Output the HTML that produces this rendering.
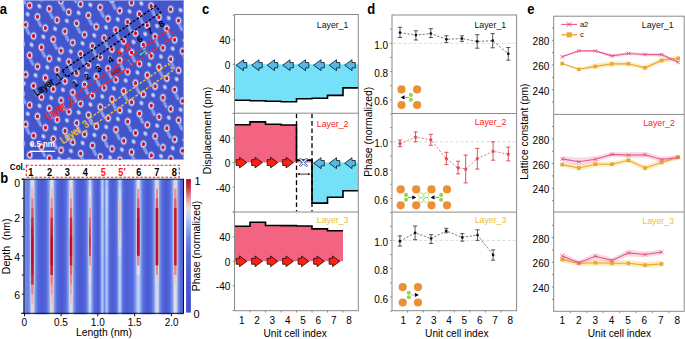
<!DOCTYPE html>
<html><head><meta charset="utf-8"><style>
html,body{margin:0;padding:0;background:#fff;width:685px;height:339px;overflow:hidden;}
svg{display:block;font-family:"Liberation Sans",sans-serif;}
</style></head><body>
<svg width="685" height="339" viewBox="0 0 685 339" font-family="Liberation Sans, sans-serif"><text x="0" y="0" font-size="13" text-anchor="start" fill="#000" font-weight="bold" transform="translate(-0.20,14.00) scale(1,1.16)" >a</text>
<text x="0" y="0" font-size="13" text-anchor="start" fill="#000" font-weight="bold" transform="translate(0.20,182.50) scale(1,1.16)" >b</text>
<text x="0" y="0" font-size="13" text-anchor="start" fill="#000" font-weight="bold" transform="translate(202.00,14.10) scale(1,1.16)" >c</text>
<text x="0" y="0" font-size="13" text-anchor="start" fill="#000" font-weight="bold" transform="translate(367.30,14.20) scale(1,1.16)" >d</text>
<text x="0" y="0" font-size="13" text-anchor="start" fill="#000" font-weight="bold" transform="translate(527.30,14.20) scale(1,1.16)" >e</text>
<defs>
<clipPath id="clipA"><rect x="23.6" y="0" width="160.2" height="159.7"/></clipPath>
<radialGradient id="gRed"><stop offset="0" stop-color="#c21628"/><stop offset="0.30" stop-color="#c81a32"/><stop offset="0.37" stop-color="#dc7890"/><stop offset="0.44" stop-color="#d6dcf4"/><stop offset="0.56" stop-color="#b6c4f0"/><stop offset="0.78" stop-color="#8295e2" stop-opacity="0.6"/><stop offset="1" stop-color="#4455cc" stop-opacity="0"/></radialGradient>
<radialGradient id="gWht"><stop offset="0" stop-color="#d8e1f9"/><stop offset="0.3" stop-color="#c0cef5"/><stop offset="0.65" stop-color="#8fa2ea" stop-opacity="0.75"/><stop offset="1" stop-color="#4455cc" stop-opacity="0"/></radialGradient>
<radialGradient id="gFnt"><stop offset="0" stop-color="#aabcf2" stop-opacity="0.8"/><stop offset="0.5" stop-color="#94a8ea" stop-opacity="0.55"/><stop offset="1" stop-color="#4455cc" stop-opacity="0"/></radialGradient>
<radialGradient id="gTrl"><stop offset="0" stop-color="#a8baf2" stop-opacity="0.9"/><stop offset="0.6" stop-color="#8ea2e8" stop-opacity="0.6"/><stop offset="1" stop-color="#4455cc" stop-opacity="0"/></radialGradient>
</defs>
<g clip-path="url(#clipA)">
<rect x="23.60" y="0.00" width="160.20" height="159.70" fill="#4455cc" stroke="none" stroke-width="1" />
<ellipse cx="19.95" cy="152.35" rx="2.9" ry="3.6" fill="url(#gWht)" transform="rotate(-30 19.95 152.35)"/>
<ellipse cx="16.00" cy="121.81" rx="2.9" ry="3.6" fill="url(#gWht)" transform="rotate(-30 16.00 121.81)"/>
<ellipse cx="31.70" cy="144.37" rx="2.9" ry="3.6" fill="url(#gWht)" transform="rotate(-30 31.70 144.37)"/>
<ellipse cx="47.40" cy="166.93" rx="2.9" ry="3.6" fill="url(#gWht)" transform="rotate(-30 47.40 166.93)"/>
<ellipse cx="27.75" cy="113.83" rx="2.9" ry="3.6" fill="url(#gWht)" transform="rotate(-30 27.75 113.83)"/>
<ellipse cx="43.45" cy="136.39" rx="2.9" ry="3.6" fill="url(#gWht)" transform="rotate(-30 43.45 136.39)"/>
<ellipse cx="59.15" cy="158.95" rx="2.9" ry="3.6" fill="url(#gWht)" transform="rotate(-30 59.15 158.95)"/>
<ellipse cx="23.80" cy="83.29" rx="2.9" ry="3.6" fill="url(#gWht)" transform="rotate(-30 23.80 83.29)"/>
<ellipse cx="39.50" cy="105.85" rx="2.9" ry="3.6" fill="url(#gWht)" transform="rotate(-30 39.50 105.85)"/>
<ellipse cx="55.20" cy="128.41" rx="2.9" ry="3.6" fill="url(#gWht)" transform="rotate(-30 55.20 128.41)"/>
<ellipse cx="70.90" cy="150.97" rx="2.9" ry="3.6" fill="url(#gWht)" transform="rotate(-30 70.90 150.97)"/>
<ellipse cx="19.85" cy="52.75" rx="2.9" ry="3.6" fill="url(#gWht)" transform="rotate(-30 19.85 52.75)"/>
<ellipse cx="35.55" cy="75.31" rx="2.9" ry="3.6" fill="url(#gWht)" transform="rotate(-30 35.55 75.31)"/>
<ellipse cx="51.25" cy="97.87" rx="2.9" ry="3.6" fill="url(#gWht)" transform="rotate(-30 51.25 97.87)"/>
<ellipse cx="66.95" cy="120.43" rx="2.9" ry="3.6" fill="url(#gWht)" transform="rotate(-30 66.95 120.43)"/>
<ellipse cx="82.65" cy="142.99" rx="2.9" ry="3.6" fill="url(#gWht)" transform="rotate(-30 82.65 142.99)"/>
<ellipse cx="98.35" cy="165.55" rx="2.9" ry="3.6" fill="url(#gWht)" transform="rotate(-30 98.35 165.55)"/>
<ellipse cx="15.90" cy="22.21" rx="2.9" ry="3.6" fill="url(#gWht)" transform="rotate(-30 15.90 22.21)"/>
<ellipse cx="31.60" cy="44.77" rx="2.9" ry="3.6" fill="url(#gWht)" transform="rotate(-30 31.60 44.77)"/>
<ellipse cx="47.30" cy="67.33" rx="2.9" ry="3.6" fill="url(#gWht)" transform="rotate(-30 47.30 67.33)"/>
<ellipse cx="63.00" cy="89.89" rx="2.9" ry="3.6" fill="url(#gWht)" transform="rotate(-30 63.00 89.89)"/>
<ellipse cx="78.70" cy="112.45" rx="2.9" ry="3.6" fill="url(#gWht)" transform="rotate(-30 78.70 112.45)"/>
<ellipse cx="94.40" cy="135.01" rx="2.9" ry="3.6" fill="url(#gWht)" transform="rotate(-30 94.40 135.01)"/>
<ellipse cx="110.10" cy="157.57" rx="2.9" ry="3.6" fill="url(#gWht)" transform="rotate(-30 110.10 157.57)"/>
<ellipse cx="27.65" cy="14.23" rx="2.9" ry="3.6" fill="url(#gWht)" transform="rotate(-30 27.65 14.23)"/>
<ellipse cx="43.35" cy="36.79" rx="2.9" ry="3.6" fill="url(#gWht)" transform="rotate(-30 43.35 36.79)"/>
<ellipse cx="59.05" cy="59.35" rx="2.9" ry="3.6" fill="url(#gWht)" transform="rotate(-30 59.05 59.35)"/>
<ellipse cx="74.75" cy="81.91" rx="2.9" ry="3.6" fill="url(#gWht)" transform="rotate(-30 74.75 81.91)"/>
<ellipse cx="90.45" cy="104.47" rx="2.9" ry="3.6" fill="url(#gWht)" transform="rotate(-30 90.45 104.47)"/>
<ellipse cx="106.15" cy="127.03" rx="2.9" ry="3.6" fill="url(#gWht)" transform="rotate(-30 106.15 127.03)"/>
<ellipse cx="121.85" cy="149.59" rx="2.9" ry="3.6" fill="url(#gWht)" transform="rotate(-30 121.85 149.59)"/>
<ellipse cx="39.40" cy="6.25" rx="2.9" ry="3.6" fill="url(#gWht)" transform="rotate(-30 39.40 6.25)"/>
<ellipse cx="55.10" cy="28.81" rx="2.9" ry="3.6" fill="url(#gWht)" transform="rotate(-30 55.10 28.81)"/>
<ellipse cx="70.80" cy="51.37" rx="2.9" ry="3.6" fill="url(#gWht)" transform="rotate(-30 70.80 51.37)"/>
<ellipse cx="86.50" cy="73.93" rx="2.9" ry="3.6" fill="url(#gWht)" transform="rotate(-30 86.50 73.93)"/>
<ellipse cx="102.20" cy="96.49" rx="2.9" ry="3.6" fill="url(#gWht)" transform="rotate(-30 102.20 96.49)"/>
<ellipse cx="117.90" cy="119.05" rx="2.9" ry="3.6" fill="url(#gWht)" transform="rotate(-30 117.90 119.05)"/>
<ellipse cx="133.60" cy="141.61" rx="2.9" ry="3.6" fill="url(#gWht)" transform="rotate(-30 133.60 141.61)"/>
<ellipse cx="149.30" cy="164.17" rx="2.9" ry="3.6" fill="url(#gWht)" transform="rotate(-30 149.30 164.17)"/>
<ellipse cx="51.15" cy="-1.73" rx="2.9" ry="3.6" fill="url(#gWht)" transform="rotate(-30 51.15 -1.73)"/>
<ellipse cx="66.85" cy="20.83" rx="2.9" ry="3.6" fill="url(#gWht)" transform="rotate(-30 66.85 20.83)"/>
<ellipse cx="82.55" cy="43.39" rx="2.9" ry="3.6" fill="url(#gWht)" transform="rotate(-30 82.55 43.39)"/>
<ellipse cx="98.25" cy="65.95" rx="2.9" ry="3.6" fill="url(#gWht)" transform="rotate(-30 98.25 65.95)"/>
<ellipse cx="113.95" cy="88.51" rx="2.9" ry="3.6" fill="url(#gWht)" transform="rotate(-30 113.95 88.51)"/>
<ellipse cx="129.65" cy="111.07" rx="2.9" ry="3.6" fill="url(#gWht)" transform="rotate(-30 129.65 111.07)"/>
<ellipse cx="145.35" cy="133.63" rx="2.9" ry="3.6" fill="url(#gWht)" transform="rotate(-30 145.35 133.63)"/>
<ellipse cx="161.05" cy="156.19" rx="2.9" ry="3.6" fill="url(#gWht)" transform="rotate(-30 161.05 156.19)"/>
<ellipse cx="78.60" cy="12.85" rx="2.9" ry="3.6" fill="url(#gWht)" transform="rotate(-30 78.60 12.85)"/>
<ellipse cx="94.30" cy="35.41" rx="2.9" ry="3.6" fill="url(#gWht)" transform="rotate(-30 94.30 35.41)"/>
<ellipse cx="110.00" cy="57.97" rx="2.9" ry="3.6" fill="url(#gWht)" transform="rotate(-30 110.00 57.97)"/>
<ellipse cx="125.70" cy="80.53" rx="2.9" ry="3.6" fill="url(#gWht)" transform="rotate(-30 125.70 80.53)"/>
<ellipse cx="141.40" cy="103.09" rx="2.9" ry="3.6" fill="url(#gWht)" transform="rotate(-30 141.40 103.09)"/>
<ellipse cx="157.10" cy="125.65" rx="2.9" ry="3.6" fill="url(#gWht)" transform="rotate(-30 157.10 125.65)"/>
<ellipse cx="172.80" cy="148.21" rx="2.9" ry="3.6" fill="url(#gWht)" transform="rotate(-30 172.80 148.21)"/>
<ellipse cx="90.35" cy="4.87" rx="2.9" ry="3.6" fill="url(#gWht)" transform="rotate(-30 90.35 4.87)"/>
<ellipse cx="106.05" cy="27.43" rx="2.9" ry="3.6" fill="url(#gWht)" transform="rotate(-30 106.05 27.43)"/>
<ellipse cx="121.75" cy="49.99" rx="2.9" ry="3.6" fill="url(#gWht)" transform="rotate(-30 121.75 49.99)"/>
<ellipse cx="137.45" cy="72.55" rx="2.9" ry="3.6" fill="url(#gWht)" transform="rotate(-30 137.45 72.55)"/>
<ellipse cx="153.15" cy="95.11" rx="2.9" ry="3.6" fill="url(#gWht)" transform="rotate(-30 153.15 95.11)"/>
<ellipse cx="168.85" cy="117.67" rx="2.9" ry="3.6" fill="url(#gWht)" transform="rotate(-30 168.85 117.67)"/>
<ellipse cx="184.55" cy="140.23" rx="2.9" ry="3.6" fill="url(#gWht)" transform="rotate(-30 184.55 140.23)"/>
<ellipse cx="102.10" cy="-3.11" rx="2.9" ry="3.6" fill="url(#gWht)" transform="rotate(-30 102.10 -3.11)"/>
<ellipse cx="117.80" cy="19.45" rx="2.9" ry="3.6" fill="url(#gWht)" transform="rotate(-30 117.80 19.45)"/>
<ellipse cx="133.50" cy="42.01" rx="2.9" ry="3.6" fill="url(#gWht)" transform="rotate(-30 133.50 42.01)"/>
<ellipse cx="149.20" cy="64.57" rx="2.9" ry="3.6" fill="url(#gWht)" transform="rotate(-30 149.20 64.57)"/>
<ellipse cx="164.90" cy="87.13" rx="2.9" ry="3.6" fill="url(#gWht)" transform="rotate(-30 164.90 87.13)"/>
<ellipse cx="180.60" cy="109.69" rx="2.9" ry="3.6" fill="url(#gWht)" transform="rotate(-30 180.60 109.69)"/>
<ellipse cx="129.55" cy="11.47" rx="2.9" ry="3.6" fill="url(#gWht)" transform="rotate(-30 129.55 11.47)"/>
<ellipse cx="145.25" cy="34.03" rx="2.9" ry="3.6" fill="url(#gWht)" transform="rotate(-30 145.25 34.03)"/>
<ellipse cx="160.95" cy="56.59" rx="2.9" ry="3.6" fill="url(#gWht)" transform="rotate(-30 160.95 56.59)"/>
<ellipse cx="176.65" cy="79.15" rx="2.9" ry="3.6" fill="url(#gWht)" transform="rotate(-30 176.65 79.15)"/>
<ellipse cx="141.30" cy="3.49" rx="2.9" ry="3.6" fill="url(#gWht)" transform="rotate(-30 141.30 3.49)"/>
<ellipse cx="157.00" cy="26.05" rx="2.9" ry="3.6" fill="url(#gWht)" transform="rotate(-30 157.00 26.05)"/>
<ellipse cx="172.70" cy="48.61" rx="2.9" ry="3.6" fill="url(#gWht)" transform="rotate(-30 172.70 48.61)"/>
<ellipse cx="188.40" cy="71.17" rx="2.9" ry="3.6" fill="url(#gWht)" transform="rotate(-30 188.40 71.17)"/>
<ellipse cx="168.75" cy="18.07" rx="2.9" ry="3.6" fill="url(#gWht)" transform="rotate(-30 168.75 18.07)"/>
<ellipse cx="184.45" cy="40.63" rx="2.9" ry="3.6" fill="url(#gWht)" transform="rotate(-30 184.45 40.63)"/>
<ellipse cx="180.50" cy="10.09" rx="2.9" ry="3.6" fill="url(#gWht)" transform="rotate(-30 180.50 10.09)"/>
<ellipse cx="19.90" cy="169.08" rx="2.6" ry="5.6" fill="url(#gTrl)" transform="rotate(-22 19.90 169.08)"/>
<ellipse cx="18.70" cy="166.48" rx="2.5" ry="2.8" fill="url(#gFnt)"/>
<ellipse cx="21.20" cy="171.68" rx="2.5" ry="2.8" fill="url(#gFnt)"/>
<ellipse cx="31.65" cy="161.10" rx="2.6" ry="5.6" fill="url(#gTrl)" transform="rotate(-22 31.65 161.10)"/>
<ellipse cx="30.45" cy="158.50" rx="2.5" ry="2.8" fill="url(#gFnt)"/>
<ellipse cx="32.95" cy="163.70" rx="2.5" ry="2.8" fill="url(#gFnt)"/>
<ellipse cx="27.70" cy="130.56" rx="2.6" ry="5.6" fill="url(#gTrl)" transform="rotate(-22 27.70 130.56)"/>
<ellipse cx="26.50" cy="127.96" rx="2.5" ry="2.8" fill="url(#gFnt)"/>
<ellipse cx="29.00" cy="133.16" rx="2.5" ry="2.8" fill="url(#gFnt)"/>
<ellipse cx="43.40" cy="153.12" rx="2.6" ry="5.6" fill="url(#gTrl)" transform="rotate(-22 43.40 153.12)"/>
<ellipse cx="42.20" cy="150.52" rx="2.5" ry="2.8" fill="url(#gFnt)"/>
<ellipse cx="44.70" cy="155.72" rx="2.5" ry="2.8" fill="url(#gFnt)"/>
<ellipse cx="23.75" cy="100.02" rx="2.6" ry="5.6" fill="url(#gTrl)" transform="rotate(-22 23.75 100.02)"/>
<ellipse cx="22.55" cy="97.42" rx="2.5" ry="2.8" fill="url(#gFnt)"/>
<ellipse cx="25.05" cy="102.62" rx="2.5" ry="2.8" fill="url(#gFnt)"/>
<ellipse cx="39.45" cy="122.58" rx="2.6" ry="5.6" fill="url(#gTrl)" transform="rotate(-22 39.45 122.58)"/>
<ellipse cx="38.25" cy="119.98" rx="2.5" ry="2.8" fill="url(#gFnt)"/>
<ellipse cx="40.75" cy="125.18" rx="2.5" ry="2.8" fill="url(#gFnt)"/>
<ellipse cx="55.15" cy="145.14" rx="2.6" ry="5.6" fill="url(#gTrl)" transform="rotate(-22 55.15 145.14)"/>
<ellipse cx="53.95" cy="142.54" rx="2.5" ry="2.8" fill="url(#gFnt)"/>
<ellipse cx="56.45" cy="147.74" rx="2.5" ry="2.8" fill="url(#gFnt)"/>
<ellipse cx="70.85" cy="167.70" rx="2.6" ry="5.6" fill="url(#gTrl)" transform="rotate(-22 70.85 167.70)"/>
<ellipse cx="69.65" cy="165.10" rx="2.5" ry="2.8" fill="url(#gFnt)"/>
<ellipse cx="72.15" cy="170.30" rx="2.5" ry="2.8" fill="url(#gFnt)"/>
<ellipse cx="19.80" cy="69.48" rx="2.6" ry="5.6" fill="url(#gTrl)" transform="rotate(-22 19.80 69.48)"/>
<ellipse cx="18.60" cy="66.88" rx="2.5" ry="2.8" fill="url(#gFnt)"/>
<ellipse cx="21.10" cy="72.08" rx="2.5" ry="2.8" fill="url(#gFnt)"/>
<ellipse cx="35.50" cy="92.04" rx="2.6" ry="5.6" fill="url(#gTrl)" transform="rotate(-22 35.50 92.04)"/>
<ellipse cx="34.30" cy="89.44" rx="2.5" ry="2.8" fill="url(#gFnt)"/>
<ellipse cx="36.80" cy="94.64" rx="2.5" ry="2.8" fill="url(#gFnt)"/>
<ellipse cx="51.20" cy="114.60" rx="2.6" ry="5.6" fill="url(#gTrl)" transform="rotate(-22 51.20 114.60)"/>
<ellipse cx="50.00" cy="112.00" rx="2.5" ry="2.8" fill="url(#gFnt)"/>
<ellipse cx="52.50" cy="117.20" rx="2.5" ry="2.8" fill="url(#gFnt)"/>
<ellipse cx="66.90" cy="137.16" rx="2.6" ry="5.6" fill="url(#gTrl)" transform="rotate(-22 66.90 137.16)"/>
<ellipse cx="65.70" cy="134.56" rx="2.5" ry="2.8" fill="url(#gFnt)"/>
<ellipse cx="68.20" cy="139.76" rx="2.5" ry="2.8" fill="url(#gFnt)"/>
<ellipse cx="82.60" cy="159.72" rx="2.6" ry="5.6" fill="url(#gTrl)" transform="rotate(-22 82.60 159.72)"/>
<ellipse cx="81.40" cy="157.12" rx="2.5" ry="2.8" fill="url(#gFnt)"/>
<ellipse cx="83.90" cy="162.32" rx="2.5" ry="2.8" fill="url(#gFnt)"/>
<ellipse cx="31.55" cy="61.50" rx="2.6" ry="5.6" fill="url(#gTrl)" transform="rotate(-22 31.55 61.50)"/>
<ellipse cx="30.35" cy="58.90" rx="2.5" ry="2.8" fill="url(#gFnt)"/>
<ellipse cx="32.85" cy="64.10" rx="2.5" ry="2.8" fill="url(#gFnt)"/>
<ellipse cx="47.25" cy="84.06" rx="2.6" ry="5.6" fill="url(#gTrl)" transform="rotate(-22 47.25 84.06)"/>
<ellipse cx="46.05" cy="81.46" rx="2.5" ry="2.8" fill="url(#gFnt)"/>
<ellipse cx="48.55" cy="86.66" rx="2.5" ry="2.8" fill="url(#gFnt)"/>
<ellipse cx="62.95" cy="106.62" rx="2.6" ry="5.6" fill="url(#gTrl)" transform="rotate(-22 62.95 106.62)"/>
<ellipse cx="61.75" cy="104.02" rx="2.5" ry="2.8" fill="url(#gFnt)"/>
<ellipse cx="64.25" cy="109.22" rx="2.5" ry="2.8" fill="url(#gFnt)"/>
<ellipse cx="78.65" cy="129.18" rx="2.6" ry="5.6" fill="url(#gTrl)" transform="rotate(-22 78.65 129.18)"/>
<ellipse cx="77.45" cy="126.58" rx="2.5" ry="2.8" fill="url(#gFnt)"/>
<ellipse cx="79.95" cy="131.78" rx="2.5" ry="2.8" fill="url(#gFnt)"/>
<ellipse cx="94.35" cy="151.74" rx="2.6" ry="5.6" fill="url(#gTrl)" transform="rotate(-22 94.35 151.74)"/>
<ellipse cx="93.15" cy="149.14" rx="2.5" ry="2.8" fill="url(#gFnt)"/>
<ellipse cx="95.65" cy="154.34" rx="2.5" ry="2.8" fill="url(#gFnt)"/>
<ellipse cx="27.60" cy="30.96" rx="2.6" ry="5.6" fill="url(#gTrl)" transform="rotate(-22 27.60 30.96)"/>
<ellipse cx="26.40" cy="28.36" rx="2.5" ry="2.8" fill="url(#gFnt)"/>
<ellipse cx="28.90" cy="33.56" rx="2.5" ry="2.8" fill="url(#gFnt)"/>
<ellipse cx="43.30" cy="53.52" rx="2.6" ry="5.6" fill="url(#gTrl)" transform="rotate(-22 43.30 53.52)"/>
<ellipse cx="42.10" cy="50.92" rx="2.5" ry="2.8" fill="url(#gFnt)"/>
<ellipse cx="44.60" cy="56.12" rx="2.5" ry="2.8" fill="url(#gFnt)"/>
<ellipse cx="59.00" cy="76.08" rx="2.6" ry="5.6" fill="url(#gTrl)" transform="rotate(-22 59.00 76.08)"/>
<ellipse cx="57.80" cy="73.48" rx="2.5" ry="2.8" fill="url(#gFnt)"/>
<ellipse cx="60.30" cy="78.68" rx="2.5" ry="2.8" fill="url(#gFnt)"/>
<ellipse cx="74.70" cy="98.64" rx="2.6" ry="5.6" fill="url(#gTrl)" transform="rotate(-22 74.70 98.64)"/>
<ellipse cx="73.50" cy="96.04" rx="2.5" ry="2.8" fill="url(#gFnt)"/>
<ellipse cx="76.00" cy="101.24" rx="2.5" ry="2.8" fill="url(#gFnt)"/>
<ellipse cx="90.40" cy="121.20" rx="2.6" ry="5.6" fill="url(#gTrl)" transform="rotate(-22 90.40 121.20)"/>
<ellipse cx="89.20" cy="118.60" rx="2.5" ry="2.8" fill="url(#gFnt)"/>
<ellipse cx="91.70" cy="123.80" rx="2.5" ry="2.8" fill="url(#gFnt)"/>
<ellipse cx="106.10" cy="143.76" rx="2.6" ry="5.6" fill="url(#gTrl)" transform="rotate(-22 106.10 143.76)"/>
<ellipse cx="104.90" cy="141.16" rx="2.5" ry="2.8" fill="url(#gFnt)"/>
<ellipse cx="107.40" cy="146.36" rx="2.5" ry="2.8" fill="url(#gFnt)"/>
<ellipse cx="121.80" cy="166.32" rx="2.6" ry="5.6" fill="url(#gTrl)" transform="rotate(-22 121.80 166.32)"/>
<ellipse cx="120.60" cy="163.72" rx="2.5" ry="2.8" fill="url(#gFnt)"/>
<ellipse cx="123.10" cy="168.92" rx="2.5" ry="2.8" fill="url(#gFnt)"/>
<ellipse cx="23.65" cy="0.42" rx="2.6" ry="5.6" fill="url(#gTrl)" transform="rotate(-22 23.65 0.42)"/>
<ellipse cx="22.45" cy="-2.18" rx="2.5" ry="2.8" fill="url(#gFnt)"/>
<ellipse cx="24.95" cy="3.02" rx="2.5" ry="2.8" fill="url(#gFnt)"/>
<ellipse cx="39.35" cy="22.98" rx="2.6" ry="5.6" fill="url(#gTrl)" transform="rotate(-22 39.35 22.98)"/>
<ellipse cx="38.15" cy="20.38" rx="2.5" ry="2.8" fill="url(#gFnt)"/>
<ellipse cx="40.65" cy="25.58" rx="2.5" ry="2.8" fill="url(#gFnt)"/>
<ellipse cx="55.05" cy="45.54" rx="2.6" ry="5.6" fill="url(#gTrl)" transform="rotate(-22 55.05 45.54)"/>
<ellipse cx="53.85" cy="42.94" rx="2.5" ry="2.8" fill="url(#gFnt)"/>
<ellipse cx="56.35" cy="48.14" rx="2.5" ry="2.8" fill="url(#gFnt)"/>
<ellipse cx="70.75" cy="68.10" rx="2.6" ry="5.6" fill="url(#gTrl)" transform="rotate(-22 70.75 68.10)"/>
<ellipse cx="69.55" cy="65.50" rx="2.5" ry="2.8" fill="url(#gFnt)"/>
<ellipse cx="72.05" cy="70.70" rx="2.5" ry="2.8" fill="url(#gFnt)"/>
<ellipse cx="86.45" cy="90.66" rx="2.6" ry="5.6" fill="url(#gTrl)" transform="rotate(-22 86.45 90.66)"/>
<ellipse cx="85.25" cy="88.06" rx="2.5" ry="2.8" fill="url(#gFnt)"/>
<ellipse cx="87.75" cy="93.26" rx="2.5" ry="2.8" fill="url(#gFnt)"/>
<ellipse cx="102.15" cy="113.22" rx="2.6" ry="5.6" fill="url(#gTrl)" transform="rotate(-22 102.15 113.22)"/>
<ellipse cx="100.95" cy="110.62" rx="2.5" ry="2.8" fill="url(#gFnt)"/>
<ellipse cx="103.45" cy="115.82" rx="2.5" ry="2.8" fill="url(#gFnt)"/>
<ellipse cx="117.85" cy="135.78" rx="2.6" ry="5.6" fill="url(#gTrl)" transform="rotate(-22 117.85 135.78)"/>
<ellipse cx="116.65" cy="133.18" rx="2.5" ry="2.8" fill="url(#gFnt)"/>
<ellipse cx="119.15" cy="138.38" rx="2.5" ry="2.8" fill="url(#gFnt)"/>
<ellipse cx="133.55" cy="158.34" rx="2.6" ry="5.6" fill="url(#gTrl)" transform="rotate(-22 133.55 158.34)"/>
<ellipse cx="132.35" cy="155.74" rx="2.5" ry="2.8" fill="url(#gFnt)"/>
<ellipse cx="134.85" cy="160.94" rx="2.5" ry="2.8" fill="url(#gFnt)"/>
<ellipse cx="35.40" cy="-7.56" rx="2.6" ry="5.6" fill="url(#gTrl)" transform="rotate(-22 35.40 -7.56)"/>
<ellipse cx="34.20" cy="-10.16" rx="2.5" ry="2.8" fill="url(#gFnt)"/>
<ellipse cx="36.70" cy="-4.96" rx="2.5" ry="2.8" fill="url(#gFnt)"/>
<ellipse cx="51.10" cy="15.00" rx="2.6" ry="5.6" fill="url(#gTrl)" transform="rotate(-22 51.10 15.00)"/>
<ellipse cx="49.90" cy="12.40" rx="2.5" ry="2.8" fill="url(#gFnt)"/>
<ellipse cx="52.40" cy="17.60" rx="2.5" ry="2.8" fill="url(#gFnt)"/>
<ellipse cx="66.80" cy="37.56" rx="2.6" ry="5.6" fill="url(#gTrl)" transform="rotate(-22 66.80 37.56)"/>
<ellipse cx="65.60" cy="34.96" rx="2.5" ry="2.8" fill="url(#gFnt)"/>
<ellipse cx="68.10" cy="40.16" rx="2.5" ry="2.8" fill="url(#gFnt)"/>
<ellipse cx="82.50" cy="60.12" rx="2.6" ry="5.6" fill="url(#gTrl)" transform="rotate(-22 82.50 60.12)"/>
<ellipse cx="81.30" cy="57.52" rx="2.5" ry="2.8" fill="url(#gFnt)"/>
<ellipse cx="83.80" cy="62.72" rx="2.5" ry="2.8" fill="url(#gFnt)"/>
<ellipse cx="98.20" cy="82.68" rx="2.6" ry="5.6" fill="url(#gTrl)" transform="rotate(-22 98.20 82.68)"/>
<ellipse cx="97.00" cy="80.08" rx="2.5" ry="2.8" fill="url(#gFnt)"/>
<ellipse cx="99.50" cy="85.28" rx="2.5" ry="2.8" fill="url(#gFnt)"/>
<ellipse cx="113.90" cy="105.24" rx="2.6" ry="5.6" fill="url(#gTrl)" transform="rotate(-22 113.90 105.24)"/>
<ellipse cx="112.70" cy="102.64" rx="2.5" ry="2.8" fill="url(#gFnt)"/>
<ellipse cx="115.20" cy="107.84" rx="2.5" ry="2.8" fill="url(#gFnt)"/>
<ellipse cx="129.60" cy="127.80" rx="2.6" ry="5.6" fill="url(#gTrl)" transform="rotate(-22 129.60 127.80)"/>
<ellipse cx="128.40" cy="125.20" rx="2.5" ry="2.8" fill="url(#gFnt)"/>
<ellipse cx="130.90" cy="130.40" rx="2.5" ry="2.8" fill="url(#gFnt)"/>
<ellipse cx="145.30" cy="150.36" rx="2.6" ry="5.6" fill="url(#gTrl)" transform="rotate(-22 145.30 150.36)"/>
<ellipse cx="144.10" cy="147.76" rx="2.5" ry="2.8" fill="url(#gFnt)"/>
<ellipse cx="146.60" cy="152.96" rx="2.5" ry="2.8" fill="url(#gFnt)"/>
<ellipse cx="161.00" cy="172.92" rx="2.6" ry="5.6" fill="url(#gTrl)" transform="rotate(-22 161.00 172.92)"/>
<ellipse cx="159.80" cy="170.32" rx="2.5" ry="2.8" fill="url(#gFnt)"/>
<ellipse cx="162.30" cy="175.52" rx="2.5" ry="2.8" fill="url(#gFnt)"/>
<ellipse cx="62.85" cy="7.02" rx="2.6" ry="5.6" fill="url(#gTrl)" transform="rotate(-22 62.85 7.02)"/>
<ellipse cx="61.65" cy="4.42" rx="2.5" ry="2.8" fill="url(#gFnt)"/>
<ellipse cx="64.15" cy="9.62" rx="2.5" ry="2.8" fill="url(#gFnt)"/>
<ellipse cx="78.55" cy="29.58" rx="2.6" ry="5.6" fill="url(#gTrl)" transform="rotate(-22 78.55 29.58)"/>
<ellipse cx="77.35" cy="26.98" rx="2.5" ry="2.8" fill="url(#gFnt)"/>
<ellipse cx="79.85" cy="32.18" rx="2.5" ry="2.8" fill="url(#gFnt)"/>
<ellipse cx="94.25" cy="52.14" rx="2.6" ry="5.6" fill="url(#gTrl)" transform="rotate(-22 94.25 52.14)"/>
<ellipse cx="93.05" cy="49.54" rx="2.5" ry="2.8" fill="url(#gFnt)"/>
<ellipse cx="95.55" cy="54.74" rx="2.5" ry="2.8" fill="url(#gFnt)"/>
<ellipse cx="109.95" cy="74.70" rx="2.6" ry="5.6" fill="url(#gTrl)" transform="rotate(-22 109.95 74.70)"/>
<ellipse cx="108.75" cy="72.10" rx="2.5" ry="2.8" fill="url(#gFnt)"/>
<ellipse cx="111.25" cy="77.30" rx="2.5" ry="2.8" fill="url(#gFnt)"/>
<ellipse cx="125.65" cy="97.26" rx="2.6" ry="5.6" fill="url(#gTrl)" transform="rotate(-22 125.65 97.26)"/>
<ellipse cx="124.45" cy="94.66" rx="2.5" ry="2.8" fill="url(#gFnt)"/>
<ellipse cx="126.95" cy="99.86" rx="2.5" ry="2.8" fill="url(#gFnt)"/>
<ellipse cx="141.35" cy="119.82" rx="2.6" ry="5.6" fill="url(#gTrl)" transform="rotate(-22 141.35 119.82)"/>
<ellipse cx="140.15" cy="117.22" rx="2.5" ry="2.8" fill="url(#gFnt)"/>
<ellipse cx="142.65" cy="122.42" rx="2.5" ry="2.8" fill="url(#gFnt)"/>
<ellipse cx="157.05" cy="142.38" rx="2.6" ry="5.6" fill="url(#gTrl)" transform="rotate(-22 157.05 142.38)"/>
<ellipse cx="155.85" cy="139.78" rx="2.5" ry="2.8" fill="url(#gFnt)"/>
<ellipse cx="158.35" cy="144.98" rx="2.5" ry="2.8" fill="url(#gFnt)"/>
<ellipse cx="172.75" cy="164.94" rx="2.6" ry="5.6" fill="url(#gTrl)" transform="rotate(-22 172.75 164.94)"/>
<ellipse cx="171.55" cy="162.34" rx="2.5" ry="2.8" fill="url(#gFnt)"/>
<ellipse cx="174.05" cy="167.54" rx="2.5" ry="2.8" fill="url(#gFnt)"/>
<ellipse cx="74.60" cy="-0.96" rx="2.6" ry="5.6" fill="url(#gTrl)" transform="rotate(-22 74.60 -0.96)"/>
<ellipse cx="73.40" cy="-3.56" rx="2.5" ry="2.8" fill="url(#gFnt)"/>
<ellipse cx="75.90" cy="1.64" rx="2.5" ry="2.8" fill="url(#gFnt)"/>
<ellipse cx="90.30" cy="21.60" rx="2.6" ry="5.6" fill="url(#gTrl)" transform="rotate(-22 90.30 21.60)"/>
<ellipse cx="89.10" cy="19.00" rx="2.5" ry="2.8" fill="url(#gFnt)"/>
<ellipse cx="91.60" cy="24.20" rx="2.5" ry="2.8" fill="url(#gFnt)"/>
<ellipse cx="106.00" cy="44.16" rx="2.6" ry="5.6" fill="url(#gTrl)" transform="rotate(-22 106.00 44.16)"/>
<ellipse cx="104.80" cy="41.56" rx="2.5" ry="2.8" fill="url(#gFnt)"/>
<ellipse cx="107.30" cy="46.76" rx="2.5" ry="2.8" fill="url(#gFnt)"/>
<ellipse cx="121.70" cy="66.72" rx="2.6" ry="5.6" fill="url(#gTrl)" transform="rotate(-22 121.70 66.72)"/>
<ellipse cx="120.50" cy="64.12" rx="2.5" ry="2.8" fill="url(#gFnt)"/>
<ellipse cx="123.00" cy="69.32" rx="2.5" ry="2.8" fill="url(#gFnt)"/>
<ellipse cx="137.40" cy="89.28" rx="2.6" ry="5.6" fill="url(#gTrl)" transform="rotate(-22 137.40 89.28)"/>
<ellipse cx="136.20" cy="86.68" rx="2.5" ry="2.8" fill="url(#gFnt)"/>
<ellipse cx="138.70" cy="91.88" rx="2.5" ry="2.8" fill="url(#gFnt)"/>
<ellipse cx="153.10" cy="111.84" rx="2.6" ry="5.6" fill="url(#gTrl)" transform="rotate(-22 153.10 111.84)"/>
<ellipse cx="151.90" cy="109.24" rx="2.5" ry="2.8" fill="url(#gFnt)"/>
<ellipse cx="154.40" cy="114.44" rx="2.5" ry="2.8" fill="url(#gFnt)"/>
<ellipse cx="168.80" cy="134.40" rx="2.6" ry="5.6" fill="url(#gTrl)" transform="rotate(-22 168.80 134.40)"/>
<ellipse cx="167.60" cy="131.80" rx="2.5" ry="2.8" fill="url(#gFnt)"/>
<ellipse cx="170.10" cy="137.00" rx="2.5" ry="2.8" fill="url(#gFnt)"/>
<ellipse cx="184.50" cy="156.96" rx="2.6" ry="5.6" fill="url(#gTrl)" transform="rotate(-22 184.50 156.96)"/>
<ellipse cx="183.30" cy="154.36" rx="2.5" ry="2.8" fill="url(#gFnt)"/>
<ellipse cx="185.80" cy="159.56" rx="2.5" ry="2.8" fill="url(#gFnt)"/>
<ellipse cx="102.05" cy="13.62" rx="2.6" ry="5.6" fill="url(#gTrl)" transform="rotate(-22 102.05 13.62)"/>
<ellipse cx="100.85" cy="11.02" rx="2.5" ry="2.8" fill="url(#gFnt)"/>
<ellipse cx="103.35" cy="16.22" rx="2.5" ry="2.8" fill="url(#gFnt)"/>
<ellipse cx="117.75" cy="36.18" rx="2.6" ry="5.6" fill="url(#gTrl)" transform="rotate(-22 117.75 36.18)"/>
<ellipse cx="116.55" cy="33.58" rx="2.5" ry="2.8" fill="url(#gFnt)"/>
<ellipse cx="119.05" cy="38.78" rx="2.5" ry="2.8" fill="url(#gFnt)"/>
<ellipse cx="133.45" cy="58.74" rx="2.6" ry="5.6" fill="url(#gTrl)" transform="rotate(-22 133.45 58.74)"/>
<ellipse cx="132.25" cy="56.14" rx="2.5" ry="2.8" fill="url(#gFnt)"/>
<ellipse cx="134.75" cy="61.34" rx="2.5" ry="2.8" fill="url(#gFnt)"/>
<ellipse cx="149.15" cy="81.30" rx="2.6" ry="5.6" fill="url(#gTrl)" transform="rotate(-22 149.15 81.30)"/>
<ellipse cx="147.95" cy="78.70" rx="2.5" ry="2.8" fill="url(#gFnt)"/>
<ellipse cx="150.45" cy="83.90" rx="2.5" ry="2.8" fill="url(#gFnt)"/>
<ellipse cx="164.85" cy="103.86" rx="2.6" ry="5.6" fill="url(#gTrl)" transform="rotate(-22 164.85 103.86)"/>
<ellipse cx="163.65" cy="101.26" rx="2.5" ry="2.8" fill="url(#gFnt)"/>
<ellipse cx="166.15" cy="106.46" rx="2.5" ry="2.8" fill="url(#gFnt)"/>
<ellipse cx="180.55" cy="126.42" rx="2.6" ry="5.6" fill="url(#gTrl)" transform="rotate(-22 180.55 126.42)"/>
<ellipse cx="179.35" cy="123.82" rx="2.5" ry="2.8" fill="url(#gFnt)"/>
<ellipse cx="181.85" cy="129.02" rx="2.5" ry="2.8" fill="url(#gFnt)"/>
<ellipse cx="113.80" cy="5.64" rx="2.6" ry="5.6" fill="url(#gTrl)" transform="rotate(-22 113.80 5.64)"/>
<ellipse cx="112.60" cy="3.04" rx="2.5" ry="2.8" fill="url(#gFnt)"/>
<ellipse cx="115.10" cy="8.24" rx="2.5" ry="2.8" fill="url(#gFnt)"/>
<ellipse cx="129.50" cy="28.20" rx="2.6" ry="5.6" fill="url(#gTrl)" transform="rotate(-22 129.50 28.20)"/>
<ellipse cx="128.30" cy="25.60" rx="2.5" ry="2.8" fill="url(#gFnt)"/>
<ellipse cx="130.80" cy="30.80" rx="2.5" ry="2.8" fill="url(#gFnt)"/>
<ellipse cx="145.20" cy="50.76" rx="2.6" ry="5.6" fill="url(#gTrl)" transform="rotate(-22 145.20 50.76)"/>
<ellipse cx="144.00" cy="48.16" rx="2.5" ry="2.8" fill="url(#gFnt)"/>
<ellipse cx="146.50" cy="53.36" rx="2.5" ry="2.8" fill="url(#gFnt)"/>
<ellipse cx="160.90" cy="73.32" rx="2.6" ry="5.6" fill="url(#gTrl)" transform="rotate(-22 160.90 73.32)"/>
<ellipse cx="159.70" cy="70.72" rx="2.5" ry="2.8" fill="url(#gFnt)"/>
<ellipse cx="162.20" cy="75.92" rx="2.5" ry="2.8" fill="url(#gFnt)"/>
<ellipse cx="176.60" cy="95.88" rx="2.6" ry="5.6" fill="url(#gTrl)" transform="rotate(-22 176.60 95.88)"/>
<ellipse cx="175.40" cy="93.28" rx="2.5" ry="2.8" fill="url(#gFnt)"/>
<ellipse cx="177.90" cy="98.48" rx="2.5" ry="2.8" fill="url(#gFnt)"/>
<ellipse cx="192.30" cy="118.44" rx="2.6" ry="5.6" fill="url(#gTrl)" transform="rotate(-22 192.30 118.44)"/>
<ellipse cx="191.10" cy="115.84" rx="2.5" ry="2.8" fill="url(#gFnt)"/>
<ellipse cx="193.60" cy="121.04" rx="2.5" ry="2.8" fill="url(#gFnt)"/>
<ellipse cx="141.25" cy="20.22" rx="2.6" ry="5.6" fill="url(#gTrl)" transform="rotate(-22 141.25 20.22)"/>
<ellipse cx="140.05" cy="17.62" rx="2.5" ry="2.8" fill="url(#gFnt)"/>
<ellipse cx="142.55" cy="22.82" rx="2.5" ry="2.8" fill="url(#gFnt)"/>
<ellipse cx="156.95" cy="42.78" rx="2.6" ry="5.6" fill="url(#gTrl)" transform="rotate(-22 156.95 42.78)"/>
<ellipse cx="155.75" cy="40.18" rx="2.5" ry="2.8" fill="url(#gFnt)"/>
<ellipse cx="158.25" cy="45.38" rx="2.5" ry="2.8" fill="url(#gFnt)"/>
<ellipse cx="172.65" cy="65.34" rx="2.6" ry="5.6" fill="url(#gTrl)" transform="rotate(-22 172.65 65.34)"/>
<ellipse cx="171.45" cy="62.74" rx="2.5" ry="2.8" fill="url(#gFnt)"/>
<ellipse cx="173.95" cy="67.94" rx="2.5" ry="2.8" fill="url(#gFnt)"/>
<ellipse cx="188.35" cy="87.90" rx="2.6" ry="5.6" fill="url(#gTrl)" transform="rotate(-22 188.35 87.90)"/>
<ellipse cx="187.15" cy="85.30" rx="2.5" ry="2.8" fill="url(#gFnt)"/>
<ellipse cx="189.65" cy="90.50" rx="2.5" ry="2.8" fill="url(#gFnt)"/>
<ellipse cx="153.00" cy="12.24" rx="2.6" ry="5.6" fill="url(#gTrl)" transform="rotate(-22 153.00 12.24)"/>
<ellipse cx="151.80" cy="9.64" rx="2.5" ry="2.8" fill="url(#gFnt)"/>
<ellipse cx="154.30" cy="14.84" rx="2.5" ry="2.8" fill="url(#gFnt)"/>
<ellipse cx="168.70" cy="34.80" rx="2.6" ry="5.6" fill="url(#gTrl)" transform="rotate(-22 168.70 34.80)"/>
<ellipse cx="167.50" cy="32.20" rx="2.5" ry="2.8" fill="url(#gFnt)"/>
<ellipse cx="170.00" cy="37.40" rx="2.5" ry="2.8" fill="url(#gFnt)"/>
<ellipse cx="184.40" cy="57.36" rx="2.6" ry="5.6" fill="url(#gTrl)" transform="rotate(-22 184.40 57.36)"/>
<ellipse cx="183.20" cy="54.76" rx="2.5" ry="2.8" fill="url(#gFnt)"/>
<ellipse cx="185.70" cy="59.96" rx="2.5" ry="2.8" fill="url(#gFnt)"/>
<ellipse cx="180.45" cy="26.82" rx="2.6" ry="5.6" fill="url(#gTrl)" transform="rotate(-22 180.45 26.82)"/>
<ellipse cx="179.25" cy="24.22" rx="2.5" ry="2.8" fill="url(#gFnt)"/>
<ellipse cx="181.75" cy="29.42" rx="2.5" ry="2.8" fill="url(#gFnt)"/>
<ellipse cx="192.20" cy="18.84" rx="2.6" ry="5.6" fill="url(#gTrl)" transform="rotate(-22 192.20 18.84)"/>
<ellipse cx="191.00" cy="16.24" rx="2.5" ry="2.8" fill="url(#gFnt)"/>
<ellipse cx="193.50" cy="21.44" rx="2.5" ry="2.8" fill="url(#gFnt)"/>
<ellipse cx="18.00" cy="162.88" rx="4.2" ry="5.3" fill="url(#gRed)"/>
<ellipse cx="21.90" cy="143.62" rx="4.2" ry="5.3" fill="url(#gRed)"/>
<ellipse cx="29.75" cy="154.90" rx="4.2" ry="5.3" fill="url(#gRed)"/>
<ellipse cx="37.60" cy="166.18" rx="4.2" ry="5.3" fill="url(#gRed)"/>
<ellipse cx="17.95" cy="113.08" rx="4.2" ry="5.3" fill="url(#gRed)"/>
<ellipse cx="25.80" cy="124.36" rx="4.2" ry="5.3" fill="url(#gRed)"/>
<ellipse cx="33.65" cy="135.64" rx="4.2" ry="5.3" fill="url(#gRed)"/>
<ellipse cx="41.50" cy="146.92" rx="4.2" ry="5.3" fill="url(#gRed)"/>
<ellipse cx="49.35" cy="158.20" rx="4.2" ry="5.3" fill="url(#gRed)"/>
<ellipse cx="21.85" cy="93.82" rx="4.2" ry="5.3" fill="url(#gRed)"/>
<ellipse cx="29.70" cy="105.10" rx="4.2" ry="5.3" fill="url(#gRed)"/>
<ellipse cx="37.55" cy="116.38" rx="4.2" ry="5.3" fill="url(#gRed)"/>
<ellipse cx="45.40" cy="127.66" rx="4.2" ry="5.3" fill="url(#gRed)"/>
<ellipse cx="53.25" cy="138.94" rx="4.2" ry="5.3" fill="url(#gRed)"/>
<ellipse cx="61.10" cy="150.22" rx="4.2" ry="5.3" fill="url(#gRed)"/>
<ellipse cx="68.95" cy="161.50" rx="4.2" ry="5.3" fill="url(#gRed)"/>
<ellipse cx="17.90" cy="63.28" rx="4.2" ry="5.3" fill="url(#gRed)"/>
<ellipse cx="25.75" cy="74.56" rx="4.2" ry="5.3" fill="url(#gRed)"/>
<ellipse cx="33.60" cy="85.84" rx="4.2" ry="5.3" fill="url(#gRed)"/>
<ellipse cx="41.45" cy="97.12" rx="4.2" ry="5.3" fill="url(#gRed)"/>
<ellipse cx="49.30" cy="108.40" rx="4.2" ry="5.3" fill="url(#gRed)"/>
<ellipse cx="57.15" cy="119.68" rx="4.2" ry="5.3" fill="url(#gRed)"/>
<ellipse cx="65.00" cy="130.96" rx="4.2" ry="5.3" fill="url(#gRed)"/>
<ellipse cx="72.85" cy="142.24" rx="4.2" ry="5.3" fill="url(#gRed)"/>
<ellipse cx="80.70" cy="153.52" rx="4.2" ry="5.3" fill="url(#gRed)"/>
<ellipse cx="88.55" cy="164.80" rx="4.2" ry="5.3" fill="url(#gRed)"/>
<ellipse cx="21.80" cy="44.02" rx="4.2" ry="5.3" fill="url(#gRed)"/>
<ellipse cx="29.65" cy="55.30" rx="4.2" ry="5.3" fill="url(#gRed)"/>
<ellipse cx="37.50" cy="66.58" rx="4.2" ry="5.3" fill="url(#gRed)"/>
<ellipse cx="45.35" cy="77.86" rx="4.2" ry="5.3" fill="url(#gRed)"/>
<ellipse cx="53.20" cy="89.14" rx="4.2" ry="5.3" fill="url(#gRed)"/>
<ellipse cx="61.05" cy="100.42" rx="4.2" ry="5.3" fill="url(#gRed)"/>
<ellipse cx="68.90" cy="111.70" rx="4.2" ry="5.3" fill="url(#gRed)"/>
<ellipse cx="76.75" cy="122.98" rx="4.2" ry="5.3" fill="url(#gRed)"/>
<ellipse cx="84.60" cy="134.26" rx="4.2" ry="5.3" fill="url(#gRed)"/>
<ellipse cx="92.45" cy="145.54" rx="4.2" ry="5.3" fill="url(#gRed)"/>
<ellipse cx="100.30" cy="156.82" rx="4.2" ry="5.3" fill="url(#gRed)"/>
<ellipse cx="17.85" cy="13.48" rx="4.2" ry="5.3" fill="url(#gRed)"/>
<ellipse cx="25.70" cy="24.76" rx="4.2" ry="5.3" fill="url(#gRed)"/>
<ellipse cx="33.55" cy="36.04" rx="4.2" ry="5.3" fill="url(#gRed)"/>
<ellipse cx="41.40" cy="47.32" rx="4.2" ry="5.3" fill="url(#gRed)"/>
<ellipse cx="49.25" cy="58.60" rx="4.2" ry="5.3" fill="url(#gRed)"/>
<ellipse cx="57.10" cy="69.88" rx="4.2" ry="5.3" fill="url(#gRed)"/>
<ellipse cx="64.95" cy="81.16" rx="4.2" ry="5.3" fill="url(#gRed)"/>
<ellipse cx="72.80" cy="92.44" rx="4.2" ry="5.3" fill="url(#gRed)"/>
<ellipse cx="80.65" cy="103.72" rx="4.2" ry="5.3" fill="url(#gRed)"/>
<ellipse cx="88.50" cy="115.00" rx="4.2" ry="5.3" fill="url(#gRed)"/>
<ellipse cx="96.35" cy="126.28" rx="4.2" ry="5.3" fill="url(#gRed)"/>
<ellipse cx="104.20" cy="137.56" rx="4.2" ry="5.3" fill="url(#gRed)"/>
<ellipse cx="112.05" cy="148.84" rx="4.2" ry="5.3" fill="url(#gRed)"/>
<ellipse cx="119.90" cy="160.12" rx="4.2" ry="5.3" fill="url(#gRed)"/>
<ellipse cx="21.75" cy="-5.78" rx="4.2" ry="5.3" fill="url(#gRed)"/>
<ellipse cx="29.60" cy="5.50" rx="4.2" ry="5.3" fill="url(#gRed)"/>
<ellipse cx="37.45" cy="16.78" rx="4.2" ry="5.3" fill="url(#gRed)"/>
<ellipse cx="45.30" cy="28.06" rx="4.2" ry="5.3" fill="url(#gRed)"/>
<ellipse cx="53.15" cy="39.34" rx="4.2" ry="5.3" fill="url(#gRed)"/>
<ellipse cx="61.00" cy="50.62" rx="4.2" ry="5.3" fill="url(#gRed)"/>
<ellipse cx="68.85" cy="61.90" rx="4.2" ry="5.3" fill="url(#gRed)"/>
<ellipse cx="76.70" cy="73.18" rx="4.2" ry="5.3" fill="url(#gRed)"/>
<ellipse cx="84.55" cy="84.46" rx="4.2" ry="5.3" fill="url(#gRed)"/>
<ellipse cx="92.40" cy="95.74" rx="4.2" ry="5.3" fill="url(#gRed)"/>
<ellipse cx="100.25" cy="107.02" rx="4.2" ry="5.3" fill="url(#gRed)"/>
<ellipse cx="108.10" cy="118.30" rx="4.2" ry="5.3" fill="url(#gRed)"/>
<ellipse cx="115.95" cy="129.58" rx="4.2" ry="5.3" fill="url(#gRed)"/>
<ellipse cx="123.80" cy="140.86" rx="4.2" ry="5.3" fill="url(#gRed)"/>
<ellipse cx="131.65" cy="152.14" rx="4.2" ry="5.3" fill="url(#gRed)"/>
<ellipse cx="139.50" cy="163.42" rx="4.2" ry="5.3" fill="url(#gRed)"/>
<ellipse cx="33.50" cy="-13.76" rx="4.2" ry="5.3" fill="url(#gRed)"/>
<ellipse cx="41.35" cy="-2.48" rx="4.2" ry="5.3" fill="url(#gRed)"/>
<ellipse cx="49.20" cy="8.80" rx="4.2" ry="5.3" fill="url(#gRed)"/>
<ellipse cx="57.05" cy="20.08" rx="4.2" ry="5.3" fill="url(#gRed)"/>
<ellipse cx="64.90" cy="31.36" rx="4.2" ry="5.3" fill="url(#gRed)"/>
<ellipse cx="72.75" cy="42.64" rx="4.2" ry="5.3" fill="url(#gRed)"/>
<ellipse cx="80.60" cy="53.92" rx="4.2" ry="5.3" fill="url(#gRed)"/>
<ellipse cx="88.45" cy="65.20" rx="4.2" ry="5.3" fill="url(#gRed)"/>
<ellipse cx="96.30" cy="76.48" rx="4.2" ry="5.3" fill="url(#gRed)"/>
<ellipse cx="104.15" cy="87.76" rx="4.2" ry="5.3" fill="url(#gRed)"/>
<ellipse cx="112.00" cy="99.04" rx="4.2" ry="5.3" fill="url(#gRed)"/>
<ellipse cx="119.85" cy="110.32" rx="4.2" ry="5.3" fill="url(#gRed)"/>
<ellipse cx="127.70" cy="121.60" rx="4.2" ry="5.3" fill="url(#gRed)"/>
<ellipse cx="135.55" cy="132.88" rx="4.2" ry="5.3" fill="url(#gRed)"/>
<ellipse cx="143.40" cy="144.16" rx="4.2" ry="5.3" fill="url(#gRed)"/>
<ellipse cx="151.25" cy="155.44" rx="4.2" ry="5.3" fill="url(#gRed)"/>
<ellipse cx="159.10" cy="166.72" rx="4.2" ry="5.3" fill="url(#gRed)"/>
<ellipse cx="53.10" cy="-10.46" rx="4.2" ry="5.3" fill="url(#gRed)"/>
<ellipse cx="60.95" cy="0.82" rx="4.2" ry="5.3" fill="url(#gRed)"/>
<ellipse cx="68.80" cy="12.10" rx="4.2" ry="5.3" fill="url(#gRed)"/>
<ellipse cx="76.65" cy="23.38" rx="4.2" ry="5.3" fill="url(#gRed)"/>
<ellipse cx="84.50" cy="34.66" rx="4.2" ry="5.3" fill="url(#gRed)"/>
<ellipse cx="92.35" cy="45.94" rx="4.2" ry="5.3" fill="url(#gRed)"/>
<ellipse cx="100.20" cy="57.22" rx="4.2" ry="5.3" fill="url(#gRed)"/>
<ellipse cx="108.05" cy="68.50" rx="4.2" ry="5.3" fill="url(#gRed)"/>
<ellipse cx="115.90" cy="79.78" rx="4.2" ry="5.3" fill="url(#gRed)"/>
<ellipse cx="123.75" cy="91.06" rx="4.2" ry="5.3" fill="url(#gRed)"/>
<ellipse cx="131.60" cy="102.34" rx="4.2" ry="5.3" fill="url(#gRed)"/>
<ellipse cx="139.45" cy="113.62" rx="4.2" ry="5.3" fill="url(#gRed)"/>
<ellipse cx="147.30" cy="124.90" rx="4.2" ry="5.3" fill="url(#gRed)"/>
<ellipse cx="155.15" cy="136.18" rx="4.2" ry="5.3" fill="url(#gRed)"/>
<ellipse cx="163.00" cy="147.46" rx="4.2" ry="5.3" fill="url(#gRed)"/>
<ellipse cx="170.85" cy="158.74" rx="4.2" ry="5.3" fill="url(#gRed)"/>
<ellipse cx="72.70" cy="-7.16" rx="4.2" ry="5.3" fill="url(#gRed)"/>
<ellipse cx="80.55" cy="4.12" rx="4.2" ry="5.3" fill="url(#gRed)"/>
<ellipse cx="88.40" cy="15.40" rx="4.2" ry="5.3" fill="url(#gRed)"/>
<ellipse cx="96.25" cy="26.68" rx="4.2" ry="5.3" fill="url(#gRed)"/>
<ellipse cx="104.10" cy="37.96" rx="4.2" ry="5.3" fill="url(#gRed)"/>
<ellipse cx="111.95" cy="49.24" rx="4.2" ry="5.3" fill="url(#gRed)"/>
<ellipse cx="119.80" cy="60.52" rx="4.2" ry="5.3" fill="url(#gRed)"/>
<ellipse cx="127.65" cy="71.80" rx="4.2" ry="5.3" fill="url(#gRed)"/>
<ellipse cx="135.50" cy="83.08" rx="4.2" ry="5.3" fill="url(#gRed)"/>
<ellipse cx="143.35" cy="94.36" rx="4.2" ry="5.3" fill="url(#gRed)"/>
<ellipse cx="151.20" cy="105.64" rx="4.2" ry="5.3" fill="url(#gRed)"/>
<ellipse cx="159.05" cy="116.92" rx="4.2" ry="5.3" fill="url(#gRed)"/>
<ellipse cx="166.90" cy="128.20" rx="4.2" ry="5.3" fill="url(#gRed)"/>
<ellipse cx="174.75" cy="139.48" rx="4.2" ry="5.3" fill="url(#gRed)"/>
<ellipse cx="182.60" cy="150.76" rx="4.2" ry="5.3" fill="url(#gRed)"/>
<ellipse cx="190.45" cy="162.04" rx="4.2" ry="5.3" fill="url(#gRed)"/>
<ellipse cx="92.30" cy="-3.86" rx="4.2" ry="5.3" fill="url(#gRed)"/>
<ellipse cx="100.15" cy="7.42" rx="4.2" ry="5.3" fill="url(#gRed)"/>
<ellipse cx="108.00" cy="18.70" rx="4.2" ry="5.3" fill="url(#gRed)"/>
<ellipse cx="115.85" cy="29.98" rx="4.2" ry="5.3" fill="url(#gRed)"/>
<ellipse cx="123.70" cy="41.26" rx="4.2" ry="5.3" fill="url(#gRed)"/>
<ellipse cx="131.55" cy="52.54" rx="4.2" ry="5.3" fill="url(#gRed)"/>
<ellipse cx="139.40" cy="63.82" rx="4.2" ry="5.3" fill="url(#gRed)"/>
<ellipse cx="147.25" cy="75.10" rx="4.2" ry="5.3" fill="url(#gRed)"/>
<ellipse cx="155.10" cy="86.38" rx="4.2" ry="5.3" fill="url(#gRed)"/>
<ellipse cx="162.95" cy="97.66" rx="4.2" ry="5.3" fill="url(#gRed)"/>
<ellipse cx="170.80" cy="108.94" rx="4.2" ry="5.3" fill="url(#gRed)"/>
<ellipse cx="178.65" cy="120.22" rx="4.2" ry="5.3" fill="url(#gRed)"/>
<ellipse cx="186.50" cy="131.50" rx="4.2" ry="5.3" fill="url(#gRed)"/>
<ellipse cx="111.90" cy="-0.56" rx="4.2" ry="5.3" fill="url(#gRed)"/>
<ellipse cx="119.75" cy="10.72" rx="4.2" ry="5.3" fill="url(#gRed)"/>
<ellipse cx="127.60" cy="22.00" rx="4.2" ry="5.3" fill="url(#gRed)"/>
<ellipse cx="135.45" cy="33.28" rx="4.2" ry="5.3" fill="url(#gRed)"/>
<ellipse cx="143.30" cy="44.56" rx="4.2" ry="5.3" fill="url(#gRed)"/>
<ellipse cx="151.15" cy="55.84" rx="4.2" ry="5.3" fill="url(#gRed)"/>
<ellipse cx="159.00" cy="67.12" rx="4.2" ry="5.3" fill="url(#gRed)"/>
<ellipse cx="166.85" cy="78.40" rx="4.2" ry="5.3" fill="url(#gRed)"/>
<ellipse cx="174.70" cy="89.68" rx="4.2" ry="5.3" fill="url(#gRed)"/>
<ellipse cx="182.55" cy="100.96" rx="4.2" ry="5.3" fill="url(#gRed)"/>
<ellipse cx="190.40" cy="112.24" rx="4.2" ry="5.3" fill="url(#gRed)"/>
<ellipse cx="131.50" cy="2.74" rx="4.2" ry="5.3" fill="url(#gRed)"/>
<ellipse cx="139.35" cy="14.02" rx="4.2" ry="5.3" fill="url(#gRed)"/>
<ellipse cx="147.20" cy="25.30" rx="4.2" ry="5.3" fill="url(#gRed)"/>
<ellipse cx="155.05" cy="36.58" rx="4.2" ry="5.3" fill="url(#gRed)"/>
<ellipse cx="162.90" cy="47.86" rx="4.2" ry="5.3" fill="url(#gRed)"/>
<ellipse cx="170.75" cy="59.14" rx="4.2" ry="5.3" fill="url(#gRed)"/>
<ellipse cx="178.60" cy="70.42" rx="4.2" ry="5.3" fill="url(#gRed)"/>
<ellipse cx="186.45" cy="81.70" rx="4.2" ry="5.3" fill="url(#gRed)"/>
<ellipse cx="151.10" cy="6.04" rx="4.2" ry="5.3" fill="url(#gRed)"/>
<ellipse cx="158.95" cy="17.32" rx="4.2" ry="5.3" fill="url(#gRed)"/>
<ellipse cx="166.80" cy="28.60" rx="4.2" ry="5.3" fill="url(#gRed)"/>
<ellipse cx="174.65" cy="39.88" rx="4.2" ry="5.3" fill="url(#gRed)"/>
<ellipse cx="182.50" cy="51.16" rx="4.2" ry="5.3" fill="url(#gRed)"/>
<ellipse cx="190.35" cy="62.44" rx="4.2" ry="5.3" fill="url(#gRed)"/>
<ellipse cx="170.70" cy="9.34" rx="4.2" ry="5.3" fill="url(#gRed)"/>
<ellipse cx="178.55" cy="20.62" rx="4.2" ry="5.3" fill="url(#gRed)"/>
<ellipse cx="186.40" cy="31.90" rx="4.2" ry="5.3" fill="url(#gRed)"/>
<ellipse cx="190.30" cy="12.64" rx="4.2" ry="5.3" fill="url(#gRed)"/>
<rect x="23.60" y="0.00" width="160.20" height="0.90" fill="#8d9ee6" stroke="none" stroke-width="1" />
</g>
<rect x="0" y="0" width="113.9" height="8.0" fill="none" stroke="#000" stroke-width="1.4" stroke-dasharray="2.7,1.6" transform="translate(62.3,70.6) rotate(-34.6)"/>
<rect x="0" y="0" width="114.0" height="8.0" fill="none" stroke="#ff2020" stroke-width="1.4" stroke-dasharray="2.7,1.6" transform="translate(75.9,94.3) rotate(-34.6)"/>
<rect x="0" y="0" width="95.2" height="8.0" fill="none" stroke="#f0c030" stroke-width="1.4" stroke-dasharray="2.7,1.6" transform="translate(90.1,117.9) rotate(-34.6)"/>
<text x="0" y="0" font-size="9.0" fill="#000" stroke="#000" stroke-width="0.3" transform="translate(36.4,96.6) rotate(-34.6) scale(1,1.18)">Layer_1</text>
<text x="0" y="0" font-size="9.0" fill="#ff1a1a" stroke="#ff1a1a" stroke-width="0.3" transform="translate(48.0,120.6) rotate(-34.6) scale(1,1.18)">Layer_2</text>
<text x="0" y="0" font-size="9.0" fill="#f2c230" stroke="#f2c230" stroke-width="0.3" transform="translate(63.0,144.2) rotate(-34.6) scale(1,1.18)">Layer_3</text>
<text x="0" y="0" font-size="9" fill="#000" font-weight="bold" text-anchor="middle" transform="translate(75.0,83.7) rotate(-34.6) translate(0,3.2)">1</text>
<text x="0" y="0" font-size="9" fill="#000" font-weight="bold" text-anchor="middle" transform="translate(87.2,76.5) rotate(-34.6) translate(0,3.2)">2</text>
<text x="0" y="0" font-size="9" fill="#000" font-weight="bold" text-anchor="middle" transform="translate(98.6,68.6) rotate(-34.6) translate(0,3.2)">3</text>
<text x="0" y="0" font-size="9" fill="#000" font-weight="bold" text-anchor="middle" transform="translate(110.4,59.8) rotate(-34.6) translate(0,3.2)">4</text>
<text x="0" y="0" font-size="10.2" fill="#ff2020" font-weight="bold" text-anchor="middle" transform="translate(119.7,53.4) rotate(-12) translate(0,3.2)">5</text>
<text x="0" y="0" font-size="10.2" fill="#ff2020" font-weight="bold" text-anchor="middle" transform="translate(129.3,47.8) rotate(-12) translate(0,3.2)">5′</text>
<text x="0" y="0" font-size="9" fill="#000" font-weight="bold" text-anchor="middle" transform="translate(139.7,39.1) rotate(-34.6) translate(0,3.2)">6</text>
<text x="0" y="0" font-size="9" fill="#000" font-weight="bold" text-anchor="middle" transform="translate(150.1,30.9) rotate(-34.6) translate(0,3.2)">7</text>
<text x="0" y="0" font-size="9" fill="#000" font-weight="bold" text-anchor="middle" transform="translate(161.6,23.6) rotate(-34.6) translate(0,3.2)">8</text>
<polygon points="112.35,75.14 117.44,71.81 118.09,72.81 119.90,69.00 115.68,69.13 116.34,70.13 111.25,73.46" fill="#e81818" stroke="#222" stroke-width="0.5"/>
<polygon points="146.04,49.57 140.83,53.06 140.16,52.07 138.40,55.90 142.62,55.72 141.95,54.73 147.16,51.23" fill="#3ed6ee" stroke="#222" stroke-width="0.5"/>
<line x1="128.10" y1="60.30" x2="131.80" y2="65.10" stroke="#fff" stroke-width="0.8" stroke-dasharray="0.8,0.9"/>
<line x1="30.00" y1="151.35" x2="55.20" y2="151.35" stroke="#fff" stroke-width="1.3" />
<text x="29.9" y="147.0" font-size="8.2" fill="#fff" font-weight="bold" textLength="25" lengthAdjust="spacingAndGlyphs">0.5 nm</text>
<defs>
<linearGradient id="hr0" x1="0" x2="1" y1="0" y2="0"><stop offset="0.0000" stop-color="#5467da"/><stop offset="0.0094" stop-color="#708ae9"/><stop offset="0.0125" stop-color="#728ce9"/><stop offset="0.0219" stop-color="#677fe4"/><stop offset="0.0282" stop-color="#6c85e7"/><stop offset="0.0376" stop-color="#88a2ef"/><stop offset="0.0407" stop-color="#a1b8f3"/><stop offset="0.0439" stop-color="#cbd3ee"/><stop offset="0.0470" stop-color="#e5dadc"/><stop offset="0.0501" stop-color="#e6cfd0"/><stop offset="0.0564" stop-color="#e6cfd0"/><stop offset="0.0595" stop-color="#e5dadc"/><stop offset="0.0627" stop-color="#cbd3ee"/><stop offset="0.0658" stop-color="#a1b8f3"/><stop offset="0.0689" stop-color="#88a2ef"/><stop offset="0.0815" stop-color="#6178e2"/><stop offset="0.0877" stop-color="#5569db"/><stop offset="0.1159" stop-color="#4959d3"/><stop offset="0.1410" stop-color="#566adc"/><stop offset="0.1535" stop-color="#7690ea"/><stop offset="0.1598" stop-color="#8ea8f1"/><stop offset="0.1629" stop-color="#adc1f2"/><stop offset="0.1660" stop-color="#cfd5eb"/><stop offset="0.1692" stop-color="#e0dce2"/><stop offset="0.1754" stop-color="#e4dee0"/><stop offset="0.1786" stop-color="#e1dde2"/><stop offset="0.1817" stop-color="#d4d7e9"/><stop offset="0.1848" stop-color="#b5c6f2"/><stop offset="0.1880" stop-color="#92acf2"/><stop offset="0.1974" stop-color="#6d87e8"/><stop offset="0.2068" stop-color="#576bdc"/><stop offset="0.2350" stop-color="#4858d2"/><stop offset="0.2600" stop-color="#5568db"/><stop offset="0.2663" stop-color="#6076e1"/><stop offset="0.2757" stop-color="#7b95ec"/><stop offset="0.2788" stop-color="#86a0ef"/><stop offset="0.2820" stop-color="#97b1f3"/><stop offset="0.2851" stop-color="#bdcbf2"/><stop offset="0.2882" stop-color="#d8d9e6"/><stop offset="0.2914" stop-color="#e2dde1"/><stop offset="0.2976" stop-color="#e3dee1"/><stop offset="0.3008" stop-color="#dfdce3"/><stop offset="0.3039" stop-color="#cad3ee"/><stop offset="0.3070" stop-color="#a6bbf3"/><stop offset="0.3102" stop-color="#8ba5f0"/><stop offset="0.3227" stop-color="#637ae2"/><stop offset="0.3289" stop-color="#5569dc"/><stop offset="0.3571" stop-color="#4858d2"/><stop offset="0.3822" stop-color="#5265d9"/><stop offset="0.3885" stop-color="#5a6fde"/><stop offset="0.4010" stop-color="#7f99ed"/><stop offset="0.4041" stop-color="#92acf2"/><stop offset="0.4073" stop-color="#b5c6f2"/><stop offset="0.4104" stop-color="#cbd3ee"/><stop offset="0.4167" stop-color="#cdd4ed"/><stop offset="0.4198" stop-color="#c1cef2"/><stop offset="0.4229" stop-color="#9fb7f3"/><stop offset="0.4261" stop-color="#86a0ef"/><stop offset="0.4323" stop-color="#6d87e8"/><stop offset="0.4417" stop-color="#566adc"/><stop offset="0.4637" stop-color="#4a5bd4"/><stop offset="0.4731" stop-color="#5366da"/><stop offset="0.4762" stop-color="#5a6fde"/><stop offset="0.4793" stop-color="#6a83e6"/><stop offset="0.4856" stop-color="#9bb4f3"/><stop offset="0.4887" stop-color="#b0c2f2"/><stop offset="0.4919" stop-color="#b6c7f2"/><stop offset="0.4950" stop-color="#b0c3f2"/><stop offset="0.4981" stop-color="#9cb4f3"/><stop offset="0.5044" stop-color="#6d87e7"/><stop offset="0.5075" stop-color="#7c96ec"/><stop offset="0.5107" stop-color="#93adf2"/><stop offset="0.5138" stop-color="#abbff3"/><stop offset="0.5169" stop-color="#b5c6f2"/><stop offset="0.5201" stop-color="#b4c5f2"/><stop offset="0.5232" stop-color="#a8bcf3"/><stop offset="0.5294" stop-color="#7993eb"/><stop offset="0.5326" stop-color="#677fe4"/><stop offset="0.5357" stop-color="#5b70df"/><stop offset="0.5420" stop-color="#5265d9"/><stop offset="0.5576" stop-color="#4c5ed5"/><stop offset="0.5764" stop-color="#5568db"/><stop offset="0.5827" stop-color="#647be3"/><stop offset="0.5858" stop-color="#6e88e8"/><stop offset="0.5921" stop-color="#96b0f3"/><stop offset="0.5952" stop-color="#b2c4f2"/><stop offset="0.5984" stop-color="#c0cef2"/><stop offset="0.6015" stop-color="#c3d0f2"/><stop offset="0.6046" stop-color="#bdccf2"/><stop offset="0.6078" stop-color="#a8bcf3"/><stop offset="0.6140" stop-color="#7690ea"/><stop offset="0.6203" stop-color="#5c72df"/><stop offset="0.6266" stop-color="#5265d9"/><stop offset="0.6454" stop-color="#4c5ed5"/><stop offset="0.6798" stop-color="#5468db"/><stop offset="0.6861" stop-color="#5c72df"/><stop offset="0.6955" stop-color="#748eea"/><stop offset="0.7018" stop-color="#8ba5f0"/><stop offset="0.7049" stop-color="#a6bbf3"/><stop offset="0.7080" stop-color="#cad3ee"/><stop offset="0.7112" stop-color="#dfdce3"/><stop offset="0.7174" stop-color="#e4dee0"/><stop offset="0.7206" stop-color="#e2dde1"/><stop offset="0.7237" stop-color="#d8d9e6"/><stop offset="0.7268" stop-color="#bdcbf2"/><stop offset="0.7299" stop-color="#97b1f3"/><stop offset="0.7331" stop-color="#86a0ef"/><stop offset="0.7425" stop-color="#6780e5"/><stop offset="0.7487" stop-color="#586ddd"/><stop offset="0.7738" stop-color="#495ad3"/><stop offset="0.7989" stop-color="#5569db"/><stop offset="0.8114" stop-color="#728ce9"/><stop offset="0.8177" stop-color="#88a2ef"/><stop offset="0.8208" stop-color="#a1b8f3"/><stop offset="0.8239" stop-color="#cbd3ee"/><stop offset="0.8271" stop-color="#e5dadc"/><stop offset="0.8302" stop-color="#e6cfd0"/><stop offset="0.8365" stop-color="#e6cfd0"/><stop offset="0.8396" stop-color="#e5dadc"/><stop offset="0.8427" stop-color="#cbd3ee"/><stop offset="0.8459" stop-color="#a1b8f3"/><stop offset="0.8490" stop-color="#88a2ef"/><stop offset="0.8615" stop-color="#6178e2"/><stop offset="0.8678" stop-color="#5569db"/><stop offset="0.8929" stop-color="#4a5ad3"/><stop offset="0.9148" stop-color="#5569dc"/><stop offset="0.9273" stop-color="#748eea"/><stop offset="0.9336" stop-color="#8ba5f0"/><stop offset="0.9367" stop-color="#aabef3"/><stop offset="0.9398" stop-color="#d2d6ea"/><stop offset="0.9430" stop-color="#e5d5d7"/><stop offset="0.9461" stop-color="#e6cecf"/><stop offset="0.9524" stop-color="#e6d0d1"/><stop offset="0.9555" stop-color="#e3dde1"/><stop offset="0.9586" stop-color="#c4d0f1"/><stop offset="0.9618" stop-color="#99b2f3"/><stop offset="0.9649" stop-color="#86a0ef"/><stop offset="0.9743" stop-color="#6780e5"/><stop offset="0.9806" stop-color="#586ddd"/><stop offset="0.9994" stop-color="#4c5dd5"/></linearGradient>
<linearGradient id="hr1" x1="0" x2="1" y1="0" y2="0"><stop offset="0.0000" stop-color="#5467da"/><stop offset="0.0094" stop-color="#708ae9"/><stop offset="0.0125" stop-color="#728ce9"/><stop offset="0.0219" stop-color="#677fe4"/><stop offset="0.0282" stop-color="#6c85e7"/><stop offset="0.0376" stop-color="#88a2ef"/><stop offset="0.0407" stop-color="#a6bcf3"/><stop offset="0.0439" stop-color="#d6d8e8"/><stop offset="0.0470" stop-color="#e8c0c1"/><stop offset="0.0501" stop-color="#eab4b5"/><stop offset="0.0564" stop-color="#eab4b5"/><stop offset="0.0595" stop-color="#e8c0c1"/><stop offset="0.0627" stop-color="#d6d8e8"/><stop offset="0.0658" stop-color="#a6bcf3"/><stop offset="0.0689" stop-color="#88a2ef"/><stop offset="0.0783" stop-color="#6982e5"/><stop offset="0.0877" stop-color="#5569db"/><stop offset="0.1159" stop-color="#4959d3"/><stop offset="0.1410" stop-color="#566adc"/><stop offset="0.1535" stop-color="#7690ea"/><stop offset="0.1598" stop-color="#90aaf1"/><stop offset="0.1629" stop-color="#b8c8f2"/><stop offset="0.1660" stop-color="#e1dde2"/><stop offset="0.1692" stop-color="#e8c1c2"/><stop offset="0.1754" stop-color="#e9bbbc"/><stop offset="0.1786" stop-color="#e8c0c0"/><stop offset="0.1817" stop-color="#e5d8da"/><stop offset="0.1848" stop-color="#c2cff2"/><stop offset="0.1880" stop-color="#94aef3"/><stop offset="0.1942" stop-color="#7993eb"/><stop offset="0.2068" stop-color="#576bdc"/><stop offset="0.2350" stop-color="#4858d2"/><stop offset="0.2600" stop-color="#5568db"/><stop offset="0.2663" stop-color="#6076e1"/><stop offset="0.2757" stop-color="#7b95ec"/><stop offset="0.2788" stop-color="#86a0ef"/><stop offset="0.2820" stop-color="#9cb4f3"/><stop offset="0.2851" stop-color="#cad3ee"/><stop offset="0.2882" stop-color="#e6d0d1"/><stop offset="0.2914" stop-color="#e8bebf"/><stop offset="0.2976" stop-color="#e9bcbd"/><stop offset="0.3008" stop-color="#e8c4c5"/><stop offset="0.3039" stop-color="#dadae5"/><stop offset="0.3070" stop-color="#aec1f2"/><stop offset="0.3102" stop-color="#8ba5f0"/><stop offset="0.3195" stop-color="#6a84e6"/><stop offset="0.3289" stop-color="#5569dc"/><stop offset="0.3571" stop-color="#4858d2"/><stop offset="0.3822" stop-color="#5265d9"/><stop offset="0.3885" stop-color="#5a6fde"/><stop offset="0.4010" stop-color="#7f99ed"/><stop offset="0.4041" stop-color="#98b1f3"/><stop offset="0.4073" stop-color="#c6d1f0"/><stop offset="0.4104" stop-color="#e1dde2"/><stop offset="0.4167" stop-color="#e3dde1"/><stop offset="0.4198" stop-color="#d4d7e9"/><stop offset="0.4229" stop-color="#abbff3"/><stop offset="0.4261" stop-color="#87a1ef"/><stop offset="0.4323" stop-color="#6d87e8"/><stop offset="0.4417" stop-color="#566adc"/><stop offset="0.4637" stop-color="#4a5bd4"/><stop offset="0.4731" stop-color="#5366da"/><stop offset="0.4762" stop-color="#5a6fde"/><stop offset="0.4793" stop-color="#6b84e6"/><stop offset="0.4856" stop-color="#a1b8f3"/><stop offset="0.4887" stop-color="#b6c7f2"/><stop offset="0.4919" stop-color="#bdcbf2"/><stop offset="0.4950" stop-color="#b6c7f2"/><stop offset="0.4981" stop-color="#a2b8f3"/><stop offset="0.5044" stop-color="#6d87e8"/><stop offset="0.5075" stop-color="#7f99ed"/><stop offset="0.5107" stop-color="#9bb4f3"/><stop offset="0.5138" stop-color="#b8c8f2"/><stop offset="0.5169" stop-color="#c2cff2"/><stop offset="0.5201" stop-color="#c1cff2"/><stop offset="0.5232" stop-color="#b4c5f2"/><stop offset="0.5263" stop-color="#96b0f3"/><stop offset="0.5326" stop-color="#677fe5"/><stop offset="0.5357" stop-color="#5b70df"/><stop offset="0.5420" stop-color="#5265d9"/><stop offset="0.5576" stop-color="#4c5ed5"/><stop offset="0.5764" stop-color="#5568db"/><stop offset="0.5827" stop-color="#647be3"/><stop offset="0.5858" stop-color="#6e88e8"/><stop offset="0.5890" stop-color="#839dee"/><stop offset="0.5952" stop-color="#c3d0f2"/><stop offset="0.5984" stop-color="#d1d6ea"/><stop offset="0.6015" stop-color="#d3d7e9"/><stop offset="0.6046" stop-color="#ced5ec"/><stop offset="0.6078" stop-color="#b6c7f2"/><stop offset="0.6109" stop-color="#91abf2"/><stop offset="0.6140" stop-color="#7791ea"/><stop offset="0.6203" stop-color="#5c72df"/><stop offset="0.6266" stop-color="#5265d9"/><stop offset="0.6454" stop-color="#4c5ed5"/><stop offset="0.6798" stop-color="#5468db"/><stop offset="0.6861" stop-color="#5c72df"/><stop offset="0.6955" stop-color="#748eea"/><stop offset="0.7018" stop-color="#8ca6f0"/><stop offset="0.7049" stop-color="#b7c7f2"/><stop offset="0.7080" stop-color="#e5d4d5"/><stop offset="0.7112" stop-color="#e59ca0"/><stop offset="0.7143" stop-color="#e39298"/><stop offset="0.7174" stop-color="#e39197"/><stop offset="0.7206" stop-color="#e4959a"/><stop offset="0.7237" stop-color="#e9aeaf"/><stop offset="0.7268" stop-color="#d7d9e7"/><stop offset="0.7299" stop-color="#a1b8f3"/><stop offset="0.7331" stop-color="#86a0ef"/><stop offset="0.7425" stop-color="#6780e5"/><stop offset="0.7487" stop-color="#586ddd"/><stop offset="0.7738" stop-color="#495ad3"/><stop offset="0.7989" stop-color="#5569db"/><stop offset="0.8114" stop-color="#728ce9"/><stop offset="0.8177" stop-color="#88a2ef"/><stop offset="0.8208" stop-color="#adc0f2"/><stop offset="0.8239" stop-color="#e4dddf"/><stop offset="0.8271" stop-color="#e5999e"/><stop offset="0.8302" stop-color="#e18890"/><stop offset="0.8333" stop-color="#e0858d"/><stop offset="0.8365" stop-color="#e18890"/><stop offset="0.8396" stop-color="#e5999e"/><stop offset="0.8427" stop-color="#e4dddf"/><stop offset="0.8459" stop-color="#adc0f2"/><stop offset="0.8490" stop-color="#88a2ef"/><stop offset="0.8584" stop-color="#6982e5"/><stop offset="0.8678" stop-color="#5569db"/><stop offset="0.8929" stop-color="#4a5ad3"/><stop offset="0.9148" stop-color="#5569dc"/><stop offset="0.9273" stop-color="#748eea"/><stop offset="0.9336" stop-color="#8ca6f0"/><stop offset="0.9367" stop-color="#b7c7f2"/><stop offset="0.9398" stop-color="#e5d4d5"/><stop offset="0.9430" stop-color="#e59ca0"/><stop offset="0.9461" stop-color="#e39298"/><stop offset="0.9492" stop-color="#e39197"/><stop offset="0.9524" stop-color="#e4959a"/><stop offset="0.9555" stop-color="#e9aeaf"/><stop offset="0.9586" stop-color="#d7d9e7"/><stop offset="0.9618" stop-color="#a1b8f3"/><stop offset="0.9649" stop-color="#86a0ef"/><stop offset="0.9743" stop-color="#6780e5"/><stop offset="0.9806" stop-color="#586ddd"/><stop offset="0.9994" stop-color="#4c5dd5"/></linearGradient>
<linearGradient id="hr2" x1="0" x2="1" y1="0" y2="0"><stop offset="0.0000" stop-color="#5467da"/><stop offset="0.0094" stop-color="#708ae9"/><stop offset="0.0125" stop-color="#728ce9"/><stop offset="0.0219" stop-color="#677fe4"/><stop offset="0.0282" stop-color="#6c85e7"/><stop offset="0.0376" stop-color="#88a2ef"/><stop offset="0.0407" stop-color="#adc0f2"/><stop offset="0.0439" stop-color="#e4dddf"/><stop offset="0.0470" stop-color="#e5999e"/><stop offset="0.0501" stop-color="#e18890"/><stop offset="0.0533" stop-color="#e0858d"/><stop offset="0.0564" stop-color="#e18890"/><stop offset="0.0595" stop-color="#e5999e"/><stop offset="0.0627" stop-color="#e4dddf"/><stop offset="0.0658" stop-color="#adc0f2"/><stop offset="0.0689" stop-color="#88a2ef"/><stop offset="0.0783" stop-color="#6982e5"/><stop offset="0.0877" stop-color="#5569db"/><stop offset="0.1159" stop-color="#4959d3"/><stop offset="0.1410" stop-color="#566adc"/><stop offset="0.1535" stop-color="#7690ea"/><stop offset="0.1598" stop-color="#91abf2"/><stop offset="0.1629" stop-color="#c3d0f2"/><stop offset="0.1660" stop-color="#e7c6c7"/><stop offset="0.1692" stop-color="#e5989d"/><stop offset="0.1723" stop-color="#e39297"/><stop offset="0.1754" stop-color="#e39197"/><stop offset="0.1786" stop-color="#e4979b"/><stop offset="0.1817" stop-color="#e9baba"/><stop offset="0.1848" stop-color="#cdd4ed"/><stop offset="0.1880" stop-color="#97b0f3"/><stop offset="0.1911" stop-color="#849eee"/><stop offset="0.2005" stop-color="#667ee4"/><stop offset="0.2068" stop-color="#576bdc"/><stop offset="0.2350" stop-color="#4858d2"/><stop offset="0.2600" stop-color="#5568db"/><stop offset="0.2663" stop-color="#6076e1"/><stop offset="0.2757" stop-color="#7b95ec"/><stop offset="0.2788" stop-color="#86a0ef"/><stop offset="0.2820" stop-color="#a1b8f3"/><stop offset="0.2851" stop-color="#d7d9e7"/><stop offset="0.2882" stop-color="#e9aeaf"/><stop offset="0.2914" stop-color="#e4959a"/><stop offset="0.2945" stop-color="#e39197"/><stop offset="0.2976" stop-color="#e39298"/><stop offset="0.3008" stop-color="#e59ca0"/><stop offset="0.3039" stop-color="#e5d4d5"/><stop offset="0.3070" stop-color="#b7c7f2"/><stop offset="0.3102" stop-color="#8ca6f0"/><stop offset="0.3195" stop-color="#6a84e6"/><stop offset="0.3289" stop-color="#5569dc"/><stop offset="0.3571" stop-color="#4858d2"/><stop offset="0.3822" stop-color="#5265d9"/><stop offset="0.3885" stop-color="#5a6fde"/><stop offset="0.4010" stop-color="#809aed"/><stop offset="0.4041" stop-color="#9fb6f3"/><stop offset="0.4073" stop-color="#d6d8e8"/><stop offset="0.4104" stop-color="#e8c1c1"/><stop offset="0.4135" stop-color="#e9bbbb"/><stop offset="0.4167" stop-color="#e9bdbd"/><stop offset="0.4198" stop-color="#e5dadb"/><stop offset="0.4229" stop-color="#b7c7f2"/><stop offset="0.4261" stop-color="#88a2ef"/><stop offset="0.4323" stop-color="#6d87e8"/><stop offset="0.4417" stop-color="#566adc"/><stop offset="0.4637" stop-color="#4a5bd4"/><stop offset="0.4731" stop-color="#5366da"/><stop offset="0.4762" stop-color="#5a6fde"/><stop offset="0.4793" stop-color="#6b84e6"/><stop offset="0.4856" stop-color="#a1b8f3"/><stop offset="0.4887" stop-color="#b6c7f2"/><stop offset="0.4919" stop-color="#bdcbf2"/><stop offset="0.4950" stop-color="#b6c7f2"/><stop offset="0.4981" stop-color="#a2b8f3"/><stop offset="0.5044" stop-color="#6d87e8"/><stop offset="0.5075" stop-color="#7f99ed"/><stop offset="0.5107" stop-color="#9bb4f3"/><stop offset="0.5138" stop-color="#b8c8f2"/><stop offset="0.5169" stop-color="#c2cff2"/><stop offset="0.5201" stop-color="#c1cff2"/><stop offset="0.5232" stop-color="#b4c5f2"/><stop offset="0.5263" stop-color="#96b0f3"/><stop offset="0.5326" stop-color="#677fe5"/><stop offset="0.5357" stop-color="#5b70df"/><stop offset="0.5420" stop-color="#5265d9"/><stop offset="0.5576" stop-color="#4c5ed5"/><stop offset="0.5764" stop-color="#5568db"/><stop offset="0.5827" stop-color="#647be3"/><stop offset="0.5858" stop-color="#6e88e8"/><stop offset="0.5890" stop-color="#88a2ef"/><stop offset="0.5921" stop-color="#b9c9f2"/><stop offset="0.5952" stop-color="#e4dcde"/><stop offset="0.5984" stop-color="#e8bebf"/><stop offset="0.6015" stop-color="#e9bbbb"/><stop offset="0.6046" stop-color="#e8c4c5"/><stop offset="0.6078" stop-color="#d6d8e8"/><stop offset="0.6109" stop-color="#9fb7f3"/><stop offset="0.6140" stop-color="#7993eb"/><stop offset="0.6172" stop-color="#6780e5"/><stop offset="0.6234" stop-color="#5568db"/><stop offset="0.6422" stop-color="#4c5ed5"/><stop offset="0.6798" stop-color="#5468db"/><stop offset="0.6861" stop-color="#5c72df"/><stop offset="0.6955" stop-color="#748eea"/><stop offset="0.7018" stop-color="#8da7f0"/><stop offset="0.7049" stop-color="#c0cef2"/><stop offset="0.7080" stop-color="#e9baba"/><stop offset="0.7112" stop-color="#da6f7a"/><stop offset="0.7143" stop-color="#d6646f"/><stop offset="0.7174" stop-color="#d5616d"/><stop offset="0.7206" stop-color="#d76671"/><stop offset="0.7237" stop-color="#e0858d"/><stop offset="0.7268" stop-color="#e4dee0"/><stop offset="0.7299" stop-color="#a5bbf3"/><stop offset="0.7331" stop-color="#86a0ef"/><stop offset="0.7425" stop-color="#6780e5"/><stop offset="0.7487" stop-color="#586ddd"/><stop offset="0.7738" stop-color="#495ad3"/><stop offset="0.7989" stop-color="#5569db"/><stop offset="0.8114" stop-color="#728ce9"/><stop offset="0.8177" stop-color="#88a2ef"/><stop offset="0.8208" stop-color="#b4c5f2"/><stop offset="0.8239" stop-color="#e7c5c6"/><stop offset="0.8271" stop-color="#d96d77"/><stop offset="0.8302" stop-color="#d25864"/><stop offset="0.8333" stop-color="#d15561"/><stop offset="0.8365" stop-color="#d25864"/><stop offset="0.8396" stop-color="#d96d77"/><stop offset="0.8427" stop-color="#e7c5c6"/><stop offset="0.8459" stop-color="#b4c5f2"/><stop offset="0.8490" stop-color="#88a2ef"/><stop offset="0.8584" stop-color="#6982e5"/><stop offset="0.8678" stop-color="#5569db"/><stop offset="0.8929" stop-color="#4a5ad3"/><stop offset="0.9148" stop-color="#5569dc"/><stop offset="0.9273" stop-color="#748eea"/><stop offset="0.9336" stop-color="#8da7f0"/><stop offset="0.9367" stop-color="#c0cef2"/><stop offset="0.9398" stop-color="#e9baba"/><stop offset="0.9430" stop-color="#da6f7a"/><stop offset="0.9461" stop-color="#d6646f"/><stop offset="0.9492" stop-color="#d5616d"/><stop offset="0.9524" stop-color="#d76671"/><stop offset="0.9555" stop-color="#e0858d"/><stop offset="0.9586" stop-color="#e4dee0"/><stop offset="0.9618" stop-color="#a5bbf3"/><stop offset="0.9649" stop-color="#86a0ef"/><stop offset="0.9743" stop-color="#6780e5"/><stop offset="0.9806" stop-color="#586ddd"/><stop offset="0.9994" stop-color="#4c5dd5"/></linearGradient>
<linearGradient id="hr3" x1="0" x2="1" y1="0" y2="0"><stop offset="0.0000" stop-color="#5467da"/><stop offset="0.0094" stop-color="#708ae9"/><stop offset="0.0125" stop-color="#728ce9"/><stop offset="0.0219" stop-color="#677fe4"/><stop offset="0.0282" stop-color="#6c85e7"/><stop offset="0.0376" stop-color="#89a3ef"/><stop offset="0.0407" stop-color="#b4c5f2"/><stop offset="0.0439" stop-color="#e7c5c6"/><stop offset="0.0470" stop-color="#d96d77"/><stop offset="0.0501" stop-color="#d25864"/><stop offset="0.0533" stop-color="#d15561"/><stop offset="0.0564" stop-color="#d25864"/><stop offset="0.0595" stop-color="#d96d77"/><stop offset="0.0627" stop-color="#e7c5c6"/><stop offset="0.0658" stop-color="#b4c5f2"/><stop offset="0.0689" stop-color="#88a2ef"/><stop offset="0.0783" stop-color="#6982e5"/><stop offset="0.0877" stop-color="#5569db"/><stop offset="0.1159" stop-color="#4959d3"/><stop offset="0.1410" stop-color="#566adc"/><stop offset="0.1535" stop-color="#7690ea"/><stop offset="0.1598" stop-color="#92acf2"/><stop offset="0.1629" stop-color="#ccd4ed"/><stop offset="0.1660" stop-color="#e8a7a9"/><stop offset="0.1692" stop-color="#d86a75"/><stop offset="0.1723" stop-color="#d6636e"/><stop offset="0.1754" stop-color="#d6626d"/><stop offset="0.1786" stop-color="#d86873"/><stop offset="0.1817" stop-color="#e4959a"/><stop offset="0.1848" stop-color="#d8d9e7"/><stop offset="0.1880" stop-color="#9ab3f3"/><stop offset="0.1911" stop-color="#849eee"/><stop offset="0.2005" stop-color="#667ee4"/><stop offset="0.2068" stop-color="#576bdc"/><stop offset="0.2350" stop-color="#4858d2"/><stop offset="0.2600" stop-color="#5568db"/><stop offset="0.2663" stop-color="#6076e1"/><stop offset="0.2757" stop-color="#7b95ec"/><stop offset="0.2788" stop-color="#86a0ef"/><stop offset="0.2820" stop-color="#a5bbf3"/><stop offset="0.2851" stop-color="#e4dee0"/><stop offset="0.2882" stop-color="#e0858d"/><stop offset="0.2914" stop-color="#d76671"/><stop offset="0.2945" stop-color="#d5616d"/><stop offset="0.2976" stop-color="#d6646f"/><stop offset="0.3008" stop-color="#da6f7a"/><stop offset="0.3039" stop-color="#e9baba"/><stop offset="0.3070" stop-color="#c0cef2"/><stop offset="0.3102" stop-color="#8da7f0"/><stop offset="0.3195" stop-color="#6a84e6"/><stop offset="0.3289" stop-color="#5569dc"/><stop offset="0.3571" stop-color="#4858d2"/><stop offset="0.3822" stop-color="#5265d9"/><stop offset="0.3885" stop-color="#5a6fde"/><stop offset="0.4010" stop-color="#809aed"/><stop offset="0.4041" stop-color="#a6bcf3"/><stop offset="0.4073" stop-color="#e4dbdd"/><stop offset="0.4104" stop-color="#e5989d"/><stop offset="0.4135" stop-color="#e39197"/><stop offset="0.4167" stop-color="#e39398"/><stop offset="0.4198" stop-color="#e9bbbc"/><stop offset="0.4229" stop-color="#c2d0f2"/><stop offset="0.4261" stop-color="#8aa4f0"/><stop offset="0.4292" stop-color="#7892eb"/><stop offset="0.4417" stop-color="#566adc"/><stop offset="0.4637" stop-color="#4a5bd4"/><stop offset="0.4731" stop-color="#5366da"/><stop offset="0.4762" stop-color="#5a6fde"/><stop offset="0.4793" stop-color="#6a83e6"/><stop offset="0.4856" stop-color="#9bb4f3"/><stop offset="0.4887" stop-color="#b0c2f2"/><stop offset="0.4919" stop-color="#b6c7f2"/><stop offset="0.4950" stop-color="#b0c3f2"/><stop offset="0.4981" stop-color="#9cb4f3"/><stop offset="0.5044" stop-color="#6d87e7"/><stop offset="0.5075" stop-color="#7d97ec"/><stop offset="0.5107" stop-color="#96b0f3"/><stop offset="0.5138" stop-color="#b1c3f2"/><stop offset="0.5169" stop-color="#bccbf2"/><stop offset="0.5201" stop-color="#bbcaf2"/><stop offset="0.5232" stop-color="#aec1f2"/><stop offset="0.5263" stop-color="#93adf2"/><stop offset="0.5326" stop-color="#677fe4"/><stop offset="0.5357" stop-color="#5b70df"/><stop offset="0.5420" stop-color="#5265d9"/><stop offset="0.5576" stop-color="#4c5ed5"/><stop offset="0.5764" stop-color="#5568db"/><stop offset="0.5827" stop-color="#647be3"/><stop offset="0.5858" stop-color="#6e88e8"/><stop offset="0.5890" stop-color="#88a2ef"/><stop offset="0.5921" stop-color="#bccbf2"/><stop offset="0.5952" stop-color="#e5d4d6"/><stop offset="0.5984" stop-color="#eab6b6"/><stop offset="0.6015" stop-color="#eab2b2"/><stop offset="0.6046" stop-color="#e9bbbc"/><stop offset="0.6078" stop-color="#dadae6"/><stop offset="0.6109" stop-color="#a2b8f3"/><stop offset="0.6140" stop-color="#7993eb"/><stop offset="0.6172" stop-color="#6780e5"/><stop offset="0.6234" stop-color="#5568db"/><stop offset="0.6422" stop-color="#4c5ed5"/><stop offset="0.6798" stop-color="#5468db"/><stop offset="0.6861" stop-color="#5c72df"/><stop offset="0.6955" stop-color="#748eea"/><stop offset="0.7018" stop-color="#8ea8f1"/><stop offset="0.7049" stop-color="#cdd4ed"/><stop offset="0.7080" stop-color="#e0828a"/><stop offset="0.7112" stop-color="#bf2637"/><stop offset="0.7174" stop-color="#bc1f33"/><stop offset="0.7206" stop-color="#bd2134"/><stop offset="0.7237" stop-color="#c63644"/><stop offset="0.7268" stop-color="#e9baba"/><stop offset="0.7299" stop-color="#aec1f2"/><stop offset="0.7331" stop-color="#86a0ef"/><stop offset="0.7425" stop-color="#6780e5"/><stop offset="0.7487" stop-color="#586ddd"/><stop offset="0.7738" stop-color="#495ad3"/><stop offset="0.7989" stop-color="#5569db"/><stop offset="0.8114" stop-color="#728ce9"/><stop offset="0.8177" stop-color="#89a3ef"/><stop offset="0.8208" stop-color="#c3d0f2"/><stop offset="0.8239" stop-color="#e1888f"/><stop offset="0.8271" stop-color="#ba1b30"/><stop offset="0.8302" stop-color="#b51029"/><stop offset="0.8365" stop-color="#b51029"/><stop offset="0.8396" stop-color="#ba1b30"/><stop offset="0.8427" stop-color="#e1888f"/><stop offset="0.8459" stop-color="#c3d0f2"/><stop offset="0.8490" stop-color="#89a3ef"/><stop offset="0.8584" stop-color="#6982e5"/><stop offset="0.8678" stop-color="#5569db"/><stop offset="0.8929" stop-color="#4a5ad3"/><stop offset="0.9148" stop-color="#5569dc"/><stop offset="0.9273" stop-color="#748eea"/><stop offset="0.9336" stop-color="#8ea8f1"/><stop offset="0.9367" stop-color="#cdd4ed"/><stop offset="0.9398" stop-color="#e0828a"/><stop offset="0.9430" stop-color="#bf2637"/><stop offset="0.9492" stop-color="#bc1f33"/><stop offset="0.9524" stop-color="#bd2134"/><stop offset="0.9555" stop-color="#c63644"/><stop offset="0.9586" stop-color="#e9baba"/><stop offset="0.9618" stop-color="#aec1f2"/><stop offset="0.9649" stop-color="#86a0ef"/><stop offset="0.9743" stop-color="#6780e5"/><stop offset="0.9806" stop-color="#586ddd"/><stop offset="0.9994" stop-color="#4c5dd5"/></linearGradient>
<linearGradient id="hr4" x1="0" x2="1" y1="0" y2="0"><stop offset="0.0000" stop-color="#5467da"/><stop offset="0.0094" stop-color="#708ae9"/><stop offset="0.0125" stop-color="#728ce9"/><stop offset="0.0219" stop-color="#677fe4"/><stop offset="0.0282" stop-color="#6c85e7"/><stop offset="0.0376" stop-color="#89a3ef"/><stop offset="0.0407" stop-color="#bacaf2"/><stop offset="0.0439" stop-color="#e9adae"/><stop offset="0.0470" stop-color="#c93d4a"/><stop offset="0.0501" stop-color="#c22c3b"/><stop offset="0.0564" stop-color="#c22c3b"/><stop offset="0.0595" stop-color="#c93d4a"/><stop offset="0.0627" stop-color="#e9adae"/><stop offset="0.0658" stop-color="#bacaf2"/><stop offset="0.0689" stop-color="#89a3ef"/><stop offset="0.0783" stop-color="#6982e5"/><stop offset="0.0877" stop-color="#5569db"/><stop offset="0.1159" stop-color="#4959d3"/><stop offset="0.1410" stop-color="#566adc"/><stop offset="0.1535" stop-color="#7690ea"/><stop offset="0.1566" stop-color="#829ced"/><stop offset="0.1598" stop-color="#93adf2"/><stop offset="0.1629" stop-color="#d7d9e7"/><stop offset="0.1660" stop-color="#de7a84"/><stop offset="0.1692" stop-color="#c32e3d"/><stop offset="0.1754" stop-color="#c12b3a"/><stop offset="0.1786" stop-color="#c32d3c"/><stop offset="0.1817" stop-color="#d5616d"/><stop offset="0.1848" stop-color="#e4dbdd"/><stop offset="0.1880" stop-color="#9eb6f3"/><stop offset="0.1911" stop-color="#849eee"/><stop offset="0.2005" stop-color="#667ee4"/><stop offset="0.2068" stop-color="#576bdc"/><stop offset="0.2350" stop-color="#4858d2"/><stop offset="0.2600" stop-color="#5568db"/><stop offset="0.2663" stop-color="#6076e1"/><stop offset="0.2757" stop-color="#7b95ec"/><stop offset="0.2788" stop-color="#86a0ef"/><stop offset="0.2820" stop-color="#abbff3"/><stop offset="0.2851" stop-color="#e8c4c5"/><stop offset="0.2882" stop-color="#ce4d59"/><stop offset="0.2914" stop-color="#c22d3c"/><stop offset="0.2976" stop-color="#c22b3b"/><stop offset="0.3008" stop-color="#c53240"/><stop offset="0.3039" stop-color="#e39298"/><stop offset="0.3070" stop-color="#c9d3ef"/><stop offset="0.3102" stop-color="#8da7f1"/><stop offset="0.3195" stop-color="#6a84e6"/><stop offset="0.3289" stop-color="#5569dc"/><stop offset="0.3571" stop-color="#4858d2"/><stop offset="0.3822" stop-color="#5265d9"/><stop offset="0.3885" stop-color="#5a6fde"/><stop offset="0.4010" stop-color="#809aed"/><stop offset="0.4041" stop-color="#aec1f2"/><stop offset="0.4073" stop-color="#e8c2c3"/><stop offset="0.4104" stop-color="#d96b75"/><stop offset="0.4135" stop-color="#d5626d"/><stop offset="0.4167" stop-color="#d6646f"/><stop offset="0.4198" stop-color="#e4979c"/><stop offset="0.4229" stop-color="#cdd4ed"/><stop offset="0.4261" stop-color="#8ba5f0"/><stop offset="0.4292" stop-color="#7892eb"/><stop offset="0.4417" stop-color="#566adc"/><stop offset="0.4637" stop-color="#4a5bd4"/><stop offset="0.4731" stop-color="#5366da"/><stop offset="0.4762" stop-color="#5a6fde"/><stop offset="0.4793" stop-color="#6a83e6"/><stop offset="0.4856" stop-color="#9bb4f3"/><stop offset="0.4887" stop-color="#b0c2f2"/><stop offset="0.4919" stop-color="#b6c7f2"/><stop offset="0.4950" stop-color="#b0c3f2"/><stop offset="0.4981" stop-color="#9cb4f3"/><stop offset="0.5044" stop-color="#6d87e7"/><stop offset="0.5075" stop-color="#7d97ec"/><stop offset="0.5107" stop-color="#96b0f3"/><stop offset="0.5138" stop-color="#b1c3f2"/><stop offset="0.5169" stop-color="#bccbf2"/><stop offset="0.5201" stop-color="#bbcaf2"/><stop offset="0.5232" stop-color="#aec1f2"/><stop offset="0.5263" stop-color="#93adf2"/><stop offset="0.5326" stop-color="#677fe4"/><stop offset="0.5357" stop-color="#5b70df"/><stop offset="0.5420" stop-color="#5265d9"/><stop offset="0.5576" stop-color="#4c5ed5"/><stop offset="0.5764" stop-color="#5568db"/><stop offset="0.5827" stop-color="#647be3"/><stop offset="0.5858" stop-color="#6e88e8"/><stop offset="0.5890" stop-color="#88a2ef"/><stop offset="0.5921" stop-color="#bccbf2"/><stop offset="0.5952" stop-color="#e5d4d6"/><stop offset="0.5984" stop-color="#eab6b6"/><stop offset="0.6015" stop-color="#eab2b2"/><stop offset="0.6046" stop-color="#e9bbbc"/><stop offset="0.6078" stop-color="#dadae6"/><stop offset="0.6109" stop-color="#a2b8f3"/><stop offset="0.6140" stop-color="#7993eb"/><stop offset="0.6172" stop-color="#6780e5"/><stop offset="0.6234" stop-color="#5568db"/><stop offset="0.6422" stop-color="#4c5ed5"/><stop offset="0.6798" stop-color="#5468db"/><stop offset="0.6861" stop-color="#5c72df"/><stop offset="0.6955" stop-color="#748eea"/><stop offset="0.7018" stop-color="#8ea8f1"/><stop offset="0.7049" stop-color="#d3d7ea"/><stop offset="0.7080" stop-color="#d76772"/><stop offset="0.7112" stop-color="#b7152c"/><stop offset="0.7174" stop-color="#b40e28"/><stop offset="0.7206" stop-color="#b51029"/><stop offset="0.7237" stop-color="#be2336"/><stop offset="0.7268" stop-color="#e8a9aa"/><stop offset="0.7299" stop-color="#b2c4f2"/><stop offset="0.7331" stop-color="#86a0ef"/><stop offset="0.7425" stop-color="#6780e5"/><stop offset="0.7487" stop-color="#586ddd"/><stop offset="0.7738" stop-color="#495ad3"/><stop offset="0.7989" stop-color="#5569db"/><stop offset="0.8114" stop-color="#728ce9"/><stop offset="0.8177" stop-color="#89a3ef"/><stop offset="0.8208" stop-color="#c3d0f2"/><stop offset="0.8239" stop-color="#e1888f"/><stop offset="0.8271" stop-color="#ba1b30"/><stop offset="0.8302" stop-color="#b51029"/><stop offset="0.8365" stop-color="#b51029"/><stop offset="0.8396" stop-color="#ba1b30"/><stop offset="0.8427" stop-color="#e1888f"/><stop offset="0.8459" stop-color="#c3d0f2"/><stop offset="0.8490" stop-color="#89a3ef"/><stop offset="0.8584" stop-color="#6982e5"/><stop offset="0.8678" stop-color="#5569db"/><stop offset="0.8929" stop-color="#4a5ad3"/><stop offset="0.9148" stop-color="#5569dc"/><stop offset="0.9273" stop-color="#748eea"/><stop offset="0.9336" stop-color="#8ea8f1"/><stop offset="0.9367" stop-color="#cdd4ed"/><stop offset="0.9398" stop-color="#e0828a"/><stop offset="0.9430" stop-color="#bf2637"/><stop offset="0.9492" stop-color="#bc1f33"/><stop offset="0.9524" stop-color="#bd2134"/><stop offset="0.9555" stop-color="#c63644"/><stop offset="0.9586" stop-color="#e9baba"/><stop offset="0.9618" stop-color="#aec1f2"/><stop offset="0.9649" stop-color="#86a0ef"/><stop offset="0.9743" stop-color="#6780e5"/><stop offset="0.9806" stop-color="#586ddd"/><stop offset="0.9994" stop-color="#4c5dd5"/></linearGradient>
<linearGradient id="hr5" x1="0" x2="1" y1="0" y2="0"><stop offset="0.0000" stop-color="#5467da"/><stop offset="0.0094" stop-color="#708ae9"/><stop offset="0.0125" stop-color="#728ce9"/><stop offset="0.0219" stop-color="#677fe4"/><stop offset="0.0282" stop-color="#6c85e7"/><stop offset="0.0376" stop-color="#89a3ef"/><stop offset="0.0407" stop-color="#bfcef2"/><stop offset="0.0439" stop-color="#e4979c"/><stop offset="0.0470" stop-color="#bf2637"/><stop offset="0.0501" stop-color="#ba1b30"/><stop offset="0.0564" stop-color="#ba1b30"/><stop offset="0.0595" stop-color="#bf2637"/><stop offset="0.0627" stop-color="#e4979c"/><stop offset="0.0658" stop-color="#bfcdf2"/><stop offset="0.0689" stop-color="#89a3ef"/><stop offset="0.0783" stop-color="#6982e5"/><stop offset="0.0877" stop-color="#5569db"/><stop offset="0.1159" stop-color="#4959d3"/><stop offset="0.1410" stop-color="#566adc"/><stop offset="0.1535" stop-color="#7690ea"/><stop offset="0.1566" stop-color="#829ced"/><stop offset="0.1598" stop-color="#94aef2"/><stop offset="0.1629" stop-color="#dcdbe4"/><stop offset="0.1660" stop-color="#d76671"/><stop offset="0.1692" stop-color="#be2336"/><stop offset="0.1754" stop-color="#bc1f33"/><stop offset="0.1786" stop-color="#bd2235"/><stop offset="0.1817" stop-color="#ce4c58"/><stop offset="0.1848" stop-color="#e6d2d4"/><stop offset="0.1880" stop-color="#9fb7f3"/><stop offset="0.1911" stop-color="#849eee"/><stop offset="0.2005" stop-color="#667ee4"/><stop offset="0.2068" stop-color="#576bdc"/><stop offset="0.2350" stop-color="#4858d2"/><stop offset="0.2600" stop-color="#5568db"/><stop offset="0.2663" stop-color="#6076e1"/><stop offset="0.2757" stop-color="#7b95ec"/><stop offset="0.2788" stop-color="#86a0ef"/><stop offset="0.2820" stop-color="#aec1f2"/><stop offset="0.2851" stop-color="#e9baba"/><stop offset="0.2882" stop-color="#c63644"/><stop offset="0.2914" stop-color="#bd2134"/><stop offset="0.2976" stop-color="#bc2034"/><stop offset="0.3008" stop-color="#bf2637"/><stop offset="0.3039" stop-color="#e0828a"/><stop offset="0.3070" stop-color="#cdd4ed"/><stop offset="0.3102" stop-color="#8ea8f1"/><stop offset="0.3195" stop-color="#6a84e6"/><stop offset="0.3289" stop-color="#5569dc"/><stop offset="0.3571" stop-color="#4858d2"/><stop offset="0.3822" stop-color="#5265d9"/><stop offset="0.3885" stop-color="#5a6fde"/><stop offset="0.4010" stop-color="#809aed"/><stop offset="0.4041" stop-color="#b1c3f2"/><stop offset="0.4073" stop-color="#eab5b6"/><stop offset="0.4104" stop-color="#d0525e"/><stop offset="0.4135" stop-color="#cd4955"/><stop offset="0.4167" stop-color="#ce4b58"/><stop offset="0.4198" stop-color="#e0848c"/><stop offset="0.4229" stop-color="#d2d6ea"/><stop offset="0.4261" stop-color="#8ca6f0"/><stop offset="0.4292" stop-color="#7892eb"/><stop offset="0.4417" stop-color="#566adc"/><stop offset="0.4637" stop-color="#4a5bd4"/><stop offset="0.4731" stop-color="#5366da"/><stop offset="0.4762" stop-color="#5a6fde"/><stop offset="0.4793" stop-color="#6a83e6"/><stop offset="0.4856" stop-color="#9bb4f3"/><stop offset="0.4887" stop-color="#b0c2f2"/><stop offset="0.4919" stop-color="#b6c7f2"/><stop offset="0.4950" stop-color="#b0c3f2"/><stop offset="0.4981" stop-color="#9cb4f3"/><stop offset="0.5044" stop-color="#6d87e7"/><stop offset="0.5075" stop-color="#7c96ec"/><stop offset="0.5107" stop-color="#93adf2"/><stop offset="0.5138" stop-color="#abbff3"/><stop offset="0.5169" stop-color="#b5c6f2"/><stop offset="0.5201" stop-color="#b4c5f2"/><stop offset="0.5232" stop-color="#a8bcf3"/><stop offset="0.5294" stop-color="#7993eb"/><stop offset="0.5326" stop-color="#677fe4"/><stop offset="0.5357" stop-color="#5b70df"/><stop offset="0.5420" stop-color="#5265d9"/><stop offset="0.5576" stop-color="#4c5ed5"/><stop offset="0.5764" stop-color="#5568db"/><stop offset="0.5827" stop-color="#647be3"/><stop offset="0.5858" stop-color="#6e88e8"/><stop offset="0.5890" stop-color="#88a2ef"/><stop offset="0.5921" stop-color="#b9c9f2"/><stop offset="0.5952" stop-color="#e4dcde"/><stop offset="0.5984" stop-color="#e8bebf"/><stop offset="0.6015" stop-color="#e9bbbb"/><stop offset="0.6046" stop-color="#e8c4c5"/><stop offset="0.6078" stop-color="#d6d8e8"/><stop offset="0.6109" stop-color="#9fb7f3"/><stop offset="0.6140" stop-color="#7993eb"/><stop offset="0.6172" stop-color="#6780e5"/><stop offset="0.6234" stop-color="#5568db"/><stop offset="0.6422" stop-color="#4c5ed5"/><stop offset="0.6798" stop-color="#5468db"/><stop offset="0.6861" stop-color="#5c72df"/><stop offset="0.6955" stop-color="#748eea"/><stop offset="0.7018" stop-color="#8ea8f1"/><stop offset="0.7049" stop-color="#d3d7ea"/><stop offset="0.7080" stop-color="#d76772"/><stop offset="0.7112" stop-color="#b7152c"/><stop offset="0.7174" stop-color="#b40e28"/><stop offset="0.7206" stop-color="#b51029"/><stop offset="0.7237" stop-color="#be2336"/><stop offset="0.7268" stop-color="#e8a9aa"/><stop offset="0.7299" stop-color="#b2c4f2"/><stop offset="0.7331" stop-color="#86a0ef"/><stop offset="0.7425" stop-color="#6780e5"/><stop offset="0.7487" stop-color="#586ddd"/><stop offset="0.7738" stop-color="#495ad3"/><stop offset="0.7989" stop-color="#5569db"/><stop offset="0.8114" stop-color="#728ce9"/><stop offset="0.8177" stop-color="#89a3ef"/><stop offset="0.8208" stop-color="#c3d0f2"/><stop offset="0.8239" stop-color="#e1888f"/><stop offset="0.8271" stop-color="#ba1b30"/><stop offset="0.8302" stop-color="#b51029"/><stop offset="0.8365" stop-color="#b51029"/><stop offset="0.8396" stop-color="#ba1b30"/><stop offset="0.8427" stop-color="#e1888f"/><stop offset="0.8459" stop-color="#c3d0f2"/><stop offset="0.8490" stop-color="#89a3ef"/><stop offset="0.8584" stop-color="#6982e5"/><stop offset="0.8678" stop-color="#5569db"/><stop offset="0.8929" stop-color="#4a5ad3"/><stop offset="0.9148" stop-color="#5569dc"/><stop offset="0.9273" stop-color="#748eea"/><stop offset="0.9336" stop-color="#8ea8f1"/><stop offset="0.9367" stop-color="#cdd4ed"/><stop offset="0.9398" stop-color="#e0828a"/><stop offset="0.9430" stop-color="#bf2637"/><stop offset="0.9492" stop-color="#bc1f33"/><stop offset="0.9524" stop-color="#bd2134"/><stop offset="0.9555" stop-color="#c63644"/><stop offset="0.9586" stop-color="#e9baba"/><stop offset="0.9618" stop-color="#aec1f2"/><stop offset="0.9649" stop-color="#86a0ef"/><stop offset="0.9743" stop-color="#6780e5"/><stop offset="0.9806" stop-color="#586ddd"/><stop offset="0.9994" stop-color="#4c5dd5"/></linearGradient>
<linearGradient id="hr6" x1="0" x2="1" y1="0" y2="0"><stop offset="0.0000" stop-color="#5467da"/><stop offset="0.0094" stop-color="#708ae9"/><stop offset="0.0125" stop-color="#728ce9"/><stop offset="0.0219" stop-color="#677fe4"/><stop offset="0.0282" stop-color="#6c85e7"/><stop offset="0.0376" stop-color="#89a3ef"/><stop offset="0.0407" stop-color="#c3d0f2"/><stop offset="0.0439" stop-color="#e1888f"/><stop offset="0.0470" stop-color="#ba1b30"/><stop offset="0.0501" stop-color="#b51029"/><stop offset="0.0564" stop-color="#b51029"/><stop offset="0.0595" stop-color="#ba1b30"/><stop offset="0.0627" stop-color="#e1888f"/><stop offset="0.0658" stop-color="#c3d0f2"/><stop offset="0.0689" stop-color="#89a3ef"/><stop offset="0.0783" stop-color="#6982e5"/><stop offset="0.0877" stop-color="#5569db"/><stop offset="0.1159" stop-color="#4959d3"/><stop offset="0.1410" stop-color="#566adc"/><stop offset="0.1535" stop-color="#7690ea"/><stop offset="0.1566" stop-color="#829ced"/><stop offset="0.1598" stop-color="#95aff3"/><stop offset="0.1629" stop-color="#e3dee1"/><stop offset="0.1660" stop-color="#cc4854"/><stop offset="0.1692" stop-color="#b6122b"/><stop offset="0.1754" stop-color="#b40e28"/><stop offset="0.1786" stop-color="#b5112a"/><stop offset="0.1817" stop-color="#c32e3d"/><stop offset="0.1848" stop-color="#e7c5c6"/><stop offset="0.1880" stop-color="#a2b8f3"/><stop offset="0.1911" stop-color="#849eee"/><stop offset="0.2005" stop-color="#667ee4"/><stop offset="0.2068" stop-color="#576bdc"/><stop offset="0.2350" stop-color="#4858d2"/><stop offset="0.2600" stop-color="#5568db"/><stop offset="0.2663" stop-color="#6076e1"/><stop offset="0.2757" stop-color="#7b95ec"/><stop offset="0.2788" stop-color="#86a0ef"/><stop offset="0.2820" stop-color="#b2c4f2"/><stop offset="0.2851" stop-color="#e8a9aa"/><stop offset="0.2882" stop-color="#be2336"/><stop offset="0.2914" stop-color="#b51029"/><stop offset="0.2976" stop-color="#b40f29"/><stop offset="0.3008" stop-color="#b7152c"/><stop offset="0.3039" stop-color="#d76772"/><stop offset="0.3070" stop-color="#d3d7ea"/><stop offset="0.3102" stop-color="#8ea8f1"/><stop offset="0.3195" stop-color="#6a84e6"/><stop offset="0.3289" stop-color="#5569dc"/><stop offset="0.3571" stop-color="#4858d2"/><stop offset="0.3822" stop-color="#5265d9"/><stop offset="0.3885" stop-color="#5a6fde"/><stop offset="0.4010" stop-color="#809aed"/><stop offset="0.4041" stop-color="#b5c6f2"/><stop offset="0.4073" stop-color="#e7a6a8"/><stop offset="0.4104" stop-color="#c73a47"/><stop offset="0.4135" stop-color="#c4303e"/><stop offset="0.4167" stop-color="#c53341"/><stop offset="0.4198" stop-color="#da707a"/><stop offset="0.4229" stop-color="#d7d8e7"/><stop offset="0.4261" stop-color="#8ca6f0"/><stop offset="0.4292" stop-color="#7892eb"/><stop offset="0.4417" stop-color="#566adc"/><stop offset="0.4637" stop-color="#4a5bd4"/><stop offset="0.4731" stop-color="#5366da"/><stop offset="0.4762" stop-color="#5a6fde"/><stop offset="0.4793" stop-color="#6a83e6"/><stop offset="0.4856" stop-color="#9bb4f3"/><stop offset="0.4887" stop-color="#b0c2f2"/><stop offset="0.4919" stop-color="#b6c7f2"/><stop offset="0.4950" stop-color="#b0c3f2"/><stop offset="0.4981" stop-color="#9cb4f3"/><stop offset="0.5044" stop-color="#6d87e7"/><stop offset="0.5075" stop-color="#7c96ec"/><stop offset="0.5107" stop-color="#93adf2"/><stop offset="0.5138" stop-color="#abbff3"/><stop offset="0.5169" stop-color="#b5c6f2"/><stop offset="0.5201" stop-color="#b4c5f2"/><stop offset="0.5232" stop-color="#a8bcf3"/><stop offset="0.5294" stop-color="#7993eb"/><stop offset="0.5326" stop-color="#677fe4"/><stop offset="0.5357" stop-color="#5b70df"/><stop offset="0.5420" stop-color="#5265d9"/><stop offset="0.5576" stop-color="#4c5ed5"/><stop offset="0.5764" stop-color="#5568db"/><stop offset="0.5827" stop-color="#647be3"/><stop offset="0.5858" stop-color="#6e88e8"/><stop offset="0.5890" stop-color="#86a0ef"/><stop offset="0.5921" stop-color="#b2c4f2"/><stop offset="0.5952" stop-color="#dcdae5"/><stop offset="0.5984" stop-color="#e6d0d1"/><stop offset="0.6015" stop-color="#e6cdce"/><stop offset="0.6046" stop-color="#e5d6d7"/><stop offset="0.6078" stop-color="#cdd4ec"/><stop offset="0.6109" stop-color="#9ab3f3"/><stop offset="0.6140" stop-color="#7892eb"/><stop offset="0.6203" stop-color="#5c72df"/><stop offset="0.6266" stop-color="#5265d9"/><stop offset="0.6454" stop-color="#4c5ed5"/><stop offset="0.6798" stop-color="#5468db"/><stop offset="0.6861" stop-color="#5c72df"/><stop offset="0.6955" stop-color="#748eea"/><stop offset="0.7018" stop-color="#8ea8f1"/><stop offset="0.7049" stop-color="#d3d7ea"/><stop offset="0.7080" stop-color="#d76772"/><stop offset="0.7112" stop-color="#b7152c"/><stop offset="0.7174" stop-color="#b40e28"/><stop offset="0.7206" stop-color="#b51029"/><stop offset="0.7237" stop-color="#be2336"/><stop offset="0.7268" stop-color="#e8a9aa"/><stop offset="0.7299" stop-color="#b2c4f2"/><stop offset="0.7331" stop-color="#86a0ef"/><stop offset="0.7425" stop-color="#6780e5"/><stop offset="0.7487" stop-color="#586ddd"/><stop offset="0.7738" stop-color="#495ad3"/><stop offset="0.7989" stop-color="#5569db"/><stop offset="0.8114" stop-color="#728ce9"/><stop offset="0.8177" stop-color="#89a3ef"/><stop offset="0.8208" stop-color="#c3d0f2"/><stop offset="0.8239" stop-color="#e1888f"/><stop offset="0.8271" stop-color="#ba1b30"/><stop offset="0.8302" stop-color="#b51029"/><stop offset="0.8365" stop-color="#b51029"/><stop offset="0.8396" stop-color="#ba1b30"/><stop offset="0.8427" stop-color="#e1888f"/><stop offset="0.8459" stop-color="#c3d0f2"/><stop offset="0.8490" stop-color="#89a3ef"/><stop offset="0.8584" stop-color="#6982e5"/><stop offset="0.8678" stop-color="#5569db"/><stop offset="0.8929" stop-color="#4a5ad3"/><stop offset="0.9148" stop-color="#5569dc"/><stop offset="0.9273" stop-color="#748eea"/><stop offset="0.9336" stop-color="#8ea8f1"/><stop offset="0.9367" stop-color="#cdd4ed"/><stop offset="0.9398" stop-color="#e0828a"/><stop offset="0.9430" stop-color="#bf2637"/><stop offset="0.9492" stop-color="#bc1f33"/><stop offset="0.9524" stop-color="#bd2134"/><stop offset="0.9555" stop-color="#c63644"/><stop offset="0.9586" stop-color="#e9baba"/><stop offset="0.9618" stop-color="#aec1f2"/><stop offset="0.9649" stop-color="#86a0ef"/><stop offset="0.9743" stop-color="#6780e5"/><stop offset="0.9806" stop-color="#586ddd"/><stop offset="0.9994" stop-color="#4c5dd5"/></linearGradient>
<linearGradient id="hr7" x1="0" x2="1" y1="0" y2="0"><stop offset="0.0000" stop-color="#5467da"/><stop offset="0.0094" stop-color="#708ae9"/><stop offset="0.0125" stop-color="#728ce9"/><stop offset="0.0219" stop-color="#677fe4"/><stop offset="0.0282" stop-color="#6c85e7"/><stop offset="0.0376" stop-color="#89a3ef"/><stop offset="0.0407" stop-color="#c3d0f2"/><stop offset="0.0439" stop-color="#e1888f"/><stop offset="0.0470" stop-color="#ba1b30"/><stop offset="0.0501" stop-color="#b51029"/><stop offset="0.0564" stop-color="#b51029"/><stop offset="0.0595" stop-color="#ba1b30"/><stop offset="0.0627" stop-color="#e1888f"/><stop offset="0.0658" stop-color="#c3d0f2"/><stop offset="0.0689" stop-color="#89a3ef"/><stop offset="0.0783" stop-color="#6982e5"/><stop offset="0.0877" stop-color="#5569db"/><stop offset="0.1159" stop-color="#4959d3"/><stop offset="0.1410" stop-color="#566adc"/><stop offset="0.1535" stop-color="#7690ea"/><stop offset="0.1566" stop-color="#829ced"/><stop offset="0.1598" stop-color="#95aff3"/><stop offset="0.1629" stop-color="#e3dee1"/><stop offset="0.1660" stop-color="#cc4854"/><stop offset="0.1692" stop-color="#b6122b"/><stop offset="0.1754" stop-color="#b40e28"/><stop offset="0.1786" stop-color="#b5112a"/><stop offset="0.1817" stop-color="#c32e3d"/><stop offset="0.1848" stop-color="#e7c5c6"/><stop offset="0.1880" stop-color="#a2b8f3"/><stop offset="0.1911" stop-color="#849eee"/><stop offset="0.2005" stop-color="#667ee4"/><stop offset="0.2068" stop-color="#576bdc"/><stop offset="0.2350" stop-color="#4858d2"/><stop offset="0.2600" stop-color="#5568db"/><stop offset="0.2663" stop-color="#6076e1"/><stop offset="0.2757" stop-color="#7b95ec"/><stop offset="0.2788" stop-color="#86a0ef"/><stop offset="0.2820" stop-color="#b2c4f2"/><stop offset="0.2851" stop-color="#e8a9aa"/><stop offset="0.2882" stop-color="#be2336"/><stop offset="0.2914" stop-color="#b51029"/><stop offset="0.2976" stop-color="#b40f29"/><stop offset="0.3008" stop-color="#b7152c"/><stop offset="0.3039" stop-color="#d76772"/><stop offset="0.3070" stop-color="#d3d7ea"/><stop offset="0.3102" stop-color="#8ea8f1"/><stop offset="0.3195" stop-color="#6a84e6"/><stop offset="0.3289" stop-color="#5569dc"/><stop offset="0.3571" stop-color="#4858d2"/><stop offset="0.3822" stop-color="#5265d9"/><stop offset="0.3885" stop-color="#5a6fde"/><stop offset="0.4010" stop-color="#809aed"/><stop offset="0.4041" stop-color="#b3c5f2"/><stop offset="0.4073" stop-color="#e9aeaf"/><stop offset="0.4104" stop-color="#cc4653"/><stop offset="0.4135" stop-color="#c83d4a"/><stop offset="0.4167" stop-color="#c93f4c"/><stop offset="0.4198" stop-color="#de7a84"/><stop offset="0.4229" stop-color="#d4d7e9"/><stop offset="0.4261" stop-color="#8ca6f0"/><stop offset="0.4292" stop-color="#7892eb"/><stop offset="0.4417" stop-color="#566adc"/><stop offset="0.4637" stop-color="#4a5bd4"/><stop offset="0.4731" stop-color="#5366da"/><stop offset="0.4762" stop-color="#5a6fde"/><stop offset="0.4793" stop-color="#6a83e6"/><stop offset="0.4856" stop-color="#9bb4f3"/><stop offset="0.4887" stop-color="#b0c2f2"/><stop offset="0.4919" stop-color="#b6c7f2"/><stop offset="0.4950" stop-color="#b0c3f2"/><stop offset="0.4981" stop-color="#9cb4f3"/><stop offset="0.5044" stop-color="#6d87e7"/><stop offset="0.5075" stop-color="#7c96ec"/><stop offset="0.5107" stop-color="#93adf2"/><stop offset="0.5138" stop-color="#abbff3"/><stop offset="0.5169" stop-color="#b5c6f2"/><stop offset="0.5201" stop-color="#b4c5f2"/><stop offset="0.5232" stop-color="#a8bcf3"/><stop offset="0.5294" stop-color="#7993eb"/><stop offset="0.5326" stop-color="#677fe4"/><stop offset="0.5357" stop-color="#5b70df"/><stop offset="0.5420" stop-color="#5265d9"/><stop offset="0.5576" stop-color="#4c5ed5"/><stop offset="0.5764" stop-color="#5568db"/><stop offset="0.5827" stop-color="#647be3"/><stop offset="0.5858" stop-color="#6e88e8"/><stop offset="0.5890" stop-color="#839dee"/><stop offset="0.5952" stop-color="#c3d0f2"/><stop offset="0.5984" stop-color="#d1d6ea"/><stop offset="0.6015" stop-color="#d3d7e9"/><stop offset="0.6046" stop-color="#ced5ec"/><stop offset="0.6078" stop-color="#b6c7f2"/><stop offset="0.6109" stop-color="#91abf2"/><stop offset="0.6140" stop-color="#7791ea"/><stop offset="0.6203" stop-color="#5c72df"/><stop offset="0.6266" stop-color="#5265d9"/><stop offset="0.6454" stop-color="#4c5ed5"/><stop offset="0.6798" stop-color="#5468db"/><stop offset="0.6861" stop-color="#5c72df"/><stop offset="0.6955" stop-color="#748eea"/><stop offset="0.7018" stop-color="#8ea8f1"/><stop offset="0.7049" stop-color="#d3d7ea"/><stop offset="0.7080" stop-color="#d76772"/><stop offset="0.7112" stop-color="#b7152c"/><stop offset="0.7174" stop-color="#b40e28"/><stop offset="0.7206" stop-color="#b51029"/><stop offset="0.7237" stop-color="#be2336"/><stop offset="0.7268" stop-color="#e8a9aa"/><stop offset="0.7299" stop-color="#b2c4f2"/><stop offset="0.7331" stop-color="#86a0ef"/><stop offset="0.7425" stop-color="#6780e5"/><stop offset="0.7487" stop-color="#586ddd"/><stop offset="0.7738" stop-color="#495ad3"/><stop offset="0.7989" stop-color="#5569db"/><stop offset="0.8114" stop-color="#728ce9"/><stop offset="0.8177" stop-color="#89a3ef"/><stop offset="0.8208" stop-color="#c3d0f2"/><stop offset="0.8239" stop-color="#e1888f"/><stop offset="0.8271" stop-color="#ba1b30"/><stop offset="0.8302" stop-color="#b51029"/><stop offset="0.8365" stop-color="#b51029"/><stop offset="0.8396" stop-color="#ba1b30"/><stop offset="0.8427" stop-color="#e1888f"/><stop offset="0.8459" stop-color="#c3d0f2"/><stop offset="0.8490" stop-color="#89a3ef"/><stop offset="0.8584" stop-color="#6982e5"/><stop offset="0.8678" stop-color="#5569db"/><stop offset="0.8929" stop-color="#4a5ad3"/><stop offset="0.9148" stop-color="#5569dc"/><stop offset="0.9273" stop-color="#748eea"/><stop offset="0.9336" stop-color="#8ea8f1"/><stop offset="0.9367" stop-color="#cdd4ed"/><stop offset="0.9398" stop-color="#e0828a"/><stop offset="0.9430" stop-color="#bf2637"/><stop offset="0.9492" stop-color="#bc1f33"/><stop offset="0.9524" stop-color="#bd2134"/><stop offset="0.9555" stop-color="#c63644"/><stop offset="0.9586" stop-color="#e9baba"/><stop offset="0.9618" stop-color="#aec1f2"/><stop offset="0.9649" stop-color="#86a0ef"/><stop offset="0.9743" stop-color="#6780e5"/><stop offset="0.9806" stop-color="#586ddd"/><stop offset="0.9994" stop-color="#4c5dd5"/></linearGradient>
<linearGradient id="hr8" x1="0" x2="1" y1="0" y2="0"><stop offset="0.0000" stop-color="#5467da"/><stop offset="0.0094" stop-color="#708ae9"/><stop offset="0.0125" stop-color="#728ce9"/><stop offset="0.0219" stop-color="#677fe4"/><stop offset="0.0282" stop-color="#6c85e7"/><stop offset="0.0376" stop-color="#89a3ef"/><stop offset="0.0407" stop-color="#c3d0f2"/><stop offset="0.0439" stop-color="#e1888f"/><stop offset="0.0470" stop-color="#ba1b30"/><stop offset="0.0501" stop-color="#b51029"/><stop offset="0.0564" stop-color="#b51029"/><stop offset="0.0595" stop-color="#ba1b30"/><stop offset="0.0627" stop-color="#e1888f"/><stop offset="0.0658" stop-color="#c3d0f2"/><stop offset="0.0689" stop-color="#89a3ef"/><stop offset="0.0783" stop-color="#6982e5"/><stop offset="0.0877" stop-color="#5569db"/><stop offset="0.1159" stop-color="#4959d3"/><stop offset="0.1410" stop-color="#566adc"/><stop offset="0.1535" stop-color="#7690ea"/><stop offset="0.1566" stop-color="#829ced"/><stop offset="0.1598" stop-color="#95aff3"/><stop offset="0.1629" stop-color="#e3dee1"/><stop offset="0.1660" stop-color="#cc4854"/><stop offset="0.1692" stop-color="#b6122b"/><stop offset="0.1754" stop-color="#b40e28"/><stop offset="0.1786" stop-color="#b5112a"/><stop offset="0.1817" stop-color="#c32e3d"/><stop offset="0.1848" stop-color="#e7c5c6"/><stop offset="0.1880" stop-color="#a2b8f3"/><stop offset="0.1911" stop-color="#849eee"/><stop offset="0.2005" stop-color="#667ee4"/><stop offset="0.2068" stop-color="#576bdc"/><stop offset="0.2350" stop-color="#4858d2"/><stop offset="0.2600" stop-color="#5568db"/><stop offset="0.2663" stop-color="#6076e1"/><stop offset="0.2757" stop-color="#7b95ec"/><stop offset="0.2788" stop-color="#86a0ef"/><stop offset="0.2820" stop-color="#aec1f2"/><stop offset="0.2851" stop-color="#e9baba"/><stop offset="0.2882" stop-color="#c63644"/><stop offset="0.2914" stop-color="#bd2134"/><stop offset="0.2976" stop-color="#bc2034"/><stop offset="0.3008" stop-color="#bf2637"/><stop offset="0.3039" stop-color="#e0828a"/><stop offset="0.3070" stop-color="#cdd4ed"/><stop offset="0.3102" stop-color="#8ea8f1"/><stop offset="0.3195" stop-color="#6a84e6"/><stop offset="0.3289" stop-color="#5569dc"/><stop offset="0.3571" stop-color="#4858d2"/><stop offset="0.3822" stop-color="#5265d9"/><stop offset="0.3885" stop-color="#5a6fde"/><stop offset="0.4010" stop-color="#809aed"/><stop offset="0.4041" stop-color="#a6bcf3"/><stop offset="0.4073" stop-color="#e4dbdd"/><stop offset="0.4104" stop-color="#e5989d"/><stop offset="0.4135" stop-color="#e39197"/><stop offset="0.4167" stop-color="#e39398"/><stop offset="0.4198" stop-color="#e9bbbc"/><stop offset="0.4229" stop-color="#c2d0f2"/><stop offset="0.4261" stop-color="#8aa4f0"/><stop offset="0.4292" stop-color="#7892eb"/><stop offset="0.4417" stop-color="#566adc"/><stop offset="0.4637" stop-color="#4a5bd4"/><stop offset="0.4731" stop-color="#5366da"/><stop offset="0.4762" stop-color="#5a6fde"/><stop offset="0.4793" stop-color="#6a83e6"/><stop offset="0.4856" stop-color="#96b0f3"/><stop offset="0.4887" stop-color="#a9bef3"/><stop offset="0.4919" stop-color="#b0c2f2"/><stop offset="0.4950" stop-color="#aabef3"/><stop offset="0.4981" stop-color="#96b0f3"/><stop offset="0.5044" stop-color="#6c86e7"/><stop offset="0.5075" stop-color="#7a94eb"/><stop offset="0.5138" stop-color="#a5baf3"/><stop offset="0.5169" stop-color="#afc2f2"/><stop offset="0.5201" stop-color="#aec1f2"/><stop offset="0.5232" stop-color="#a1b8f3"/><stop offset="0.5326" stop-color="#677fe4"/><stop offset="0.5357" stop-color="#5b70df"/><stop offset="0.5420" stop-color="#5265d9"/><stop offset="0.5576" stop-color="#4c5ed5"/><stop offset="0.5764" stop-color="#5568db"/><stop offset="0.5827" stop-color="#647be3"/><stop offset="0.5858" stop-color="#6e88e8"/><stop offset="0.5921" stop-color="#96b0f3"/><stop offset="0.5952" stop-color="#b2c4f2"/><stop offset="0.5984" stop-color="#c0cef2"/><stop offset="0.6015" stop-color="#c3d0f2"/><stop offset="0.6046" stop-color="#bdccf2"/><stop offset="0.6078" stop-color="#a8bcf3"/><stop offset="0.6140" stop-color="#7690ea"/><stop offset="0.6203" stop-color="#5c72df"/><stop offset="0.6266" stop-color="#5265d9"/><stop offset="0.6454" stop-color="#4c5ed5"/><stop offset="0.6798" stop-color="#5468db"/><stop offset="0.6861" stop-color="#5c72df"/><stop offset="0.6955" stop-color="#748eea"/><stop offset="0.7018" stop-color="#8ca6f0"/><stop offset="0.7049" stop-color="#b9c9f2"/><stop offset="0.7080" stop-color="#e6cdce"/><stop offset="0.7112" stop-color="#e39197"/><stop offset="0.7143" stop-color="#e1878f"/><stop offset="0.7174" stop-color="#e0858d"/><stop offset="0.7206" stop-color="#e18a91"/><stop offset="0.7237" stop-color="#e7a4a7"/><stop offset="0.7268" stop-color="#dadae5"/><stop offset="0.7299" stop-color="#a2b8f3"/><stop offset="0.7331" stop-color="#86a0ef"/><stop offset="0.7425" stop-color="#6780e5"/><stop offset="0.7487" stop-color="#586ddd"/><stop offset="0.7738" stop-color="#495ad3"/><stop offset="0.7989" stop-color="#5569db"/><stop offset="0.8114" stop-color="#728ce9"/><stop offset="0.8177" stop-color="#89a3ef"/><stop offset="0.8208" stop-color="#c3d0f2"/><stop offset="0.8239" stop-color="#e1888f"/><stop offset="0.8271" stop-color="#ba1b30"/><stop offset="0.8302" stop-color="#b51029"/><stop offset="0.8365" stop-color="#b51029"/><stop offset="0.8396" stop-color="#ba1b30"/><stop offset="0.8427" stop-color="#e1888f"/><stop offset="0.8459" stop-color="#c3d0f2"/><stop offset="0.8490" stop-color="#89a3ef"/><stop offset="0.8584" stop-color="#6982e5"/><stop offset="0.8678" stop-color="#5569db"/><stop offset="0.8929" stop-color="#4a5ad3"/><stop offset="0.9148" stop-color="#5569dc"/><stop offset="0.9273" stop-color="#748eea"/><stop offset="0.9336" stop-color="#8ea8f1"/><stop offset="0.9367" stop-color="#cdd4ed"/><stop offset="0.9398" stop-color="#e0828a"/><stop offset="0.9430" stop-color="#bf2637"/><stop offset="0.9492" stop-color="#bc1f33"/><stop offset="0.9524" stop-color="#bd2134"/><stop offset="0.9555" stop-color="#c63644"/><stop offset="0.9586" stop-color="#e9baba"/><stop offset="0.9618" stop-color="#aec1f2"/><stop offset="0.9649" stop-color="#86a0ef"/><stop offset="0.9743" stop-color="#6780e5"/><stop offset="0.9806" stop-color="#586ddd"/><stop offset="0.9994" stop-color="#4c5dd5"/></linearGradient>
<linearGradient id="hr9" x1="0" x2="1" y1="0" y2="0"><stop offset="0.0000" stop-color="#5467da"/><stop offset="0.0094" stop-color="#708ae9"/><stop offset="0.0125" stop-color="#728ce9"/><stop offset="0.0219" stop-color="#677fe4"/><stop offset="0.0282" stop-color="#6c85e7"/><stop offset="0.0376" stop-color="#89a3ef"/><stop offset="0.0407" stop-color="#bfcef2"/><stop offset="0.0439" stop-color="#e4979c"/><stop offset="0.0470" stop-color="#bf2637"/><stop offset="0.0501" stop-color="#ba1b30"/><stop offset="0.0564" stop-color="#ba1b30"/><stop offset="0.0595" stop-color="#bf2637"/><stop offset="0.0627" stop-color="#e4979c"/><stop offset="0.0658" stop-color="#bfcdf2"/><stop offset="0.0689" stop-color="#89a3ef"/><stop offset="0.0783" stop-color="#6982e5"/><stop offset="0.0877" stop-color="#5569db"/><stop offset="0.1159" stop-color="#4959d3"/><stop offset="0.1410" stop-color="#566adc"/><stop offset="0.1535" stop-color="#7690ea"/><stop offset="0.1566" stop-color="#829ced"/><stop offset="0.1598" stop-color="#94aef2"/><stop offset="0.1629" stop-color="#dcdbe4"/><stop offset="0.1660" stop-color="#d76671"/><stop offset="0.1692" stop-color="#be2336"/><stop offset="0.1754" stop-color="#bc1f33"/><stop offset="0.1786" stop-color="#bd2235"/><stop offset="0.1817" stop-color="#ce4c58"/><stop offset="0.1848" stop-color="#e6d2d4"/><stop offset="0.1880" stop-color="#9fb7f3"/><stop offset="0.1911" stop-color="#849eee"/><stop offset="0.2005" stop-color="#667ee4"/><stop offset="0.2068" stop-color="#576bdc"/><stop offset="0.2350" stop-color="#4858d2"/><stop offset="0.2600" stop-color="#5568db"/><stop offset="0.2663" stop-color="#6076e1"/><stop offset="0.2757" stop-color="#7b95ec"/><stop offset="0.2788" stop-color="#86a0ef"/><stop offset="0.2820" stop-color="#a5bbf3"/><stop offset="0.2851" stop-color="#e4dee0"/><stop offset="0.2882" stop-color="#e0858d"/><stop offset="0.2914" stop-color="#d76671"/><stop offset="0.2945" stop-color="#d5616d"/><stop offset="0.2976" stop-color="#d6646f"/><stop offset="0.3008" stop-color="#da6f7a"/><stop offset="0.3039" stop-color="#e9baba"/><stop offset="0.3070" stop-color="#c0cef2"/><stop offset="0.3102" stop-color="#8da7f0"/><stop offset="0.3195" stop-color="#6a84e6"/><stop offset="0.3289" stop-color="#5569dc"/><stop offset="0.3571" stop-color="#4858d2"/><stop offset="0.3822" stop-color="#5265d9"/><stop offset="0.3885" stop-color="#5a6fde"/><stop offset="0.4010" stop-color="#7f99ed"/><stop offset="0.4041" stop-color="#9bb4f3"/><stop offset="0.4073" stop-color="#ced5ec"/><stop offset="0.4104" stop-color="#e6d2d4"/><stop offset="0.4135" stop-color="#e6cdce"/><stop offset="0.4167" stop-color="#e6ced0"/><stop offset="0.4198" stop-color="#dddbe4"/><stop offset="0.4229" stop-color="#b1c3f2"/><stop offset="0.4261" stop-color="#88a2ef"/><stop offset="0.4323" stop-color="#6d87e8"/><stop offset="0.4417" stop-color="#566adc"/><stop offset="0.4637" stop-color="#4a5bd4"/><stop offset="0.4731" stop-color="#5366da"/><stop offset="0.4762" stop-color="#5a6fde"/><stop offset="0.4793" stop-color="#6a83e6"/><stop offset="0.4856" stop-color="#96b0f3"/><stop offset="0.4887" stop-color="#a9bef3"/><stop offset="0.4919" stop-color="#b0c2f2"/><stop offset="0.4950" stop-color="#aabef3"/><stop offset="0.4981" stop-color="#96b0f3"/><stop offset="0.5044" stop-color="#6c86e7"/><stop offset="0.5075" stop-color="#7a94eb"/><stop offset="0.5138" stop-color="#a5baf3"/><stop offset="0.5169" stop-color="#afc2f2"/><stop offset="0.5201" stop-color="#aec1f2"/><stop offset="0.5232" stop-color="#a1b8f3"/><stop offset="0.5326" stop-color="#677fe4"/><stop offset="0.5357" stop-color="#5b70df"/><stop offset="0.5420" stop-color="#5265d9"/><stop offset="0.5576" stop-color="#4c5ed5"/><stop offset="0.5764" stop-color="#5568db"/><stop offset="0.5827" stop-color="#647be3"/><stop offset="0.5858" stop-color="#6e88e8"/><stop offset="0.5921" stop-color="#94aef2"/><stop offset="0.5952" stop-color="#adc0f2"/><stop offset="0.5984" stop-color="#bacaf2"/><stop offset="0.6015" stop-color="#bccbf2"/><stop offset="0.6046" stop-color="#b6c7f2"/><stop offset="0.6078" stop-color="#a3b9f3"/><stop offset="0.6140" stop-color="#7690ea"/><stop offset="0.6203" stop-color="#5c72df"/><stop offset="0.6266" stop-color="#5265d9"/><stop offset="0.6454" stop-color="#4c5ed5"/><stop offset="0.6798" stop-color="#5468db"/><stop offset="0.6861" stop-color="#5c72df"/><stop offset="0.6955" stop-color="#748eea"/><stop offset="0.7018" stop-color="#8ba5f0"/><stop offset="0.7049" stop-color="#a6bbf3"/><stop offset="0.7080" stop-color="#cad3ee"/><stop offset="0.7112" stop-color="#dfdce3"/><stop offset="0.7174" stop-color="#e4dee0"/><stop offset="0.7206" stop-color="#e2dde1"/><stop offset="0.7237" stop-color="#d8d9e6"/><stop offset="0.7268" stop-color="#bdcbf2"/><stop offset="0.7299" stop-color="#97b1f3"/><stop offset="0.7331" stop-color="#86a0ef"/><stop offset="0.7425" stop-color="#6780e5"/><stop offset="0.7487" stop-color="#586ddd"/><stop offset="0.7738" stop-color="#495ad3"/><stop offset="0.7989" stop-color="#5569db"/><stop offset="0.8114" stop-color="#728ce9"/><stop offset="0.8177" stop-color="#88a2ef"/><stop offset="0.8208" stop-color="#adc0f2"/><stop offset="0.8239" stop-color="#e4dddf"/><stop offset="0.8271" stop-color="#e5999e"/><stop offset="0.8302" stop-color="#e18890"/><stop offset="0.8333" stop-color="#e0858d"/><stop offset="0.8365" stop-color="#e18890"/><stop offset="0.8396" stop-color="#e5999e"/><stop offset="0.8427" stop-color="#e4dddf"/><stop offset="0.8459" stop-color="#adc0f2"/><stop offset="0.8490" stop-color="#88a2ef"/><stop offset="0.8584" stop-color="#6982e5"/><stop offset="0.8678" stop-color="#5569db"/><stop offset="0.8929" stop-color="#4a5ad3"/><stop offset="0.9148" stop-color="#5569dc"/><stop offset="0.9273" stop-color="#748eea"/><stop offset="0.9336" stop-color="#8ca6f0"/><stop offset="0.9367" stop-color="#b9c9f2"/><stop offset="0.9398" stop-color="#e6cdcf"/><stop offset="0.9430" stop-color="#e39197"/><stop offset="0.9461" stop-color="#e1878f"/><stop offset="0.9492" stop-color="#e0858d"/><stop offset="0.9524" stop-color="#e18a91"/><stop offset="0.9555" stop-color="#e7a4a7"/><stop offset="0.9586" stop-color="#dadae5"/><stop offset="0.9618" stop-color="#a2b8f3"/><stop offset="0.9649" stop-color="#86a0ef"/><stop offset="0.9743" stop-color="#6780e5"/><stop offset="0.9806" stop-color="#586ddd"/><stop offset="0.9994" stop-color="#4c5dd5"/></linearGradient>
<linearGradient id="hr10" x1="0" x2="1" y1="0" y2="0"><stop offset="0.0000" stop-color="#5467da"/><stop offset="0.0094" stop-color="#708ae9"/><stop offset="0.0125" stop-color="#728ce9"/><stop offset="0.0219" stop-color="#677fe4"/><stop offset="0.0282" stop-color="#6c85e7"/><stop offset="0.0376" stop-color="#89a3ef"/><stop offset="0.0407" stop-color="#bacaf2"/><stop offset="0.0439" stop-color="#e9adae"/><stop offset="0.0470" stop-color="#c93d4a"/><stop offset="0.0501" stop-color="#c22c3b"/><stop offset="0.0564" stop-color="#c22c3b"/><stop offset="0.0595" stop-color="#c93d4a"/><stop offset="0.0627" stop-color="#e9adae"/><stop offset="0.0658" stop-color="#bacaf2"/><stop offset="0.0689" stop-color="#89a3ef"/><stop offset="0.0783" stop-color="#6982e5"/><stop offset="0.0877" stop-color="#5569db"/><stop offset="0.1159" stop-color="#4959d3"/><stop offset="0.1410" stop-color="#566adc"/><stop offset="0.1535" stop-color="#7690ea"/><stop offset="0.1598" stop-color="#91abf2"/><stop offset="0.1629" stop-color="#c7d2f0"/><stop offset="0.1660" stop-color="#e9b8b8"/><stop offset="0.1692" stop-color="#e0828b"/><stop offset="0.1723" stop-color="#de7b85"/><stop offset="0.1754" stop-color="#de7b84"/><stop offset="0.1786" stop-color="#df8089"/><stop offset="0.1817" stop-color="#e8a8aa"/><stop offset="0.1848" stop-color="#d3d7ea"/><stop offset="0.1880" stop-color="#98b2f3"/><stop offset="0.1911" stop-color="#849eee"/><stop offset="0.2005" stop-color="#667ee4"/><stop offset="0.2068" stop-color="#576bdc"/><stop offset="0.2350" stop-color="#4858d2"/><stop offset="0.2600" stop-color="#5568db"/><stop offset="0.2663" stop-color="#6076e1"/><stop offset="0.2757" stop-color="#7b95ec"/><stop offset="0.2788" stop-color="#86a0ef"/><stop offset="0.2820" stop-color="#a2b8f3"/><stop offset="0.2851" stop-color="#dadae5"/><stop offset="0.2882" stop-color="#e7a4a7"/><stop offset="0.2914" stop-color="#e18a91"/><stop offset="0.2945" stop-color="#e0858d"/><stop offset="0.2976" stop-color="#e1878f"/><stop offset="0.3008" stop-color="#e39197"/><stop offset="0.3039" stop-color="#e6cdcf"/><stop offset="0.3070" stop-color="#b9c9f2"/><stop offset="0.3102" stop-color="#8ca6f0"/><stop offset="0.3195" stop-color="#6a84e6"/><stop offset="0.3289" stop-color="#5569dc"/><stop offset="0.3571" stop-color="#4858d2"/><stop offset="0.3822" stop-color="#5265d9"/><stop offset="0.3885" stop-color="#5a6fde"/><stop offset="0.4010" stop-color="#7f99ed"/><stop offset="0.4041" stop-color="#96b0f3"/><stop offset="0.4073" stop-color="#c2d0f2"/><stop offset="0.4104" stop-color="#dbdae5"/><stop offset="0.4167" stop-color="#dddbe4"/><stop offset="0.4198" stop-color="#cfd5eb"/><stop offset="0.4229" stop-color="#a8bdf3"/><stop offset="0.4261" stop-color="#87a1ef"/><stop offset="0.4323" stop-color="#6d87e8"/><stop offset="0.4417" stop-color="#566adc"/><stop offset="0.4637" stop-color="#4a5bd4"/><stop offset="0.4731" stop-color="#5366da"/><stop offset="0.4762" stop-color="#5a6fde"/><stop offset="0.4793" stop-color="#6a83e6"/><stop offset="0.4856" stop-color="#96b0f3"/><stop offset="0.4887" stop-color="#a9bef3"/><stop offset="0.4919" stop-color="#b0c2f2"/><stop offset="0.4950" stop-color="#aabef3"/><stop offset="0.4981" stop-color="#96b0f3"/><stop offset="0.5044" stop-color="#6c86e7"/><stop offset="0.5075" stop-color="#7a94eb"/><stop offset="0.5138" stop-color="#a5baf3"/><stop offset="0.5169" stop-color="#afc2f2"/><stop offset="0.5201" stop-color="#aec1f2"/><stop offset="0.5232" stop-color="#a1b8f3"/><stop offset="0.5326" stop-color="#677fe4"/><stop offset="0.5357" stop-color="#5b70df"/><stop offset="0.5420" stop-color="#5265d9"/><stop offset="0.5576" stop-color="#4c5ed5"/><stop offset="0.5764" stop-color="#5568db"/><stop offset="0.5827" stop-color="#647be3"/><stop offset="0.5858" stop-color="#6e88e8"/><stop offset="0.5921" stop-color="#94aef2"/><stop offset="0.5952" stop-color="#adc0f2"/><stop offset="0.5984" stop-color="#bacaf2"/><stop offset="0.6015" stop-color="#bccbf2"/><stop offset="0.6046" stop-color="#b6c7f2"/><stop offset="0.6078" stop-color="#a3b9f3"/><stop offset="0.6140" stop-color="#7690ea"/><stop offset="0.6203" stop-color="#5c72df"/><stop offset="0.6266" stop-color="#5265d9"/><stop offset="0.6454" stop-color="#4c5ed5"/><stop offset="0.6798" stop-color="#5468db"/><stop offset="0.6861" stop-color="#5c72df"/><stop offset="0.6955" stop-color="#748eea"/><stop offset="0.7049" stop-color="#99b2f3"/><stop offset="0.7080" stop-color="#aec1f2"/><stop offset="0.7112" stop-color="#bdccf2"/><stop offset="0.7174" stop-color="#c3d0f2"/><stop offset="0.7237" stop-color="#b8c8f2"/><stop offset="0.7299" stop-color="#92acf2"/><stop offset="0.7425" stop-color="#6780e5"/><stop offset="0.7487" stop-color="#586ddd"/><stop offset="0.7738" stop-color="#495ad3"/><stop offset="0.7989" stop-color="#5569db"/><stop offset="0.8114" stop-color="#728ce9"/><stop offset="0.8177" stop-color="#88a2ef"/><stop offset="0.8208" stop-color="#a1b8f3"/><stop offset="0.8239" stop-color="#cbd3ee"/><stop offset="0.8271" stop-color="#e5dadc"/><stop offset="0.8302" stop-color="#e6cfd0"/><stop offset="0.8365" stop-color="#e6cfd0"/><stop offset="0.8396" stop-color="#e5dadc"/><stop offset="0.8427" stop-color="#cbd3ee"/><stop offset="0.8459" stop-color="#a1b8f3"/><stop offset="0.8490" stop-color="#88a2ef"/><stop offset="0.8615" stop-color="#6178e2"/><stop offset="0.8678" stop-color="#5569db"/><stop offset="0.8929" stop-color="#4a5ad3"/><stop offset="0.9148" stop-color="#5569dc"/><stop offset="0.9273" stop-color="#748eea"/><stop offset="0.9336" stop-color="#8ba5f0"/><stop offset="0.9367" stop-color="#aabef3"/><stop offset="0.9398" stop-color="#d2d6ea"/><stop offset="0.9430" stop-color="#e5d5d7"/><stop offset="0.9461" stop-color="#e6cecf"/><stop offset="0.9524" stop-color="#e6d0d1"/><stop offset="0.9555" stop-color="#e3dde1"/><stop offset="0.9586" stop-color="#c4d0f1"/><stop offset="0.9618" stop-color="#99b2f3"/><stop offset="0.9649" stop-color="#86a0ef"/><stop offset="0.9743" stop-color="#6780e5"/><stop offset="0.9806" stop-color="#586ddd"/><stop offset="0.9994" stop-color="#4c5dd5"/></linearGradient>
<linearGradient id="hr11" x1="0" x2="1" y1="0" y2="0"><stop offset="0.0000" stop-color="#5467da"/><stop offset="0.0094" stop-color="#708ae9"/><stop offset="0.0125" stop-color="#728ce9"/><stop offset="0.0219" stop-color="#677fe4"/><stop offset="0.0282" stop-color="#6c85e7"/><stop offset="0.0376" stop-color="#88a2ef"/><stop offset="0.0407" stop-color="#adc0f2"/><stop offset="0.0439" stop-color="#e4dddf"/><stop offset="0.0470" stop-color="#e5999e"/><stop offset="0.0501" stop-color="#e18890"/><stop offset="0.0533" stop-color="#e0858d"/><stop offset="0.0564" stop-color="#e18890"/><stop offset="0.0595" stop-color="#e5999e"/><stop offset="0.0627" stop-color="#e4dddf"/><stop offset="0.0658" stop-color="#adc0f2"/><stop offset="0.0689" stop-color="#88a2ef"/><stop offset="0.0783" stop-color="#6982e5"/><stop offset="0.0877" stop-color="#5569db"/><stop offset="0.1159" stop-color="#4959d3"/><stop offset="0.1410" stop-color="#566adc"/><stop offset="0.1535" stop-color="#7690ea"/><stop offset="0.1598" stop-color="#90aaf1"/><stop offset="0.1629" stop-color="#c0cef2"/><stop offset="0.1660" stop-color="#e6cdce"/><stop offset="0.1692" stop-color="#e7a4a6"/><stop offset="0.1723" stop-color="#e59da1"/><stop offset="0.1754" stop-color="#e59ca0"/><stop offset="0.1786" stop-color="#e7a2a5"/><stop offset="0.1817" stop-color="#e8c1c2"/><stop offset="0.1848" stop-color="#cad3ee"/><stop offset="0.1880" stop-color="#96b0f3"/><stop offset="0.1911" stop-color="#849eee"/><stop offset="0.2005" stop-color="#667ee4"/><stop offset="0.2068" stop-color="#576bdc"/><stop offset="0.2350" stop-color="#4858d2"/><stop offset="0.2600" stop-color="#5568db"/><stop offset="0.2663" stop-color="#6076e1"/><stop offset="0.2757" stop-color="#7b95ec"/><stop offset="0.2788" stop-color="#86a0ef"/><stop offset="0.2820" stop-color="#9eb6f3"/><stop offset="0.2851" stop-color="#d1d6ea"/><stop offset="0.2882" stop-color="#e8c0c0"/><stop offset="0.2914" stop-color="#e9abad"/><stop offset="0.2945" stop-color="#e8a7a9"/><stop offset="0.2976" stop-color="#e8a9aa"/><stop offset="0.3008" stop-color="#eab2b2"/><stop offset="0.3039" stop-color="#e2dde1"/><stop offset="0.3070" stop-color="#b3c4f2"/><stop offset="0.3102" stop-color="#8ca6f0"/><stop offset="0.3195" stop-color="#6a84e6"/><stop offset="0.3289" stop-color="#5569dc"/><stop offset="0.3571" stop-color="#4858d2"/><stop offset="0.3822" stop-color="#5265d9"/><stop offset="0.3885" stop-color="#5a6fde"/><stop offset="0.4010" stop-color="#7f99ed"/><stop offset="0.4041" stop-color="#94aef2"/><stop offset="0.4073" stop-color="#b9c9f2"/><stop offset="0.4104" stop-color="#d0d6eb"/><stop offset="0.4167" stop-color="#d2d6ea"/><stop offset="0.4198" stop-color="#c6d1f1"/><stop offset="0.4229" stop-color="#a2b9f3"/><stop offset="0.4261" stop-color="#86a0ef"/><stop offset="0.4323" stop-color="#6d87e8"/><stop offset="0.4417" stop-color="#566adc"/><stop offset="0.4637" stop-color="#4a5bd4"/><stop offset="0.4731" stop-color="#5366da"/><stop offset="0.4762" stop-color="#5a6fde"/><stop offset="0.4793" stop-color="#6a83e6"/><stop offset="0.4856" stop-color="#96b0f3"/><stop offset="0.4887" stop-color="#a9bef3"/><stop offset="0.4919" stop-color="#b0c2f2"/><stop offset="0.4950" stop-color="#aabef3"/><stop offset="0.4981" stop-color="#96b0f3"/><stop offset="0.5044" stop-color="#6c86e7"/><stop offset="0.5075" stop-color="#7a94eb"/><stop offset="0.5138" stop-color="#a5baf3"/><stop offset="0.5169" stop-color="#afc2f2"/><stop offset="0.5201" stop-color="#aec1f2"/><stop offset="0.5232" stop-color="#a1b8f3"/><stop offset="0.5326" stop-color="#677fe4"/><stop offset="0.5357" stop-color="#5b70df"/><stop offset="0.5420" stop-color="#5265d9"/><stop offset="0.5576" stop-color="#4c5ed5"/><stop offset="0.5764" stop-color="#5568db"/><stop offset="0.5827" stop-color="#647be3"/><stop offset="0.5858" stop-color="#6e88e8"/><stop offset="0.5921" stop-color="#94aef2"/><stop offset="0.5952" stop-color="#adc0f2"/><stop offset="0.5984" stop-color="#bacaf2"/><stop offset="0.6015" stop-color="#bccbf2"/><stop offset="0.6046" stop-color="#b6c7f2"/><stop offset="0.6078" stop-color="#a3b9f3"/><stop offset="0.6140" stop-color="#7690ea"/><stop offset="0.6203" stop-color="#5c72df"/><stop offset="0.6266" stop-color="#5265d9"/><stop offset="0.6454" stop-color="#4c5ed5"/><stop offset="0.6798" stop-color="#5468db"/><stop offset="0.6861" stop-color="#5c72df"/><stop offset="0.6955" stop-color="#748eea"/><stop offset="0.7049" stop-color="#99b2f3"/><stop offset="0.7080" stop-color="#aec1f2"/><stop offset="0.7112" stop-color="#bdccf2"/><stop offset="0.7174" stop-color="#c3d0f2"/><stop offset="0.7237" stop-color="#b8c8f2"/><stop offset="0.7299" stop-color="#92acf2"/><stop offset="0.7425" stop-color="#6780e5"/><stop offset="0.7487" stop-color="#586ddd"/><stop offset="0.7738" stop-color="#495ad3"/><stop offset="0.7989" stop-color="#5569db"/><stop offset="0.8114" stop-color="#728ce9"/><stop offset="0.8177" stop-color="#88a2ef"/><stop offset="0.8208" stop-color="#9bb3f3"/><stop offset="0.8239" stop-color="#bbcbf2"/><stop offset="0.8271" stop-color="#d1d6ea"/><stop offset="0.8333" stop-color="#d9d9e6"/><stop offset="0.8396" stop-color="#d1d6ea"/><stop offset="0.8427" stop-color="#bbcbf2"/><stop offset="0.8459" stop-color="#9bb3f3"/><stop offset="0.8490" stop-color="#88a2ef"/><stop offset="0.8615" stop-color="#6178e2"/><stop offset="0.8678" stop-color="#5569db"/><stop offset="0.8929" stop-color="#4a5ad3"/><stop offset="0.9148" stop-color="#5569dc"/><stop offset="0.9273" stop-color="#748eea"/><stop offset="0.9336" stop-color="#8ba5f0"/><stop offset="0.9367" stop-color="#a6bbf3"/><stop offset="0.9398" stop-color="#cad3ee"/><stop offset="0.9430" stop-color="#dfdce3"/><stop offset="0.9492" stop-color="#e4dee0"/><stop offset="0.9524" stop-color="#e2dde1"/><stop offset="0.9555" stop-color="#d8d9e6"/><stop offset="0.9586" stop-color="#bdcbf2"/><stop offset="0.9618" stop-color="#97b1f3"/><stop offset="0.9649" stop-color="#86a0ef"/><stop offset="0.9743" stop-color="#6780e5"/><stop offset="0.9806" stop-color="#586ddd"/><stop offset="0.9994" stop-color="#4c5dd5"/></linearGradient>
<linearGradient id="hr12" x1="0" x2="1" y1="0" y2="0"><stop offset="0.0000" stop-color="#5467da"/><stop offset="0.0094" stop-color="#708ae9"/><stop offset="0.0125" stop-color="#728ce9"/><stop offset="0.0219" stop-color="#677fe4"/><stop offset="0.0282" stop-color="#6c85e7"/><stop offset="0.0376" stop-color="#88a2ef"/><stop offset="0.0407" stop-color="#a6bcf3"/><stop offset="0.0439" stop-color="#d6d8e8"/><stop offset="0.0470" stop-color="#e8c0c1"/><stop offset="0.0501" stop-color="#eab4b5"/><stop offset="0.0564" stop-color="#eab4b5"/><stop offset="0.0595" stop-color="#e8c0c1"/><stop offset="0.0627" stop-color="#d6d8e8"/><stop offset="0.0658" stop-color="#a6bcf3"/><stop offset="0.0689" stop-color="#88a2ef"/><stop offset="0.0783" stop-color="#6982e5"/><stop offset="0.0877" stop-color="#5569db"/><stop offset="0.1159" stop-color="#4959d3"/><stop offset="0.1410" stop-color="#566adc"/><stop offset="0.1535" stop-color="#7690ea"/><stop offset="0.1598" stop-color="#90aaf1"/><stop offset="0.1629" stop-color="#b8c8f2"/><stop offset="0.1660" stop-color="#e1dde2"/><stop offset="0.1692" stop-color="#e8c1c2"/><stop offset="0.1754" stop-color="#e9bbbc"/><stop offset="0.1786" stop-color="#e8c0c0"/><stop offset="0.1817" stop-color="#e5d8da"/><stop offset="0.1848" stop-color="#c2cff2"/><stop offset="0.1880" stop-color="#94aef3"/><stop offset="0.1942" stop-color="#7993eb"/><stop offset="0.2068" stop-color="#576bdc"/><stop offset="0.2350" stop-color="#4858d2"/><stop offset="0.2600" stop-color="#5568db"/><stop offset="0.2663" stop-color="#6076e1"/><stop offset="0.2757" stop-color="#7b95ec"/><stop offset="0.2788" stop-color="#86a0ef"/><stop offset="0.2820" stop-color="#9bb3f3"/><stop offset="0.2851" stop-color="#c7d2f0"/><stop offset="0.2882" stop-color="#e5d8da"/><stop offset="0.2914" stop-color="#e7c7c8"/><stop offset="0.2976" stop-color="#e7c5c6"/><stop offset="0.3008" stop-color="#e6cdce"/><stop offset="0.3039" stop-color="#d6d8e8"/><stop offset="0.3070" stop-color="#acc0f3"/><stop offset="0.3102" stop-color="#8ba5f0"/><stop offset="0.3195" stop-color="#6a84e6"/><stop offset="0.3289" stop-color="#5569dc"/><stop offset="0.3571" stop-color="#4858d2"/><stop offset="0.3822" stop-color="#5265d9"/><stop offset="0.3885" stop-color="#5a6fde"/><stop offset="0.4010" stop-color="#7f99ed"/><stop offset="0.4041" stop-color="#92acf2"/><stop offset="0.4073" stop-color="#b5c6f2"/><stop offset="0.4104" stop-color="#cbd3ee"/><stop offset="0.4167" stop-color="#cdd4ed"/><stop offset="0.4198" stop-color="#c1cef2"/><stop offset="0.4229" stop-color="#9fb7f3"/><stop offset="0.4261" stop-color="#86a0ef"/><stop offset="0.4323" stop-color="#6d87e8"/><stop offset="0.4417" stop-color="#566adc"/><stop offset="0.4637" stop-color="#4a5bd4"/><stop offset="0.4731" stop-color="#5366da"/><stop offset="0.4762" stop-color="#5a6fde"/><stop offset="0.4793" stop-color="#6a83e6"/><stop offset="0.4856" stop-color="#96b0f3"/><stop offset="0.4887" stop-color="#a9bef3"/><stop offset="0.4919" stop-color="#b0c2f2"/><stop offset="0.4950" stop-color="#aabef3"/><stop offset="0.4981" stop-color="#96b0f3"/><stop offset="0.5044" stop-color="#6c86e7"/><stop offset="0.5075" stop-color="#7a94eb"/><stop offset="0.5138" stop-color="#a5baf3"/><stop offset="0.5169" stop-color="#afc2f2"/><stop offset="0.5201" stop-color="#aec1f2"/><stop offset="0.5232" stop-color="#a1b8f3"/><stop offset="0.5326" stop-color="#677fe4"/><stop offset="0.5357" stop-color="#5b70df"/><stop offset="0.5420" stop-color="#5265d9"/><stop offset="0.5576" stop-color="#4c5ed5"/><stop offset="0.5764" stop-color="#5568db"/><stop offset="0.5827" stop-color="#647be3"/><stop offset="0.5858" stop-color="#6e88e8"/><stop offset="0.5921" stop-color="#94aef2"/><stop offset="0.5952" stop-color="#adc0f2"/><stop offset="0.5984" stop-color="#bacaf2"/><stop offset="0.6015" stop-color="#bccbf2"/><stop offset="0.6046" stop-color="#b6c7f2"/><stop offset="0.6078" stop-color="#a3b9f3"/><stop offset="0.6140" stop-color="#7690ea"/><stop offset="0.6203" stop-color="#5c72df"/><stop offset="0.6266" stop-color="#5265d9"/><stop offset="0.6454" stop-color="#4c5ed5"/><stop offset="0.6798" stop-color="#5468db"/><stop offset="0.6861" stop-color="#5c72df"/><stop offset="0.6955" stop-color="#748eea"/><stop offset="0.7049" stop-color="#99b2f3"/><stop offset="0.7080" stop-color="#aec1f2"/><stop offset="0.7112" stop-color="#bdccf2"/><stop offset="0.7174" stop-color="#c3d0f2"/><stop offset="0.7237" stop-color="#b8c8f2"/><stop offset="0.7299" stop-color="#92acf2"/><stop offset="0.7425" stop-color="#6780e5"/><stop offset="0.7487" stop-color="#586ddd"/><stop offset="0.7738" stop-color="#495ad3"/><stop offset="0.7989" stop-color="#5569db"/><stop offset="0.8114" stop-color="#728ce9"/><stop offset="0.8177" stop-color="#88a2ef"/><stop offset="0.8208" stop-color="#9bb3f3"/><stop offset="0.8239" stop-color="#bbcbf2"/><stop offset="0.8271" stop-color="#d1d6ea"/><stop offset="0.8333" stop-color="#d9d9e6"/><stop offset="0.8396" stop-color="#d1d6ea"/><stop offset="0.8427" stop-color="#bbcbf2"/><stop offset="0.8459" stop-color="#9bb3f3"/><stop offset="0.8490" stop-color="#88a2ef"/><stop offset="0.8615" stop-color="#6178e2"/><stop offset="0.8678" stop-color="#5569db"/><stop offset="0.8929" stop-color="#4a5ad3"/><stop offset="0.9148" stop-color="#5569dc"/><stop offset="0.9273" stop-color="#748eea"/><stop offset="0.9336" stop-color="#8ba5f0"/><stop offset="0.9367" stop-color="#a6bbf3"/><stop offset="0.9398" stop-color="#cad3ee"/><stop offset="0.9430" stop-color="#dfdce3"/><stop offset="0.9492" stop-color="#e4dee0"/><stop offset="0.9524" stop-color="#e2dde1"/><stop offset="0.9555" stop-color="#d8d9e6"/><stop offset="0.9586" stop-color="#bdcbf2"/><stop offset="0.9618" stop-color="#97b1f3"/><stop offset="0.9649" stop-color="#86a0ef"/><stop offset="0.9743" stop-color="#6780e5"/><stop offset="0.9806" stop-color="#586ddd"/><stop offset="0.9994" stop-color="#4c5dd5"/></linearGradient>
<linearGradient id="hr13" x1="0" x2="1" y1="0" y2="0"><stop offset="0.0000" stop-color="#5467da"/><stop offset="0.0094" stop-color="#708ae9"/><stop offset="0.0125" stop-color="#728ce9"/><stop offset="0.0219" stop-color="#677fe4"/><stop offset="0.0282" stop-color="#6c85e7"/><stop offset="0.0376" stop-color="#88a2ef"/><stop offset="0.0407" stop-color="#a1b8f3"/><stop offset="0.0439" stop-color="#cbd3ee"/><stop offset="0.0470" stop-color="#e5dadc"/><stop offset="0.0501" stop-color="#e6cfd0"/><stop offset="0.0564" stop-color="#e6cfd0"/><stop offset="0.0595" stop-color="#e5dadc"/><stop offset="0.0627" stop-color="#cbd3ee"/><stop offset="0.0658" stop-color="#a1b8f3"/><stop offset="0.0689" stop-color="#88a2ef"/><stop offset="0.0815" stop-color="#6178e2"/><stop offset="0.0877" stop-color="#5569db"/><stop offset="0.1159" stop-color="#4959d3"/><stop offset="0.1410" stop-color="#566adc"/><stop offset="0.1535" stop-color="#7690ea"/><stop offset="0.1598" stop-color="#8fa9f1"/><stop offset="0.1629" stop-color="#b3c4f2"/><stop offset="0.1660" stop-color="#d8d9e6"/><stop offset="0.1692" stop-color="#e6d3d4"/><stop offset="0.1754" stop-color="#e6cdce"/><stop offset="0.1786" stop-color="#e6d1d3"/><stop offset="0.1817" stop-color="#dedbe3"/><stop offset="0.1848" stop-color="#bbcbf2"/><stop offset="0.1880" stop-color="#93adf2"/><stop offset="0.1942" stop-color="#7993eb"/><stop offset="0.2068" stop-color="#576bdc"/><stop offset="0.2350" stop-color="#4858d2"/><stop offset="0.2600" stop-color="#5568db"/><stop offset="0.2663" stop-color="#6076e1"/><stop offset="0.2757" stop-color="#7b95ec"/><stop offset="0.2788" stop-color="#86a0ef"/><stop offset="0.2820" stop-color="#98b1f3"/><stop offset="0.2851" stop-color="#c0cef2"/><stop offset="0.2882" stop-color="#dedbe4"/><stop offset="0.2914" stop-color="#e5d9db"/><stop offset="0.2976" stop-color="#e5d7d8"/><stop offset="0.3008" stop-color="#e4dee0"/><stop offset="0.3039" stop-color="#ced5ec"/><stop offset="0.3070" stop-color="#a8bdf3"/><stop offset="0.3102" stop-color="#8ba5f0"/><stop offset="0.3227" stop-color="#637ae2"/><stop offset="0.3289" stop-color="#5569dc"/><stop offset="0.3571" stop-color="#4858d2"/><stop offset="0.3822" stop-color="#5265d9"/><stop offset="0.3885" stop-color="#5a6fde"/><stop offset="0.4010" stop-color="#7f99ed"/><stop offset="0.4041" stop-color="#91abf2"/><stop offset="0.4073" stop-color="#b0c2f2"/><stop offset="0.4104" stop-color="#c5d1f1"/><stop offset="0.4167" stop-color="#c7d2f0"/><stop offset="0.4198" stop-color="#bbcaf2"/><stop offset="0.4229" stop-color="#9cb4f3"/><stop offset="0.4261" stop-color="#86a0ee"/><stop offset="0.4355" stop-color="#657de4"/><stop offset="0.4417" stop-color="#566adc"/><stop offset="0.4637" stop-color="#4a5bd4"/><stop offset="0.4731" stop-color="#5366da"/><stop offset="0.4762" stop-color="#5a6fde"/><stop offset="0.4793" stop-color="#6a83e6"/><stop offset="0.4856" stop-color="#96b0f3"/><stop offset="0.4887" stop-color="#a9bef3"/><stop offset="0.4919" stop-color="#b0c2f2"/><stop offset="0.4950" stop-color="#aabef3"/><stop offset="0.4981" stop-color="#96b0f3"/><stop offset="0.5044" stop-color="#6c86e7"/><stop offset="0.5075" stop-color="#7a94eb"/><stop offset="0.5138" stop-color="#a5baf3"/><stop offset="0.5169" stop-color="#afc2f2"/><stop offset="0.5201" stop-color="#aec1f2"/><stop offset="0.5232" stop-color="#a1b8f3"/><stop offset="0.5326" stop-color="#677fe4"/><stop offset="0.5357" stop-color="#5b70df"/><stop offset="0.5420" stop-color="#5265d9"/><stop offset="0.5576" stop-color="#4c5ed5"/><stop offset="0.5764" stop-color="#5568db"/><stop offset="0.5827" stop-color="#647be3"/><stop offset="0.5858" stop-color="#6e88e8"/><stop offset="0.5921" stop-color="#94aef2"/><stop offset="0.5952" stop-color="#adc0f2"/><stop offset="0.5984" stop-color="#bacaf2"/><stop offset="0.6015" stop-color="#bccbf2"/><stop offset="0.6046" stop-color="#b6c7f2"/><stop offset="0.6078" stop-color="#a3b9f3"/><stop offset="0.6140" stop-color="#7690ea"/><stop offset="0.6203" stop-color="#5c72df"/><stop offset="0.6266" stop-color="#5265d9"/><stop offset="0.6454" stop-color="#4c5ed5"/><stop offset="0.6798" stop-color="#5468db"/><stop offset="0.6861" stop-color="#5c72df"/><stop offset="0.6955" stop-color="#748eea"/><stop offset="0.7049" stop-color="#99b2f3"/><stop offset="0.7080" stop-color="#aec1f2"/><stop offset="0.7112" stop-color="#bdccf2"/><stop offset="0.7174" stop-color="#c3d0f2"/><stop offset="0.7237" stop-color="#b8c8f2"/><stop offset="0.7299" stop-color="#92acf2"/><stop offset="0.7425" stop-color="#6780e5"/><stop offset="0.7487" stop-color="#586ddd"/><stop offset="0.7738" stop-color="#495ad3"/><stop offset="0.7989" stop-color="#5569db"/><stop offset="0.8114" stop-color="#728ce9"/><stop offset="0.8177" stop-color="#88a2ef"/><stop offset="0.8208" stop-color="#9bb3f3"/><stop offset="0.8239" stop-color="#bbcbf2"/><stop offset="0.8271" stop-color="#d1d6ea"/><stop offset="0.8333" stop-color="#d9d9e6"/><stop offset="0.8396" stop-color="#d1d6ea"/><stop offset="0.8427" stop-color="#bbcbf2"/><stop offset="0.8459" stop-color="#9bb3f3"/><stop offset="0.8490" stop-color="#88a2ef"/><stop offset="0.8615" stop-color="#6178e2"/><stop offset="0.8678" stop-color="#5569db"/><stop offset="0.8929" stop-color="#4a5ad3"/><stop offset="0.9148" stop-color="#5569dc"/><stop offset="0.9273" stop-color="#748eea"/><stop offset="0.9336" stop-color="#8ba5f0"/><stop offset="0.9367" stop-color="#a6bbf3"/><stop offset="0.9398" stop-color="#cad3ee"/><stop offset="0.9430" stop-color="#dfdce3"/><stop offset="0.9492" stop-color="#e4dee0"/><stop offset="0.9524" stop-color="#e2dde1"/><stop offset="0.9555" stop-color="#d8d9e6"/><stop offset="0.9586" stop-color="#bdcbf2"/><stop offset="0.9618" stop-color="#97b1f3"/><stop offset="0.9649" stop-color="#86a0ef"/><stop offset="0.9743" stop-color="#6780e5"/><stop offset="0.9806" stop-color="#586ddd"/><stop offset="0.9994" stop-color="#4c5dd5"/></linearGradient>
<linearGradient id="cbar" x1="0" x2="0" y1="0" y2="1"><stop offset="0.000" stop-color="#b40e28"/><stop offset="0.060" stop-color="#c4303e"/><stop offset="0.120" stop-color="#de7a84"/><stop offset="0.170" stop-color="#eab2b2"/><stop offset="0.220" stop-color="#e4dee0"/><stop offset="0.280" stop-color="#c3d0f2"/><stop offset="0.350" stop-color="#96b0f3"/><stop offset="0.450" stop-color="#6e88e8"/><stop offset="0.550" stop-color="#566adc"/><stop offset="0.750" stop-color="#4858d2"/><stop offset="1.000" stop-color="#4150cd"/></linearGradient>
</defs>
<rect x="23.90" y="179.20" width="159.60" height="10.58" fill="url(#hr0)" stroke="none" stroke-width="1" />
<rect x="23.90" y="188.78" width="159.60" height="10.58" fill="url(#hr1)" stroke="none" stroke-width="1" />
<rect x="23.90" y="198.36" width="159.60" height="10.58" fill="url(#hr2)" stroke="none" stroke-width="1" />
<rect x="23.90" y="207.94" width="159.60" height="10.58" fill="url(#hr3)" stroke="none" stroke-width="1" />
<rect x="23.90" y="217.51" width="159.60" height="10.58" fill="url(#hr4)" stroke="none" stroke-width="1" />
<rect x="23.90" y="227.09" width="159.60" height="10.58" fill="url(#hr5)" stroke="none" stroke-width="1" />
<rect x="23.90" y="236.67" width="159.60" height="10.58" fill="url(#hr6)" stroke="none" stroke-width="1" />
<rect x="23.90" y="246.25" width="159.60" height="10.58" fill="url(#hr7)" stroke="none" stroke-width="1" />
<rect x="23.90" y="255.83" width="159.60" height="10.58" fill="url(#hr8)" stroke="none" stroke-width="1" />
<rect x="23.90" y="265.41" width="159.60" height="10.58" fill="url(#hr9)" stroke="none" stroke-width="1" />
<rect x="23.90" y="274.99" width="159.60" height="10.58" fill="url(#hr10)" stroke="none" stroke-width="1" />
<rect x="23.90" y="284.56" width="159.60" height="10.58" fill="url(#hr11)" stroke="none" stroke-width="1" />
<rect x="23.90" y="294.14" width="159.60" height="10.58" fill="url(#hr12)" stroke="none" stroke-width="1" />
<rect x="23.90" y="303.72" width="159.60" height="10.58" fill="url(#hr13)" stroke="none" stroke-width="1" />
<rect x="23.90" y="179.20" width="159.60" height="134.10" fill="none" stroke="#111" stroke-width="1" />
<line x1="21.50" y1="179.20" x2="23.90" y2="179.20" stroke="#111" stroke-width="1" />
<line x1="21.20" y1="313.30" x2="23.90" y2="313.30" stroke="#111" stroke-width="1" />
<line x1="21.80" y1="179.20" x2="23.90" y2="179.20" stroke="#111" stroke-width="1" />
<line x1="21.80" y1="198.36" x2="23.90" y2="198.36" stroke="#111" stroke-width="1" />
<line x1="21.80" y1="217.51" x2="23.90" y2="217.51" stroke="#111" stroke-width="1" />
<line x1="21.80" y1="236.67" x2="23.90" y2="236.67" stroke="#111" stroke-width="1" />
<line x1="21.80" y1="255.83" x2="23.90" y2="255.83" stroke="#111" stroke-width="1" />
<line x1="21.80" y1="274.99" x2="23.90" y2="274.99" stroke="#111" stroke-width="1" />
<line x1="21.80" y1="294.14" x2="23.90" y2="294.14" stroke="#111" stroke-width="1" />
<line x1="21.80" y1="313.30" x2="23.90" y2="313.30" stroke="#111" stroke-width="1" />
<line x1="24.50" y1="313.30" x2="24.50" y2="316.30" stroke="#111" stroke-width="1" />
<line x1="61.10" y1="313.30" x2="61.10" y2="316.30" stroke="#111" stroke-width="1" />
<line x1="97.80" y1="313.30" x2="97.80" y2="316.30" stroke="#111" stroke-width="1" />
<line x1="134.60" y1="313.30" x2="134.60" y2="316.30" stroke="#111" stroke-width="1" />
<line x1="171.40" y1="313.30" x2="171.40" y2="316.30" stroke="#111" stroke-width="1" />
<text x="20.20" y="187.20" font-size="10.5" text-anchor="end" fill="#000" >0</text>
<text x="20.20" y="222.20" font-size="10.5" text-anchor="end" fill="#000" >2</text>
<text x="20.20" y="260.80" font-size="10.5" text-anchor="end" fill="#000" >4</text>
<text x="20.20" y="299.20" font-size="10.5" text-anchor="end" fill="#000" >6</text>
<text x="24.40" y="325.80" font-size="10" text-anchor="middle" fill="#000" >0</text>
<text x="60.90" y="325.80" font-size="10" text-anchor="middle" fill="#000" >0.5</text>
<text x="97.80" y="325.80" font-size="10" text-anchor="middle" fill="#000" >1.0</text>
<text x="134.60" y="325.80" font-size="10" text-anchor="middle" fill="#000" >1.5</text>
<text x="171.60" y="325.80" font-size="10" text-anchor="middle" fill="#000" >2.0</text>
<text x="103.90" y="336.00" font-size="10.4" text-anchor="middle" fill="#000" >Length (nm)</text>
<text x="0.00" y="0.00" font-size="10.55" text-anchor="middle" fill="#000" transform="translate(9.6,246.3) rotate(-90)">Depth&#160;&#160;(nm)</text>
<rect x="186.10" y="179.10" width="4.80" height="133.50" fill="url(#cbar)" stroke="none" stroke-width="1" />
<text x="194.40" y="184.50" font-size="11" text-anchor="start" fill="#000" >1</text>
<text x="193.60" y="317.60" font-size="11" text-anchor="start" fill="#000" >0</text>
<text x="0.00" y="0.00" font-size="10.45" text-anchor="middle" fill="#000" transform="translate(200.4,245.9) rotate(-90)">Phase (normalized)</text>
<text x="0" y="0" font-size="8.1" text-anchor="start" fill="#000" font-weight="bold" transform="translate(9.80,170.20) scale(1,1.12)" >Col.</text>
<rect x="26.30" y="165.20" width="153.00" height="12.10" fill="none" stroke="#ff1a1a" stroke-width="1.1" stroke-dasharray="2.6,1.6"/>
<text x="0" y="0" font-size="9.2" text-anchor="middle" fill="#000" font-weight="bold" transform="translate(30.90,175.60) scale(1,1.1)" >1</text>
<text x="0" y="0" font-size="9.2" text-anchor="middle" fill="#000" font-weight="bold" transform="translate(49.60,175.60) scale(1,1.1)" >2</text>
<text x="0" y="0" font-size="9.2" text-anchor="middle" fill="#000" font-weight="bold" transform="translate(67.40,175.60) scale(1,1.1)" >3</text>
<text x="0" y="0" font-size="9.2" text-anchor="middle" fill="#000" font-weight="bold" transform="translate(85.40,175.60) scale(1,1.1)" >4</text>
<text x="0" y="0" font-size="9.2" text-anchor="middle" fill="#ff1a1a" font-weight="bold" transform="translate(103.40,175.60) scale(1,1.1)" >5</text>
<text x="0" y="0" font-size="9.2" text-anchor="middle" fill="#ff1a1a" font-weight="bold" transform="translate(122.00,175.60) scale(1,1.1)" >5′</text>
<text x="0" y="0" font-size="9.2" text-anchor="middle" fill="#000" font-weight="bold" transform="translate(138.90,175.60) scale(1,1.1)" >6</text>
<text x="0" y="0" font-size="9.2" text-anchor="middle" fill="#000" font-weight="bold" transform="translate(156.70,175.60) scale(1,1.1)" >7</text>
<text x="0" y="0" font-size="9.2" text-anchor="middle" fill="#000" font-weight="bold" transform="translate(174.40,175.60) scale(1,1.1)" >8</text>
<path d="M234.50,64.30L234.50,100.20L250.00,100.20L250.00,100.70L265.50,100.70L265.50,101.20L281.00,101.20L281.00,101.70L296.50,101.70L296.50,98.70L312.00,98.70L312.00,98.30L327.50,98.30L327.50,95.40L343.00,95.40L343.00,87.90L358.30,87.90L358.30,64.30Z" fill="#75e1f8"/>
<path d="M234.50,162.60L234.50,124.80L250.00,124.80L250.00,121.90L265.50,121.90L265.50,124.30L281.00,124.30L281.00,125.00L296.50,125.00L296.50,160.10L312.00,160.10L312.00,162.60Z" fill="#f26482"/>
<path d="M312.00,162.60L312.00,203.10L327.50,203.10L327.50,197.30L343.00,197.30L343.00,190.80L358.30,190.80L358.30,162.60Z" fill="#75e1f8"/>
<path d="M234.50,261.30L234.50,226.30L250.00,226.30L250.00,222.20L265.50,222.20L265.50,225.50L281.00,225.50L281.00,225.60L296.50,225.60L296.50,226.00L312.00,226.00L312.00,228.90L327.50,228.90L327.50,230.70L343.00,230.70L343.00,261.30Z" fill="#f26482"/>
<path d="M234.50,100.20H250.00V100.70H265.50V101.20H281.00V101.70H296.50V98.70H312.00V98.30H327.50V95.40H343.00V87.90H358.30" fill="none" stroke="#000" stroke-width="1.6"/>
<path d="M234.50,124.80H250.00V121.90H265.50V124.30H281.00V125.00H296.50V160.10H312.00V203.10H327.50V197.30H343.00V190.80H358.30" fill="none" stroke="#000" stroke-width="1.6"/>
<path d="M234.50,226.30H250.00V222.20H265.50V225.50H281.00V225.60H296.50V226.00H312.00V228.90H327.50V230.70H343.00" fill="none" stroke="#000" stroke-width="1.6"/>
<line x1="296.50" y1="113.70" x2="296.50" y2="211.50" stroke="#000" stroke-width="1.3" stroke-dasharray="4.6,2.8"/>
<line x1="312.00" y1="113.70" x2="312.00" y2="211.50" stroke="#000" stroke-width="1.3" stroke-dasharray="4.6,2.8"/>
<line x1="298.50" y1="174.10" x2="309.00" y2="174.10" stroke="#000" stroke-width="0.8" />
<path d="M297.2,174.1 L299.6,172.9 L299.6,175.3 Z M310.5,174.1 L308.1,172.9 L308.1,175.3 Z" fill="#000"/>
<path d="M246.80,62.55H243.50V59.75L236.20,65.20L243.50,70.65V67.85H246.80Z" fill="#55b8ea" stroke="#111" stroke-width="0.8" stroke-linejoin="miter"/>
<path d="M262.30,62.55H259.00V59.75L251.70,65.20L259.00,70.65V67.85H262.30Z" fill="#55b8ea" stroke="#111" stroke-width="0.8" stroke-linejoin="miter"/>
<path d="M277.80,62.55H274.50V59.75L267.20,65.20L274.50,70.65V67.85H277.80Z" fill="#55b8ea" stroke="#111" stroke-width="0.8" stroke-linejoin="miter"/>
<path d="M293.30,62.55H290.00V59.75L282.70,65.20L290.00,70.65V67.85H293.30Z" fill="#55b8ea" stroke="#111" stroke-width="0.8" stroke-linejoin="miter"/>
<path d="M308.80,62.55H305.50V59.75L298.20,65.20L305.50,70.65V67.85H308.80Z" fill="#55b8ea" stroke="#111" stroke-width="0.8" stroke-linejoin="miter"/>
<path d="M324.30,62.55H321.00V59.75L313.70,65.20L321.00,70.65V67.85H324.30Z" fill="#55b8ea" stroke="#111" stroke-width="0.8" stroke-linejoin="miter"/>
<path d="M339.80,62.55H336.50V59.75L329.20,65.20L336.50,70.65V67.85H339.80Z" fill="#55b8ea" stroke="#111" stroke-width="0.8" stroke-linejoin="miter"/>
<path d="M355.30,62.55H352.00V59.75L344.70,65.20L352.00,70.65V67.85H355.30Z" fill="#55b8ea" stroke="#111" stroke-width="0.8" stroke-linejoin="miter"/>
<path d="M236.15,159.65H239.55V157.25L246.85,162.60L239.55,167.95V165.55H236.15Z" fill="#ff2010" stroke="#111" stroke-width="0.8" stroke-linejoin="miter"/>
<path d="M251.65,159.65H255.05V157.25L262.35,162.60L255.05,167.95V165.55H251.65Z" fill="#ff2010" stroke="#111" stroke-width="0.8" stroke-linejoin="miter"/>
<path d="M267.15,159.65H270.55V157.25L277.85,162.60L270.55,167.95V165.55H267.15Z" fill="#ff2010" stroke="#111" stroke-width="0.8" stroke-linejoin="miter"/>
<path d="M282.65,159.65H286.05V157.25L293.35,162.60L286.05,167.95V165.55H282.65Z" fill="#ff2010" stroke="#111" stroke-width="0.8" stroke-linejoin="miter"/>
<path d="M324.30,160.55H321.00V157.75L313.70,163.20L321.00,168.65V165.85H324.30Z" fill="#55b8ea" stroke="#111" stroke-width="0.8" stroke-linejoin="miter"/>
<path d="M339.80,160.55H336.50V157.75L329.20,163.20L336.50,168.65V165.85H339.80Z" fill="#55b8ea" stroke="#111" stroke-width="0.8" stroke-linejoin="miter"/>
<path d="M355.30,160.55H352.00V157.75L344.70,163.20L352.00,168.65V165.85H355.30Z" fill="#55b8ea" stroke="#111" stroke-width="0.8" stroke-linejoin="miter"/>
<path d="M236.15,258.35H239.55V255.95L246.85,261.30L239.55,266.65V264.25H236.15Z" fill="#ff2010" stroke="#111" stroke-width="0.8" stroke-linejoin="miter"/>
<path d="M251.65,258.35H255.05V255.95L262.35,261.30L255.05,266.65V264.25H251.65Z" fill="#ff2010" stroke="#111" stroke-width="0.8" stroke-linejoin="miter"/>
<path d="M267.15,258.35H270.55V255.95L277.85,261.30L270.55,266.65V264.25H267.15Z" fill="#ff2010" stroke="#111" stroke-width="0.8" stroke-linejoin="miter"/>
<path d="M282.65,258.35H286.05V255.95L293.35,261.30L286.05,266.65V264.25H282.65Z" fill="#ff2010" stroke="#111" stroke-width="0.8" stroke-linejoin="miter"/>
<path d="M298.15,258.35H301.55V255.95L308.85,261.30L301.55,266.65V264.25H298.15Z" fill="#ff2010" stroke="#111" stroke-width="0.8" stroke-linejoin="miter"/>
<path d="M313.65,258.35H317.05V255.95L324.35,261.30L317.05,266.65V264.25H313.65Z" fill="#ff2010" stroke="#111" stroke-width="0.8" stroke-linejoin="miter"/>
<path d="M329.15,258.35H332.55V255.95L339.85,261.30L332.55,266.65V264.25H329.15Z" fill="#ff2010" stroke="#111" stroke-width="0.8" stroke-linejoin="miter"/>
<g transform="translate(303.4,162.4)"><path d="M-3,-3L3,3M3,-3L-3,3" stroke="#3a5aa0" stroke-width="2.6" stroke-linecap="round"/><path d="M-3,-3L3,3M3,-3L-3,3" stroke="#e8f0ff" stroke-width="1.3" stroke-linecap="round"/></g>
<rect x="234.50" y="14.50" width="123.80" height="296.20" fill="none" stroke="#8a8a8a" stroke-width="1" />
<line x1="234.50" y1="113.20" x2="358.30" y2="113.20" stroke="#8a8a8a" stroke-width="1" />
<line x1="234.50" y1="212.00" x2="358.30" y2="212.00" stroke="#8a8a8a" stroke-width="1" />
<line x1="232.70" y1="39.80" x2="234.50" y2="39.80" stroke="#8a8a8a" stroke-width="1" />
<text x="230.30" y="44.30" font-size="10" text-anchor="end" fill="#000" >40</text>
<line x1="232.70" y1="64.30" x2="234.50" y2="64.30" stroke="#8a8a8a" stroke-width="1" />
<text x="230.30" y="68.80" font-size="10" text-anchor="end" fill="#000" >0</text>
<line x1="232.70" y1="88.80" x2="234.50" y2="88.80" stroke="#8a8a8a" stroke-width="1" />
<text x="230.30" y="93.30" font-size="10" text-anchor="end" fill="#000" >-40</text>
<line x1="232.70" y1="15.10" x2="234.50" y2="15.10" stroke="#8a8a8a" stroke-width="1" />
<line x1="232.70" y1="113.50" x2="234.50" y2="113.50" stroke="#8a8a8a" stroke-width="1" />
<line x1="232.70" y1="138.10" x2="234.50" y2="138.10" stroke="#8a8a8a" stroke-width="1" />
<text x="230.30" y="142.60" font-size="10" text-anchor="end" fill="#000" >40</text>
<line x1="232.70" y1="162.60" x2="234.50" y2="162.60" stroke="#8a8a8a" stroke-width="1" />
<text x="230.30" y="167.10" font-size="10" text-anchor="end" fill="#000" >0</text>
<line x1="232.70" y1="187.10" x2="234.50" y2="187.10" stroke="#8a8a8a" stroke-width="1" />
<text x="230.30" y="191.60" font-size="10" text-anchor="end" fill="#000" >-40</text>
<line x1="232.70" y1="113.40" x2="234.50" y2="113.40" stroke="#8a8a8a" stroke-width="1" />
<line x1="232.70" y1="211.80" x2="234.50" y2="211.80" stroke="#8a8a8a" stroke-width="1" />
<line x1="232.70" y1="236.80" x2="234.50" y2="236.80" stroke="#8a8a8a" stroke-width="1" />
<text x="230.30" y="241.30" font-size="10" text-anchor="end" fill="#000" >40</text>
<line x1="232.70" y1="261.30" x2="234.50" y2="261.30" stroke="#8a8a8a" stroke-width="1" />
<text x="230.30" y="265.80" font-size="10" text-anchor="end" fill="#000" >0</text>
<line x1="232.70" y1="285.80" x2="234.50" y2="285.80" stroke="#8a8a8a" stroke-width="1" />
<text x="230.30" y="290.30" font-size="10" text-anchor="end" fill="#000" >-40</text>
<line x1="232.70" y1="212.10" x2="234.50" y2="212.10" stroke="#8a8a8a" stroke-width="1" />
<line x1="232.70" y1="310.50" x2="234.50" y2="310.50" stroke="#8a8a8a" stroke-width="1" />
<line x1="250.00" y1="310.70" x2="250.00" y2="312.50" stroke="#8a8a8a" stroke-width="1" />
<line x1="265.50" y1="310.70" x2="265.50" y2="312.50" stroke="#8a8a8a" stroke-width="1" />
<line x1="281.00" y1="310.70" x2="281.00" y2="312.50" stroke="#8a8a8a" stroke-width="1" />
<line x1="296.50" y1="310.70" x2="296.50" y2="312.50" stroke="#8a8a8a" stroke-width="1" />
<line x1="312.00" y1="310.70" x2="312.00" y2="312.50" stroke="#8a8a8a" stroke-width="1" />
<line x1="327.50" y1="310.70" x2="327.50" y2="312.50" stroke="#8a8a8a" stroke-width="1" />
<line x1="343.00" y1="310.70" x2="343.00" y2="312.50" stroke="#8a8a8a" stroke-width="1" />
<text x="241.70" y="324.30" font-size="10" text-anchor="middle" fill="#000" >1</text>
<text x="257.03" y="324.30" font-size="10" text-anchor="middle" fill="#000" >2</text>
<text x="272.36" y="324.30" font-size="10" text-anchor="middle" fill="#000" >3</text>
<text x="287.69" y="324.30" font-size="10" text-anchor="middle" fill="#000" >4</text>
<text x="303.02" y="324.30" font-size="10" text-anchor="middle" fill="#000" >5</text>
<text x="318.35" y="324.30" font-size="10" text-anchor="middle" fill="#000" >6</text>
<text x="333.68" y="324.30" font-size="10" text-anchor="middle" fill="#000" >7</text>
<text x="349.01" y="324.30" font-size="10" text-anchor="middle" fill="#000" >8</text>
<text x="295.10" y="337.00" font-size="10.2" text-anchor="middle" fill="#000" >Unit cell index</text>
<text x="0.00" y="0.00" font-size="10.45" text-anchor="middle" fill="#000" transform="translate(210.6,130.5) rotate(-90)">Displacement (pm)</text>
<text x="0" y="0" font-size="8.8" text-anchor="end" fill="#111" transform="translate(348.50,28.00) scale(1,1.08)" >Layer_1</text>
<text x="0" y="0" font-size="8.8" text-anchor="end" fill="#ff2020" transform="translate(348.50,127.30) scale(1,1.08)" >Layer_2</text>
<text x="0" y="0" font-size="8.8" text-anchor="end" fill="#ecbe36" transform="translate(348.50,222.70) scale(1,1.08)" >Layer_3</text>
<line x1="393.00" y1="43.30" x2="515.60" y2="43.30" stroke="#d0d0d0" stroke-width="0.8" stroke-dasharray="3,2.2"/>
<line x1="393.00" y1="141.80" x2="515.60" y2="141.80" stroke="#d0d0d0" stroke-width="0.8" stroke-dasharray="3,2.2"/>
<line x1="393.00" y1="240.40" x2="515.60" y2="240.40" stroke="#d0d0d0" stroke-width="0.8" stroke-dasharray="3,2.2"/>
<path d="M400.00,32.60L415.90,35.10L430.80,33.60L446.40,39.30L461.90,38.60L477.20,41.40L492.70,40.70L508.30,53.80" fill="none" stroke="#555" stroke-width="0.8" stroke-dasharray="2.2,1.6"/>
<line x1="400.00" y1="27.30" x2="400.00" y2="37.50" stroke="#444" stroke-width="0.9" />
<line x1="397.90" y1="27.30" x2="402.10" y2="27.30" stroke="#444" stroke-width="0.9" />
<line x1="397.90" y1="37.50" x2="402.10" y2="37.50" stroke="#444" stroke-width="0.9" />
<circle cx="400.00" cy="32.60" r="1.35" fill="#111"/>
<line x1="415.90" y1="30.80" x2="415.90" y2="40.00" stroke="#444" stroke-width="0.9" />
<line x1="413.80" y1="30.80" x2="418.00" y2="30.80" stroke="#444" stroke-width="0.9" />
<line x1="413.80" y1="40.00" x2="418.00" y2="40.00" stroke="#444" stroke-width="0.9" />
<circle cx="415.90" cy="35.10" r="1.35" fill="#111"/>
<line x1="430.80" y1="28.70" x2="430.80" y2="37.50" stroke="#444" stroke-width="0.9" />
<line x1="428.70" y1="28.70" x2="432.90" y2="28.70" stroke="#444" stroke-width="0.9" />
<line x1="428.70" y1="37.50" x2="432.90" y2="37.50" stroke="#444" stroke-width="0.9" />
<circle cx="430.80" cy="33.60" r="1.35" fill="#111"/>
<line x1="446.40" y1="35.80" x2="446.40" y2="42.50" stroke="#444" stroke-width="0.9" />
<line x1="444.30" y1="35.80" x2="448.50" y2="35.80" stroke="#444" stroke-width="0.9" />
<line x1="444.30" y1="42.50" x2="448.50" y2="42.50" stroke="#444" stroke-width="0.9" />
<circle cx="446.40" cy="39.30" r="1.35" fill="#111"/>
<line x1="461.90" y1="35.80" x2="461.90" y2="41.40" stroke="#444" stroke-width="0.9" />
<line x1="459.80" y1="35.80" x2="464.00" y2="35.80" stroke="#444" stroke-width="0.9" />
<line x1="459.80" y1="41.40" x2="464.00" y2="41.40" stroke="#444" stroke-width="0.9" />
<circle cx="461.90" cy="38.60" r="1.35" fill="#111"/>
<line x1="477.20" y1="34.70" x2="477.20" y2="48.20" stroke="#444" stroke-width="0.9" />
<line x1="475.10" y1="34.70" x2="479.30" y2="34.70" stroke="#444" stroke-width="0.9" />
<line x1="475.10" y1="48.20" x2="479.30" y2="48.20" stroke="#444" stroke-width="0.9" />
<circle cx="477.20" cy="41.40" r="1.35" fill="#111"/>
<line x1="492.70" y1="33.60" x2="492.70" y2="47.80" stroke="#444" stroke-width="0.9" />
<line x1="490.60" y1="33.60" x2="494.80" y2="33.60" stroke="#444" stroke-width="0.9" />
<line x1="490.60" y1="47.80" x2="494.80" y2="47.80" stroke="#444" stroke-width="0.9" />
<circle cx="492.70" cy="40.70" r="1.35" fill="#111"/>
<line x1="508.30" y1="47.50" x2="508.30" y2="60.20" stroke="#444" stroke-width="0.9" />
<line x1="506.20" y1="47.50" x2="510.40" y2="47.50" stroke="#444" stroke-width="0.9" />
<line x1="506.20" y1="60.20" x2="510.40" y2="60.20" stroke="#444" stroke-width="0.9" />
<circle cx="508.30" cy="53.80" r="1.35" fill="#111"/>
<path d="M400.00,143.60L415.60,137.20L430.80,139.70L446.40,158.70L458.10,167.90L465.70,169.10L477.30,158.70L493.10,151.30L508.30,154.20" fill="none" stroke="#e06068" stroke-width="0.8" stroke-dasharray="2.2,1.6"/>
<line x1="400.00" y1="140.00" x2="400.00" y2="146.70" stroke="#d8424a" stroke-width="0.9" />
<line x1="397.90" y1="140.00" x2="402.10" y2="140.00" stroke="#d8424a" stroke-width="0.9" />
<line x1="397.90" y1="146.70" x2="402.10" y2="146.70" stroke="#d8424a" stroke-width="0.9" />
<polygon points="400.00,141.30 400.61,142.76 402.19,142.89 400.98,143.92 401.35,145.46 400.00,144.63 398.65,145.46 399.02,143.92 397.81,142.89 399.39,142.76" fill="#d8424a"/>
<line x1="415.60" y1="131.90" x2="415.60" y2="141.80" stroke="#d8424a" stroke-width="0.9" />
<line x1="413.50" y1="131.90" x2="417.70" y2="131.90" stroke="#d8424a" stroke-width="0.9" />
<line x1="413.50" y1="141.80" x2="417.70" y2="141.80" stroke="#d8424a" stroke-width="0.9" />
<polygon points="415.60,134.90 416.21,136.36 417.79,136.49 416.58,137.52 416.95,139.06 415.60,138.23 414.25,139.06 414.62,137.52 413.41,136.49 414.99,136.36" fill="#d8424a"/>
<line x1="430.80" y1="134.30" x2="430.80" y2="145.30" stroke="#d8424a" stroke-width="0.9" />
<line x1="428.70" y1="134.30" x2="432.90" y2="134.30" stroke="#d8424a" stroke-width="0.9" />
<line x1="428.70" y1="145.30" x2="432.90" y2="145.30" stroke="#d8424a" stroke-width="0.9" />
<polygon points="430.80,137.40 431.41,138.86 432.99,138.99 431.78,140.02 432.15,141.56 430.80,140.73 429.45,141.56 429.82,140.02 428.61,138.99 430.19,138.86" fill="#d8424a"/>
<line x1="446.40" y1="152.30" x2="446.40" y2="164.60" stroke="#d8424a" stroke-width="0.9" />
<line x1="444.30" y1="152.30" x2="448.50" y2="152.30" stroke="#d8424a" stroke-width="0.9" />
<line x1="444.30" y1="164.60" x2="448.50" y2="164.60" stroke="#d8424a" stroke-width="0.9" />
<polygon points="446.40,156.40 447.01,157.86 448.59,157.99 447.38,159.02 447.75,160.56 446.40,159.73 445.05,160.56 445.42,159.02 444.21,157.99 445.79,157.86" fill="#d8424a"/>
<line x1="458.10" y1="161.20" x2="458.10" y2="173.90" stroke="#d8424a" stroke-width="0.9" />
<line x1="456.00" y1="161.20" x2="460.20" y2="161.20" stroke="#d8424a" stroke-width="0.9" />
<line x1="456.00" y1="173.90" x2="460.20" y2="173.90" stroke="#d8424a" stroke-width="0.9" />
<polygon points="458.10,165.60 458.71,167.06 460.29,167.19 459.08,168.22 459.45,169.76 458.10,168.94 456.75,169.76 457.12,168.22 455.91,167.19 457.49,167.06" fill="#d8424a"/>
<line x1="465.70" y1="155.00" x2="465.70" y2="182.90" stroke="#d8424a" stroke-width="0.9" />
<line x1="463.60" y1="155.00" x2="467.80" y2="155.00" stroke="#d8424a" stroke-width="0.9" />
<line x1="463.60" y1="182.90" x2="467.80" y2="182.90" stroke="#d8424a" stroke-width="0.9" />
<polygon points="465.70,166.80 466.31,168.26 467.89,168.39 466.68,169.42 467.05,170.96 465.70,170.13 464.35,170.96 464.72,169.42 463.51,168.39 465.09,168.26" fill="#d8424a"/>
<line x1="477.30" y1="148.40" x2="477.30" y2="169.10" stroke="#d8424a" stroke-width="0.9" />
<line x1="475.20" y1="148.40" x2="479.40" y2="148.40" stroke="#d8424a" stroke-width="0.9" />
<line x1="475.20" y1="169.10" x2="479.40" y2="169.10" stroke="#d8424a" stroke-width="0.9" />
<polygon points="477.30,156.40 477.91,157.86 479.49,157.99 478.28,159.02 478.65,160.56 477.30,159.73 475.95,160.56 476.32,159.02 475.11,157.99 476.69,157.86" fill="#d8424a"/>
<line x1="493.10" y1="141.80" x2="493.10" y2="160.20" stroke="#d8424a" stroke-width="0.9" />
<line x1="491.00" y1="141.80" x2="495.20" y2="141.80" stroke="#d8424a" stroke-width="0.9" />
<line x1="491.00" y1="160.20" x2="495.20" y2="160.20" stroke="#d8424a" stroke-width="0.9" />
<polygon points="493.10,149.00 493.71,150.46 495.29,150.59 494.08,151.62 494.45,153.16 493.10,152.34 491.75,153.16 492.12,151.62 490.91,150.59 492.49,150.46" fill="#d8424a"/>
<line x1="508.30" y1="147.10" x2="508.30" y2="160.90" stroke="#d8424a" stroke-width="0.9" />
<line x1="506.20" y1="147.10" x2="510.40" y2="147.10" stroke="#d8424a" stroke-width="0.9" />
<line x1="506.20" y1="160.90" x2="510.40" y2="160.90" stroke="#d8424a" stroke-width="0.9" />
<polygon points="508.30,151.90 508.91,153.36 510.49,153.49 509.28,154.52 509.65,156.06 508.30,155.23 506.95,156.06 507.32,154.52 506.11,153.49 507.69,153.36" fill="#d8424a"/>
<path d="M399.90,241.20L415.10,232.80L431.10,238.50L446.30,230.90L462.30,237.40L477.50,235.10L493.10,254.90" fill="none" stroke="#555" stroke-width="0.8" stroke-dasharray="2.2,1.6"/>
<line x1="399.90" y1="235.90" x2="399.90" y2="246.10" stroke="#444" stroke-width="0.9" />
<line x1="397.80" y1="235.90" x2="402.00" y2="235.90" stroke="#444" stroke-width="0.9" />
<line x1="397.80" y1="246.10" x2="402.00" y2="246.10" stroke="#444" stroke-width="0.9" />
<circle cx="399.90" cy="241.20" r="1.35" fill="#111"/>
<line x1="415.10" y1="226.00" x2="415.10" y2="239.70" stroke="#444" stroke-width="0.9" />
<line x1="413.00" y1="226.00" x2="417.20" y2="226.00" stroke="#444" stroke-width="0.9" />
<line x1="413.00" y1="239.70" x2="417.20" y2="239.70" stroke="#444" stroke-width="0.9" />
<circle cx="415.10" cy="232.80" r="1.35" fill="#111"/>
<line x1="431.10" y1="234.70" x2="431.10" y2="243.50" stroke="#444" stroke-width="0.9" />
<line x1="429.00" y1="234.70" x2="433.20" y2="234.70" stroke="#444" stroke-width="0.9" />
<line x1="429.00" y1="243.50" x2="433.20" y2="243.50" stroke="#444" stroke-width="0.9" />
<circle cx="431.10" cy="238.50" r="1.35" fill="#111"/>
<line x1="446.30" y1="228.30" x2="446.30" y2="232.80" stroke="#444" stroke-width="0.9" />
<line x1="444.20" y1="228.30" x2="448.40" y2="228.30" stroke="#444" stroke-width="0.9" />
<line x1="444.20" y1="232.80" x2="448.40" y2="232.80" stroke="#444" stroke-width="0.9" />
<circle cx="446.30" cy="230.90" r="1.35" fill="#111"/>
<line x1="462.30" y1="233.60" x2="462.30" y2="241.20" stroke="#444" stroke-width="0.9" />
<line x1="460.20" y1="233.60" x2="464.40" y2="233.60" stroke="#444" stroke-width="0.9" />
<line x1="460.20" y1="241.20" x2="464.40" y2="241.20" stroke="#444" stroke-width="0.9" />
<circle cx="462.30" cy="237.40" r="1.35" fill="#111"/>
<line x1="477.50" y1="229.80" x2="477.50" y2="240.40" stroke="#444" stroke-width="0.9" />
<line x1="475.40" y1="229.80" x2="479.60" y2="229.80" stroke="#444" stroke-width="0.9" />
<line x1="475.40" y1="240.40" x2="479.60" y2="240.40" stroke="#444" stroke-width="0.9" />
<circle cx="477.50" cy="235.10" r="1.35" fill="#111"/>
<line x1="493.10" y1="249.90" x2="493.10" y2="260.20" stroke="#444" stroke-width="0.9" />
<line x1="491.00" y1="249.90" x2="495.20" y2="249.90" stroke="#444" stroke-width="0.9" />
<line x1="491.00" y1="260.20" x2="495.20" y2="260.20" stroke="#444" stroke-width="0.9" />
<circle cx="493.10" cy="254.90" r="1.35" fill="#111"/>
<circle cx="401.50" cy="89.40" r="4.1" fill="#ec9035"/>
<circle cx="401.50" cy="105.00" r="4.1" fill="#ec9035"/>
<circle cx="417.10" cy="89.40" r="4.1" fill="#ec9035"/>
<circle cx="417.10" cy="105.00" r="4.1" fill="#ec9035"/>
<circle cx="410.90" cy="94.90" r="2.05" fill="#8ed84a"/>
<circle cx="410.90" cy="99.80" r="2.05" fill="#8ed84a"/>
<line x1="404.50" y1="97.40" x2="408.80" y2="97.40" stroke="#777" stroke-width="0.8" />
<path d="M400.60,97.40L404.50,95.20L404.50,99.60Z" fill="#000"/>
<circle cx="400.70" cy="189.40" r="4.1" fill="#ec9035"/>
<circle cx="400.70" cy="205.30" r="4.1" fill="#ec9035"/>
<circle cx="416.20" cy="189.40" r="4.1" fill="#ec9035"/>
<circle cx="416.20" cy="205.30" r="4.1" fill="#ec9035"/>
<circle cx="431.50" cy="189.40" r="4.1" fill="#ec9035"/>
<circle cx="431.50" cy="205.30" r="4.1" fill="#ec9035"/>
<circle cx="447.00" cy="189.40" r="4.1" fill="#ec9035"/>
<circle cx="447.00" cy="205.30" r="4.1" fill="#ec9035"/>
<circle cx="406.00" cy="194.90" r="2.05" fill="#8ed84a"/>
<circle cx="406.00" cy="199.80" r="2.05" fill="#8ed84a"/>
<circle cx="441.10" cy="194.90" r="2.05" fill="#8ed84a"/>
<circle cx="441.10" cy="199.80" r="2.05" fill="#8ed84a"/>
<line x1="408.00" y1="197.40" x2="412.50" y2="197.40" stroke="#777" stroke-width="0.8" />
<path d="M416.20,197.40L412.30,195.20L412.30,199.60Z" fill="#000"/>
<line x1="435.00" y1="197.40" x2="439.20" y2="197.40" stroke="#777" stroke-width="0.8" />
<path d="M430.60,197.40L434.50,195.20L434.50,199.60Z" fill="#000"/>
<circle cx="421.10" cy="195.20" r="2.5" fill="none" stroke="#8ed84a" stroke-width="0.6"/>
<circle cx="421.10" cy="200.00" r="2.5" fill="none" stroke="#8ed84a" stroke-width="0.6"/>
<circle cx="426.30" cy="195.20" r="2.5" fill="none" stroke="#8ed84a" stroke-width="0.6"/>
<circle cx="426.30" cy="200.00" r="2.5" fill="none" stroke="#8ed84a" stroke-width="0.6"/>
<circle cx="402.70" cy="287.10" r="4.1" fill="#ec9035"/>
<circle cx="402.70" cy="302.50" r="4.1" fill="#ec9035"/>
<circle cx="418.00" cy="287.10" r="4.1" fill="#ec9035"/>
<circle cx="418.00" cy="302.50" r="4.1" fill="#ec9035"/>
<circle cx="408.80" cy="292.70" r="2.05" fill="#8ed84a"/>
<circle cx="408.80" cy="297.20" r="2.05" fill="#8ed84a"/>
<line x1="410.80" y1="294.90" x2="415.00" y2="294.90" stroke="#aaa" stroke-width="0.8" />
<path d="M418.80,294.90L414.90,292.70L414.90,297.10Z" fill="#000"/>
<rect x="392.00" y="15.00" width="124.60" height="295.70" fill="none" stroke="#8a8a8a" stroke-width="1" />
<line x1="392.00" y1="113.50" x2="516.60" y2="113.50" stroke="#8a8a8a" stroke-width="1" />
<line x1="392.00" y1="212.10" x2="516.60" y2="212.10" stroke="#8a8a8a" stroke-width="1" />
<line x1="390.20" y1="29.15" x2="392.00" y2="29.15" stroke="#8a8a8a" stroke-width="1" />
<line x1="390.20" y1="43.30" x2="392.00" y2="43.30" stroke="#8a8a8a" stroke-width="1" />
<line x1="390.20" y1="57.45" x2="392.00" y2="57.45" stroke="#8a8a8a" stroke-width="1" />
<line x1="390.20" y1="71.60" x2="392.00" y2="71.60" stroke="#8a8a8a" stroke-width="1" />
<line x1="390.20" y1="85.75" x2="392.00" y2="85.75" stroke="#8a8a8a" stroke-width="1" />
<line x1="390.20" y1="99.90" x2="392.00" y2="99.90" stroke="#8a8a8a" stroke-width="1" />
<line x1="390.20" y1="114.05" x2="392.00" y2="114.05" stroke="#8a8a8a" stroke-width="1" />
<text x="388.20" y="48.80" font-size="10" text-anchor="end" fill="#000" >1.0</text>
<text x="388.20" y="77.10" font-size="10" text-anchor="end" fill="#000" >0.8</text>
<text x="388.20" y="105.40" font-size="10" text-anchor="end" fill="#000" >0.6</text>
<line x1="390.20" y1="127.65" x2="392.00" y2="127.65" stroke="#8a8a8a" stroke-width="1" />
<line x1="390.20" y1="141.80" x2="392.00" y2="141.80" stroke="#8a8a8a" stroke-width="1" />
<line x1="390.20" y1="155.95" x2="392.00" y2="155.95" stroke="#8a8a8a" stroke-width="1" />
<line x1="390.20" y1="170.10" x2="392.00" y2="170.10" stroke="#8a8a8a" stroke-width="1" />
<line x1="390.20" y1="184.25" x2="392.00" y2="184.25" stroke="#8a8a8a" stroke-width="1" />
<line x1="390.20" y1="198.40" x2="392.00" y2="198.40" stroke="#8a8a8a" stroke-width="1" />
<line x1="390.20" y1="212.55" x2="392.00" y2="212.55" stroke="#8a8a8a" stroke-width="1" />
<text x="388.20" y="147.30" font-size="10" text-anchor="end" fill="#000" >1.0</text>
<text x="388.20" y="175.60" font-size="10" text-anchor="end" fill="#000" >0.8</text>
<text x="388.20" y="203.90" font-size="10" text-anchor="end" fill="#000" >0.6</text>
<line x1="390.20" y1="226.25" x2="392.00" y2="226.25" stroke="#8a8a8a" stroke-width="1" />
<line x1="390.20" y1="240.40" x2="392.00" y2="240.40" stroke="#8a8a8a" stroke-width="1" />
<line x1="390.20" y1="254.55" x2="392.00" y2="254.55" stroke="#8a8a8a" stroke-width="1" />
<line x1="390.20" y1="268.70" x2="392.00" y2="268.70" stroke="#8a8a8a" stroke-width="1" />
<line x1="390.20" y1="282.85" x2="392.00" y2="282.85" stroke="#8a8a8a" stroke-width="1" />
<line x1="390.20" y1="297.00" x2="392.00" y2="297.00" stroke="#8a8a8a" stroke-width="1" />
<line x1="390.20" y1="311.15" x2="392.00" y2="311.15" stroke="#8a8a8a" stroke-width="1" />
<text x="388.20" y="245.90" font-size="10" text-anchor="end" fill="#000" >1.0</text>
<text x="388.20" y="274.20" font-size="10" text-anchor="end" fill="#000" >0.8</text>
<text x="388.20" y="302.50" font-size="10" text-anchor="end" fill="#000" >0.6</text>
<line x1="407.57" y1="310.70" x2="407.57" y2="312.50" stroke="#8a8a8a" stroke-width="1" />
<line x1="423.15" y1="310.70" x2="423.15" y2="312.50" stroke="#8a8a8a" stroke-width="1" />
<line x1="438.73" y1="310.70" x2="438.73" y2="312.50" stroke="#8a8a8a" stroke-width="1" />
<line x1="454.30" y1="310.70" x2="454.30" y2="312.50" stroke="#8a8a8a" stroke-width="1" />
<line x1="469.88" y1="310.70" x2="469.88" y2="312.50" stroke="#8a8a8a" stroke-width="1" />
<line x1="485.45" y1="310.70" x2="485.45" y2="312.50" stroke="#8a8a8a" stroke-width="1" />
<line x1="501.02" y1="310.70" x2="501.02" y2="312.50" stroke="#8a8a8a" stroke-width="1" />
<text x="403.20" y="324.30" font-size="10" text-anchor="middle" fill="#000" >1</text>
<text x="418.50" y="324.30" font-size="10" text-anchor="middle" fill="#000" >2</text>
<text x="433.80" y="324.30" font-size="10" text-anchor="middle" fill="#000" >3</text>
<text x="449.10" y="324.30" font-size="10" text-anchor="middle" fill="#000" >4</text>
<text x="464.40" y="324.30" font-size="10" text-anchor="middle" fill="#000" >5</text>
<text x="479.70" y="324.30" font-size="10" text-anchor="middle" fill="#000" >6</text>
<text x="495.00" y="324.30" font-size="10" text-anchor="middle" fill="#000" >7</text>
<text x="510.30" y="324.30" font-size="10" text-anchor="middle" fill="#000" >8</text>
<text x="456.80" y="337.00" font-size="10.2" text-anchor="middle" fill="#000" >Unit cell index</text>
<text x="0.00" y="0.00" font-size="10.4" text-anchor="middle" fill="#000" transform="translate(371.7,131.8) rotate(-90)">Phase (normalized)</text>
<text x="0" y="0" font-size="8.8" text-anchor="end" fill="#111" transform="translate(506.20,27.60) scale(1,1.08)" >Layer_1</text>
<text x="0" y="0" font-size="8.8" text-anchor="end" fill="#ff2020" transform="translate(506.40,125.10) scale(1,1.08)" >Layer_2</text>
<text x="0" y="0" font-size="8.8" text-anchor="end" fill="#ecbe36" transform="translate(506.40,223.00) scale(1,1.08)" >Layer_3</text>
<path d="M562.20,63.00L578.77,68.10L595.34,63.60L611.91,61.30L628.48,61.60L645.05,65.40L661.62,57.80L678.19,56.10L678.19,60.50L661.62,63.00L645.05,70.20L628.48,66.00L611.91,66.50L595.34,69.20L578.77,70.50L562.20,64.20Z" fill="#f2cc50" fill-opacity="0.35"/>
<path d="M562.20,63.60L578.77,69.30L595.34,66.40L611.91,63.90L628.48,63.80L645.05,67.80L661.62,60.40L678.19,58.30" fill="none" stroke="#eea52c" stroke-width="1.1"/>
<rect x="560.40" y="61.80" width="3.60" height="3.60" fill="#eea52c" stroke="none" stroke-width="1" />
<rect x="576.97" y="67.50" width="3.60" height="3.60" fill="#eea52c" stroke="none" stroke-width="1" />
<rect x="593.54" y="64.60" width="3.60" height="3.60" fill="#eea52c" stroke="none" stroke-width="1" />
<rect x="610.11" y="62.10" width="3.60" height="3.60" fill="#eea52c" stroke="none" stroke-width="1" />
<rect x="626.68" y="62.00" width="3.60" height="3.60" fill="#eea52c" stroke="none" stroke-width="1" />
<rect x="643.25" y="66.00" width="3.60" height="3.60" fill="#eea52c" stroke="none" stroke-width="1" />
<rect x="659.82" y="58.60" width="3.60" height="3.60" fill="#eea52c" stroke="none" stroke-width="1" />
<rect x="676.39" y="56.50" width="3.60" height="3.60" fill="#eea52c" stroke="none" stroke-width="1" />
<path d="M562.20,56.10L578.77,50.20L595.34,50.10L611.91,54.30L628.48,52.10L645.05,52.70L661.62,52.80L678.19,60.70L678.19,63.90L661.62,56.40L645.05,56.30L628.48,54.90L611.91,57.50L595.34,51.70L578.77,51.60L562.20,57.30Z" fill="#e8578a" fill-opacity="0.22"/>
<path d="M562.20,56.70L578.77,50.90L595.34,50.90L611.91,55.90L628.48,53.50L645.05,54.50L661.62,54.60L678.19,62.30" fill="none" stroke="#e8578a" stroke-width="1.1"/>
<path d="M560.40,54.90L564.00,58.50M564.00,54.90L560.40,58.50" stroke="#e8578a" stroke-width="0.9"/>
<path d="M576.97,49.10L580.57,52.70M580.57,49.10L576.97,52.70" stroke="#e8578a" stroke-width="0.9"/>
<path d="M593.54,49.10L597.14,52.70M597.14,49.10L593.54,52.70" stroke="#e8578a" stroke-width="0.9"/>
<path d="M610.11,54.10L613.71,57.70M613.71,54.10L610.11,57.70" stroke="#e8578a" stroke-width="0.9"/>
<path d="M626.68,51.70L630.28,55.30M630.28,51.70L626.68,55.30" stroke="#e8578a" stroke-width="0.9"/>
<path d="M643.25,52.70L646.85,56.30M646.85,52.70L643.25,56.30" stroke="#e8578a" stroke-width="0.9"/>
<path d="M659.82,52.80L663.42,56.40M663.42,52.80L659.82,56.40" stroke="#e8578a" stroke-width="0.9"/>
<path d="M676.39,60.50L679.99,64.10M679.99,60.50L676.39,64.10" stroke="#e8578a" stroke-width="0.9"/>
<path d="M562.20,162.60L578.77,165.20L595.34,161.60L611.91,161.80L628.48,157.90L645.05,165.20L661.62,160.00L678.19,154.10L678.19,160.10L661.62,164.80L645.05,170.80L628.48,162.70L611.91,166.60L595.34,166.80L578.77,170.80L562.20,166.60Z" fill="#f2cc50" fill-opacity="0.35"/>
<path d="M562.20,164.60L578.77,168.00L595.34,164.20L611.91,164.20L628.48,160.30L645.05,168.00L661.62,162.40L678.19,157.10" fill="none" stroke="#eea52c" stroke-width="1.1"/>
<rect x="560.40" y="162.80" width="3.60" height="3.60" fill="#eea52c" stroke="none" stroke-width="1" />
<rect x="576.97" y="166.20" width="3.60" height="3.60" fill="#eea52c" stroke="none" stroke-width="1" />
<rect x="593.54" y="162.40" width="3.60" height="3.60" fill="#eea52c" stroke="none" stroke-width="1" />
<rect x="610.11" y="162.40" width="3.60" height="3.60" fill="#eea52c" stroke="none" stroke-width="1" />
<rect x="626.68" y="158.50" width="3.60" height="3.60" fill="#eea52c" stroke="none" stroke-width="1" />
<rect x="643.25" y="166.20" width="3.60" height="3.60" fill="#eea52c" stroke="none" stroke-width="1" />
<rect x="659.82" y="160.60" width="3.60" height="3.60" fill="#eea52c" stroke="none" stroke-width="1" />
<rect x="676.39" y="155.30" width="3.60" height="3.60" fill="#eea52c" stroke="none" stroke-width="1" />
<path d="M562.20,155.90L578.77,157.80L595.34,156.20L611.91,152.20L628.48,152.30L645.05,151.70L661.62,156.70L678.19,155.50L678.19,159.50L661.62,162.30L645.05,157.70L628.48,157.90L611.91,156.60L595.34,162.20L578.77,165.80L562.20,161.90Z" fill="#e8578a" fill-opacity="0.22"/>
<path d="M562.20,158.90L578.77,161.80L595.34,159.20L611.91,154.40L628.48,155.10L645.05,154.70L661.62,159.50L678.19,157.50" fill="none" stroke="#e8578a" stroke-width="1.1"/>
<path d="M560.40,157.10L564.00,160.70M564.00,157.10L560.40,160.70" stroke="#e8578a" stroke-width="0.9"/>
<path d="M576.97,160.00L580.57,163.60M580.57,160.00L576.97,163.60" stroke="#e8578a" stroke-width="0.9"/>
<path d="M593.54,157.40L597.14,161.00M597.14,157.40L593.54,161.00" stroke="#e8578a" stroke-width="0.9"/>
<path d="M610.11,152.60L613.71,156.20M613.71,152.60L610.11,156.20" stroke="#e8578a" stroke-width="0.9"/>
<path d="M626.68,153.30L630.28,156.90M630.28,153.30L626.68,156.90" stroke="#e8578a" stroke-width="0.9"/>
<path d="M643.25,152.90L646.85,156.50M646.85,152.90L643.25,156.50" stroke="#e8578a" stroke-width="0.9"/>
<path d="M659.82,157.70L663.42,161.30M663.42,157.70L659.82,161.30" stroke="#e8578a" stroke-width="0.9"/>
<path d="M676.39,155.70L679.99,159.30M679.99,155.70L676.39,159.30" stroke="#e8578a" stroke-width="0.9"/>
<path d="M562.20,256.60L578.77,260.90L595.34,259.70L611.91,260.30L628.48,260.30L645.05,262.10L661.62,260.70L661.62,267.10L645.05,268.10L628.48,266.30L611.91,266.30L595.34,265.70L578.77,265.70L562.20,262.60Z" fill="#f2cc50" fill-opacity="0.35"/>
<path d="M562.20,259.60L578.77,263.30L595.34,262.70L611.91,263.30L628.48,263.30L645.05,265.10L661.62,263.90" fill="none" stroke="#eea52c" stroke-width="1.1"/>
<rect x="560.40" y="257.80" width="3.60" height="3.60" fill="#eea52c" stroke="none" stroke-width="1" />
<rect x="576.97" y="261.50" width="3.60" height="3.60" fill="#eea52c" stroke="none" stroke-width="1" />
<rect x="593.54" y="260.90" width="3.60" height="3.60" fill="#eea52c" stroke="none" stroke-width="1" />
<rect x="610.11" y="261.50" width="3.60" height="3.60" fill="#eea52c" stroke="none" stroke-width="1" />
<rect x="626.68" y="261.50" width="3.60" height="3.60" fill="#eea52c" stroke="none" stroke-width="1" />
<rect x="643.25" y="263.30" width="3.60" height="3.60" fill="#eea52c" stroke="none" stroke-width="1" />
<rect x="659.82" y="262.10" width="3.60" height="3.60" fill="#eea52c" stroke="none" stroke-width="1" />
<path d="M562.20,252.40L578.77,260.70L595.34,252.90L611.91,258.00L628.48,249.50L645.05,251.70L661.62,249.30L661.62,254.90L645.05,257.30L628.48,256.30L611.91,262.80L595.34,259.70L578.77,264.70L562.20,259.60Z" fill="#e8578a" fill-opacity="0.22"/>
<path d="M562.20,256.00L578.77,262.70L595.34,256.30L611.91,260.40L628.48,252.90L645.05,254.50L661.62,252.10" fill="none" stroke="#e8578a" stroke-width="1.1"/>
<path d="M560.40,254.20L564.00,257.80M564.00,254.20L560.40,257.80" stroke="#e8578a" stroke-width="0.9"/>
<path d="M576.97,260.90L580.57,264.50M580.57,260.90L576.97,264.50" stroke="#e8578a" stroke-width="0.9"/>
<path d="M593.54,254.50L597.14,258.10M597.14,254.50L593.54,258.10" stroke="#e8578a" stroke-width="0.9"/>
<path d="M610.11,258.60L613.71,262.20M613.71,258.60L610.11,262.20" stroke="#e8578a" stroke-width="0.9"/>
<path d="M626.68,251.10L630.28,254.70M630.28,251.10L626.68,254.70" stroke="#e8578a" stroke-width="0.9"/>
<path d="M643.25,252.70L646.85,256.30M646.85,252.70L643.25,256.30" stroke="#e8578a" stroke-width="0.9"/>
<path d="M659.82,250.30L663.42,253.90M663.42,250.30L659.82,253.90" stroke="#e8578a" stroke-width="0.9"/>
<line x1="561.30" y1="24.40" x2="577.10" y2="24.40" stroke="#e8578a" stroke-width="1.1" />
<path d="M566.90,22.20L571.50,26.80M571.50,22.20L566.90,26.80" stroke="#e8578a" stroke-width="1.0"/>
<line x1="561.30" y1="34.80" x2="577.10" y2="34.80" stroke="#eea52c" stroke-width="1.3" />
<rect x="566.60" y="32.30" width="5.20" height="5.00" fill="#eea52c" stroke="none" stroke-width="1" />
<text x="579.90" y="27.30" font-size="7.6" text-anchor="start" fill="#111" >a2</text>
<text x="579.90" y="37.20" font-size="7.6" text-anchor="start" fill="#111" >c</text>
<rect x="553.70" y="16.20" width="130.50" height="295.10" fill="none" stroke="#8a8a8a" stroke-width="1" />
<line x1="553.70" y1="114.40" x2="684.20" y2="114.40" stroke="#8a8a8a" stroke-width="1" />
<line x1="553.70" y1="212.00" x2="684.20" y2="212.00" stroke="#8a8a8a" stroke-width="1" />
<line x1="551.90" y1="27.95" x2="553.70" y2="27.95" stroke="#8a8a8a" stroke-width="1" />
<line x1="551.90" y1="40.30" x2="553.70" y2="40.30" stroke="#8a8a8a" stroke-width="1" />
<line x1="551.90" y1="52.65" x2="553.70" y2="52.65" stroke="#8a8a8a" stroke-width="1" />
<line x1="551.90" y1="65.00" x2="553.70" y2="65.00" stroke="#8a8a8a" stroke-width="1" />
<line x1="551.90" y1="77.35" x2="553.70" y2="77.35" stroke="#8a8a8a" stroke-width="1" />
<line x1="551.90" y1="89.70" x2="553.70" y2="89.70" stroke="#8a8a8a" stroke-width="1" />
<line x1="551.90" y1="102.05" x2="553.70" y2="102.05" stroke="#8a8a8a" stroke-width="1" />
<text x="549.30" y="45.30" font-size="10" text-anchor="end" fill="#000" >280</text>
<text x="549.30" y="70.00" font-size="10" text-anchor="end" fill="#000" >260</text>
<text x="549.30" y="94.70" font-size="10" text-anchor="end" fill="#000" >240</text>
<line x1="551.90" y1="126.55" x2="553.70" y2="126.55" stroke="#8a8a8a" stroke-width="1" />
<line x1="551.90" y1="138.90" x2="553.70" y2="138.90" stroke="#8a8a8a" stroke-width="1" />
<line x1="551.90" y1="151.25" x2="553.70" y2="151.25" stroke="#8a8a8a" stroke-width="1" />
<line x1="551.90" y1="163.60" x2="553.70" y2="163.60" stroke="#8a8a8a" stroke-width="1" />
<line x1="551.90" y1="175.95" x2="553.70" y2="175.95" stroke="#8a8a8a" stroke-width="1" />
<line x1="551.90" y1="188.30" x2="553.70" y2="188.30" stroke="#8a8a8a" stroke-width="1" />
<line x1="551.90" y1="200.65" x2="553.70" y2="200.65" stroke="#8a8a8a" stroke-width="1" />
<text x="549.30" y="143.90" font-size="10" text-anchor="end" fill="#000" >280</text>
<text x="549.30" y="168.60" font-size="10" text-anchor="end" fill="#000" >260</text>
<text x="549.30" y="193.30" font-size="10" text-anchor="end" fill="#000" >240</text>
<line x1="551.90" y1="225.25" x2="553.70" y2="225.25" stroke="#8a8a8a" stroke-width="1" />
<line x1="551.90" y1="237.60" x2="553.70" y2="237.60" stroke="#8a8a8a" stroke-width="1" />
<line x1="551.90" y1="249.95" x2="553.70" y2="249.95" stroke="#8a8a8a" stroke-width="1" />
<line x1="551.90" y1="262.30" x2="553.70" y2="262.30" stroke="#8a8a8a" stroke-width="1" />
<line x1="551.90" y1="274.65" x2="553.70" y2="274.65" stroke="#8a8a8a" stroke-width="1" />
<line x1="551.90" y1="287.00" x2="553.70" y2="287.00" stroke="#8a8a8a" stroke-width="1" />
<line x1="551.90" y1="299.35" x2="553.70" y2="299.35" stroke="#8a8a8a" stroke-width="1" />
<text x="549.30" y="242.60" font-size="10" text-anchor="end" fill="#000" >280</text>
<text x="549.30" y="267.30" font-size="10" text-anchor="end" fill="#000" >260</text>
<text x="549.30" y="292.00" font-size="10" text-anchor="end" fill="#000" >240</text>
<line x1="570.40" y1="311.30" x2="570.40" y2="313.10" stroke="#8a8a8a" stroke-width="1" />
<line x1="586.80" y1="311.30" x2="586.80" y2="313.10" stroke="#8a8a8a" stroke-width="1" />
<line x1="603.20" y1="311.30" x2="603.20" y2="313.10" stroke="#8a8a8a" stroke-width="1" />
<line x1="619.60" y1="311.30" x2="619.60" y2="313.10" stroke="#8a8a8a" stroke-width="1" />
<line x1="636.00" y1="311.30" x2="636.00" y2="313.10" stroke="#8a8a8a" stroke-width="1" />
<line x1="652.40" y1="311.30" x2="652.40" y2="313.10" stroke="#8a8a8a" stroke-width="1" />
<line x1="668.80" y1="311.30" x2="668.80" y2="313.10" stroke="#8a8a8a" stroke-width="1" />
<text x="562.40" y="324.30" font-size="10" text-anchor="middle" fill="#000" >1</text>
<text x="578.80" y="324.30" font-size="10" text-anchor="middle" fill="#000" >2</text>
<text x="595.20" y="324.30" font-size="10" text-anchor="middle" fill="#000" >3</text>
<text x="611.60" y="324.30" font-size="10" text-anchor="middle" fill="#000" >4</text>
<text x="628.00" y="324.30" font-size="10" text-anchor="middle" fill="#000" >5</text>
<text x="644.40" y="324.30" font-size="10" text-anchor="middle" fill="#000" >6</text>
<text x="660.80" y="324.30" font-size="10" text-anchor="middle" fill="#000" >7</text>
<text x="677.20" y="324.30" font-size="10" text-anchor="middle" fill="#000" >8</text>
<text x="619.40" y="337.00" font-size="10.2" text-anchor="middle" fill="#000" >Unit cell index</text>
<text x="0.00" y="0.00" font-size="10.3" text-anchor="middle" fill="#000" transform="translate(528,131.6) rotate(-90)">Lattice constant (pm)</text>
<text x="0" y="0" font-size="8.8" text-anchor="end" fill="#111" transform="translate(673.60,27.80) scale(1,1.08)" >Layer_1</text>
<text x="0" y="0" font-size="8.8" text-anchor="end" fill="#ff2020" transform="translate(674.90,126.10) scale(1,1.08)" >Layer_2</text>
<text x="0" y="0" font-size="8.8" text-anchor="end" fill="#ecbe36" transform="translate(674.00,224.10) scale(1,1.08)" >Layer_3</text></svg>
</body></html>
